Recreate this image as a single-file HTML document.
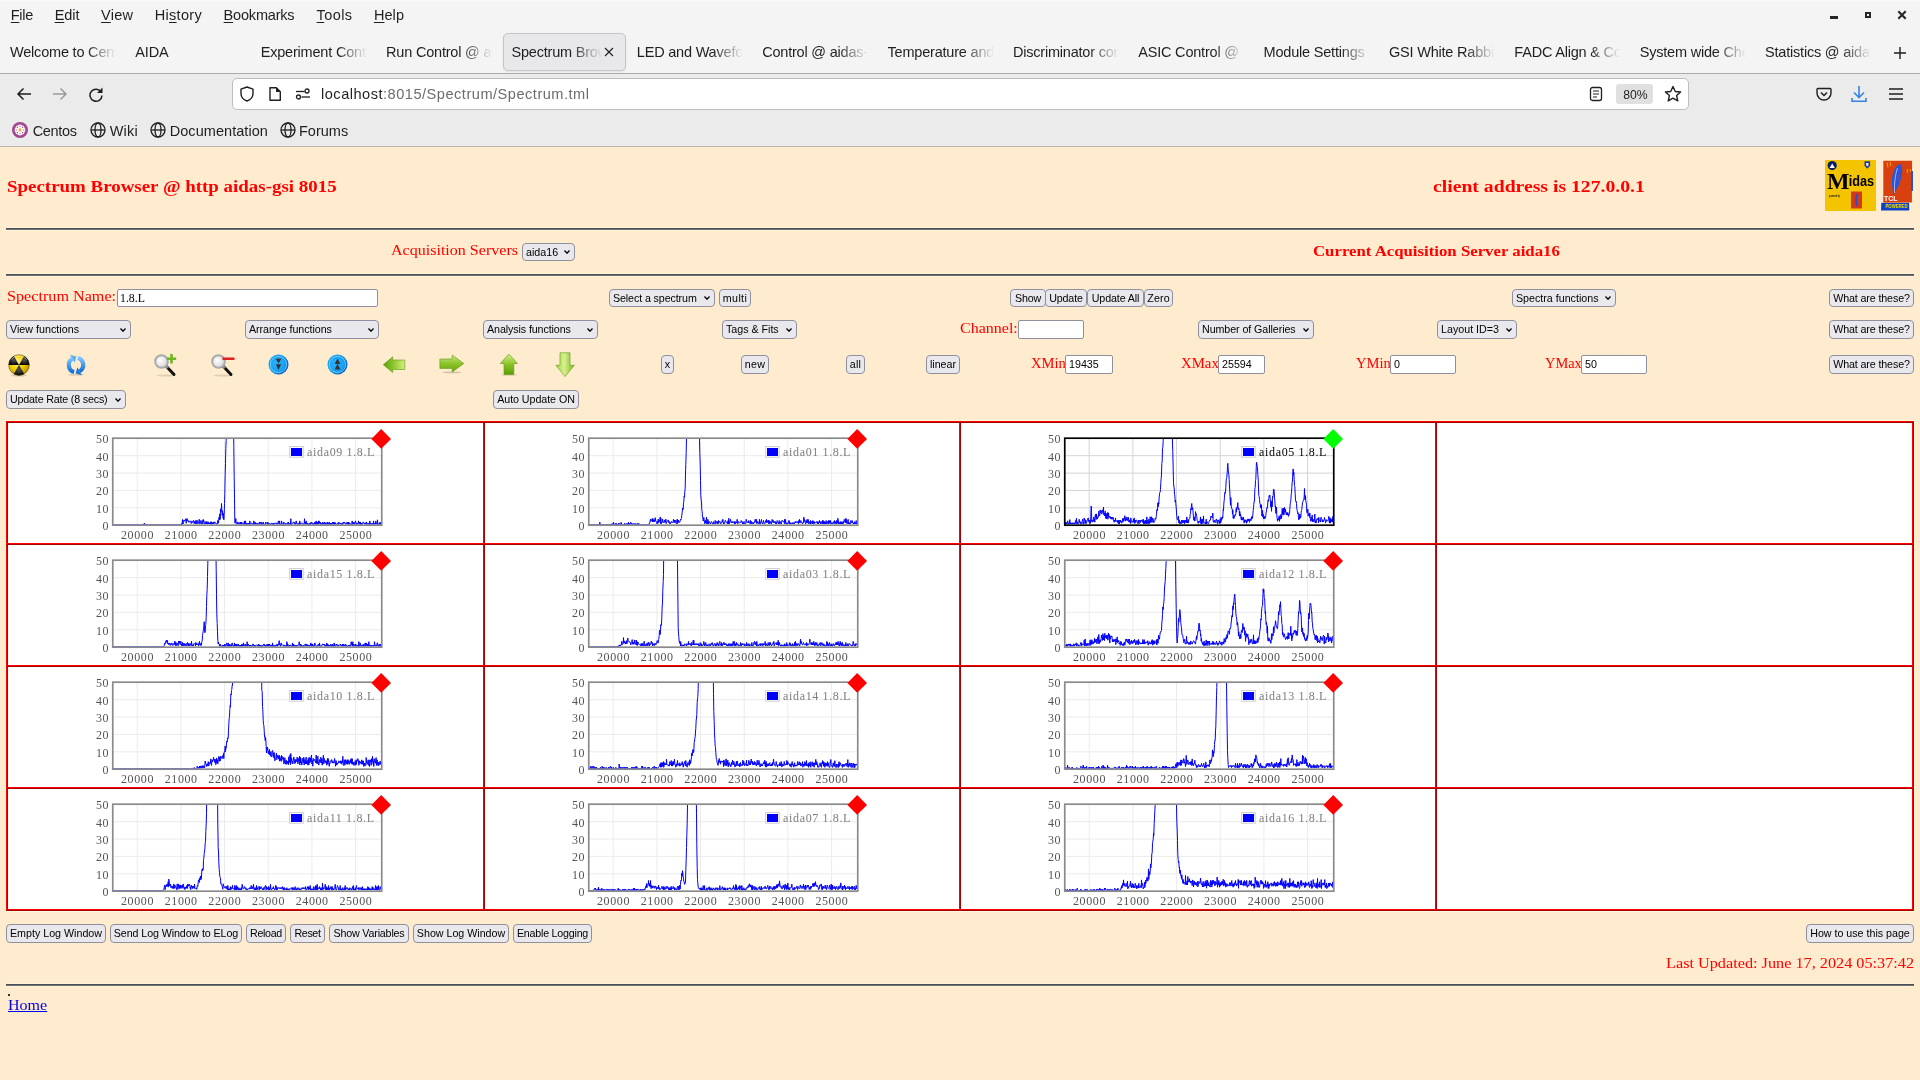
<!DOCTYPE html><html><head><meta charset="utf-8"><title>Spectrum Browser</title><style>
*{box-sizing:border-box}
html,body{margin:0;padding:0}
body{width:1920px;height:1080px;overflow:hidden;position:relative;background:#FFEBCD;font-family:"Liberation Sans", sans-serif;will-change:transform}
.ab{position:absolute;white-space:nowrap}
.menu{font-size:14.5px;color:#1f1f1f;top:7px}
.menu u{text-decoration:underline;text-underline-offset:2px}
.tab{font-size:14.5px;letter-spacing:-0.2px;color:#1f1f1f;top:44px;overflow:hidden;-webkit-mask-image:linear-gradient(to right,#000 72%,transparent 100%);mask-image:linear-gradient(to right,#000 72%,transparent 100%)}
.bm{font-size:14.5px;color:#1f1f1f;top:122.5px}
.btn{position:absolute;background:#e9e9ed;border:1px solid #8f8f9d;border-radius:4px;font-size:10.7px;color:#000;line-height:16px;white-space:nowrap;padding:0;text-align:center}
.sel{position:absolute;background:#e9e9ed;border:1px solid #8f8f9d;border-radius:4px;font-size:10.7px;color:#000;line-height:16px;white-space:nowrap;padding-left:3px;text-align:left}
.sel i{position:absolute;right:4px;top:50%;margin-top:-2px;width:6px;height:4px}
.inp{position:absolute;background:#fff;border:1px solid #8f8f9d;border-radius:2px;font-size:10.7px;color:#000;line-height:16px;white-space:nowrap;padding-left:3px}
.rs{font-family:"Liberation Serif", serif;color:#ff0000;position:absolute;white-space:nowrap}
.hr{position:absolute;left:6px;width:1908px;height:2px;background:linear-gradient(#4d5055 50%,#6d7075 50%);box-shadow:0 -1px 0 #fff3d8,0 1px 0 #fff3d8}
.sf{font-family:"Liberation Serif", serif;font-size:11.8px}
.ax{position:absolute;font-family:"Liberation Serif", serif;font-size:12px;letter-spacing:0.6px;color:#545454;white-space:nowrap;line-height:12px}
</style></head><body>
<div class="ab" style="left:0;top:0;width:1920px;height:73px;background:#f4f4f4"></div>
<div class="ab" style="left:0;top:0;width:1920px;height:1px;background:#fbfbfb"></div>
<div class="ab" style="left:0;top:73px;width:1920px;height:1px;background:#ababab"></div>
<div class="ab" style="left:0;top:74px;width:1920px;height:73px;background:#ebebeb"></div>
<div class="ab" style="left:0;top:145px;width:1920px;height:1px;background:#efefef"></div><div class="ab" style="left:0;top:146px;width:1920px;height:1px;background:#b6b7b3"></div>
<div id="mFile" class="ab menu" style="left:10.8px;letter-spacing:-0.325px;"><u>F</u>ile</div>
<div id="mEdit" class="ab menu" style="left:54.699999999999996px;letter-spacing:-0.033px;"><u>E</u>dit</div>
<div id="mView" class="ab menu" style="left:101.10000000000001px;letter-spacing:0.237px;"><u>V</u>iew</div>
<div id="mHistory" class="ab menu" style="left:154.70000000000002px;letter-spacing:0.312px;">Hi<u>s</u>tory</div>
<div id="mBookmarks" class="ab menu" style="left:223.6px;letter-spacing:-0.191px;"><u>B</u>ookmarks</div>
<div id="mTools" class="ab menu" style="left:316.59999999999997px;letter-spacing:0.385px;"><u>T</u>ools</div>
<div id="mHelp" class="ab menu" style="left:373.9px;letter-spacing:0.085px;"><u>H</u>elp</div>
<div class="ab" style="left:1830px;top:16px;width:8px;height:3px;background:#23272a"></div>
<div class="ab" style="left:1865px;top:12px;width:6px;height:6px;border:2px solid #23272a"></div>
<svg class="ab" style="left:1897px;top:10px" width="10" height="10" viewBox="0 0 10 10"><path d="M1.3 1.3L8.7 8.7M8.7 1.3L1.3 8.7" stroke="#23272a" stroke-width="2.1"/></svg>
<div class="ab tab" style="left:10.00px;width:106px">Welcome to CentOS Stream</div>
<div class="ab tab" style="left:135.36px;width:100px;-webkit-mask-image:none;mask-image:none">AIDA</div>
<div class="ab tab" style="left:260.72px;width:106px">Experiment Control</div>
<div class="ab tab" style="left:386.08px;width:106px">Run Control @ aidas</div>
<div class="ab" style="left:503px;top:33px;width:123px;height:38px;background:#e8e8ea;border:1px solid #c4c4cc;border-radius:5px;box-shadow:0 1px 2px rgba(0,0,0,0.08)"></div>
<div class="ab tab" style="left:511.44px;width:91px;-webkit-mask-image:linear-gradient(to right,#000 66%,transparent 100%)">Spectrum Browser</div>
<svg class="ab" style="left:604px;top:47px" width="10" height="10" viewBox="0 0 10 10"><path d="M1 1L9 9M9 1L1 9" stroke="#1f1f1f" stroke-width="1.1"/></svg>
<div class="ab tab" style="left:636.80px;width:106px">LED and Waveforms</div>
<div class="ab tab" style="left:762.16px;width:106px">Control @ aidas-gsi</div>
<div class="ab tab" style="left:887.52px;width:106px">Temperature and</div>
<div class="ab tab" style="left:1012.88px;width:106px">Discriminator control</div>
<div class="ab tab" style="left:1138.24px;width:106px">ASIC Control @ aidas</div>
<div class="ab tab" style="left:1263.60px;width:106px">Module Settings</div>
<div class="ab tab" style="left:1388.96px;width:106px">GSI White Rabbit</div>
<div class="ab tab" style="left:1514.32px;width:106px">FADC Align & Control</div>
<div class="ab tab" style="left:1639.68px;width:106px">System wide Checks</div>
<div class="ab tab" style="left:1765.04px;width:106px">Statistics @ aidas</div>
<svg class="ab" style="left:1893.5px;top:46.7px" width="12" height="12" viewBox="0 0 12 12"><path d="M6 0V12M0 6H12" stroke="#1f1f1f" stroke-width="1.4"/></svg>
<svg class="ab" style="left:16px;top:87px" width="16" height="14" viewBox="0 0 16 14"><path d="M15 7H2M7.5 1.5L2 7l5.5 5.5" stroke="#1f1f1f" stroke-width="1.5" fill="none"/></svg>
<svg class="ab" style="left:52px;top:87px" width="16" height="14" viewBox="0 0 16 14"><path d="M1 7H14M8.5 1.5L14 7l-5.5 5.5" stroke="#9a9a9a" stroke-width="1.5" fill="none"/></svg>
<svg class="ab" style="left:88px;top:86px" width="16" height="16" viewBox="0 0 16 16"><path d="M13.2 6.2A6 6 0 1 0 14 9.5" stroke="#1f1f1f" stroke-width="1.5" fill="none"/><path d="M14.5 1.5V7H9z" fill="#1f1f1f"/></svg>
<div class="ab" style="left:232px;top:78px;width:1457px;height:32px;background:#fff;border:1px solid #bdbdbd;border-radius:5px"></div>
<svg class="ab" style="left:239px;top:86px" width="16" height="16" viewBox="0 0 16 16"><path d="M8 1L2 3.2v4.3c0 3.6 2.6 6.3 6 7.5 3.4-1.2 6-3.9 6-7.5V3.2z" stroke="#1f1f1f" stroke-width="1.4" fill="none" stroke-linejoin="round"/></svg>
<svg class="ab" style="left:268px;top:86px" width="14" height="16" viewBox="0 0 14 16"><path d="M2 1.7h6.3L12.3 5.7V14.3H2z" stroke="#1f1f1f" stroke-width="1.4" fill="none" stroke-linejoin="round"/><path d="M8 1.5V6h4.5" fill="#1f1f1f"/><path d="M8 1.7L12.3 6H8z" fill="#1f1f1f"/></svg>
<svg class="ab" style="left:295px;top:88px" width="16" height="12" viewBox="0 0 16 12"><circle cx="12" cy="3" r="2" stroke="#1f1f1f" stroke-width="1.3" fill="none"/><path d="M1 3.5H9.5" stroke="#1f1f1f" stroke-width="1.3"/><circle cx="3.5" cy="9" r="2" stroke="#1f1f1f" stroke-width="1.3" fill="none"/><path d="M6.5 9H15" stroke="#1f1f1f" stroke-width="1.3"/></svg>
<div id="url" class="ab" style="left:321px;top:86px;font-size:14.6px;color:#1f1f1f;letter-spacing:0.496px;">localhost<span style="color:#6b6b6b">:8015/Spectrum/Spectrum.tml</span></div>
<svg class="ab" style="left:1589px;top:86px" width="14" height="16" viewBox="0 0 14 16"><rect x="1.5" y="1.5" width="11" height="13" rx="2" stroke="#1f1f1f" stroke-width="1.3" fill="none"/><path d="M4 5H10M4 8H10M4 11H8" stroke="#1f1f1f" stroke-width="1.2"/></svg>
<div class="ab" style="left:1616px;top:84px;width:37px;height:20px;background:#e0e0e0;border-radius:3px"></div>
<div class="ab" style="left:1623.3px;top:88px;font-size:12.2px;color:#1f1f1f">80%</div>
<svg class="ab" style="left:1664px;top:85px" width="18" height="18" viewBox="0 0 18 18"><path d="M9 1.5l2.3 5 5.3.5-4 3.6 1.2 5.3L9 13.2l-4.8 2.7 1.2-5.3-4-3.6 5.3-.5z" stroke="#1f1f1f" stroke-width="1.4" fill="none" stroke-linejoin="round"/></svg>
<svg class="ab" style="left:1816px;top:86px" width="16" height="16" viewBox="0 0 16 16"><path d="M2 2.5h12a1 1 0 0 1 1 1V7a7 7 0 0 1-14 0V3.5a1 1 0 0 1 1-1z" stroke="#1f1f1f" stroke-width="1.4" fill="none"/><path d="M5 6.5l3 3 3-3" stroke="#1f1f1f" stroke-width="1.5" fill="none"/></svg>
<svg class="ab" style="left:1851px;top:85px" width="16" height="18" viewBox="0 0 16 18"><path d="M8 1V12M3 7.5L8 12.5l5-5" stroke="#3584e4" stroke-width="1.6" fill="none"/><path d="M1 13V16.2H15V13" stroke="#3584e4" stroke-width="1.6" fill="none"/></svg>
<svg class="ab" style="left:1888px;top:87px" width="16" height="14" viewBox="0 0 16 14"><path d="M1 2H15M1 7H15M1 12H15" stroke="#1f1f1f" stroke-width="1.5"/></svg>
<svg class="ab" style="left:12px;top:122px" width="16" height="16" viewBox="0 0 16 16"><circle cx="8" cy="8" r="8" fill="#a0488f"/><g fill="none" stroke="#fff" stroke-width="1.1"><circle cx="11.20" cy="8.00" r="1.7"/><circle cx="10.26" cy="10.26" r="1.7"/><circle cx="8.00" cy="11.20" r="1.7"/><circle cx="5.74" cy="10.26" r="1.7"/><circle cx="4.80" cy="8.00" r="1.7"/><circle cx="5.74" cy="5.74" r="1.7"/><circle cx="8.00" cy="4.80" r="1.7"/><circle cx="10.26" cy="5.74" r="1.7"/></g><circle cx="8" cy="8" r="1.4" fill="#f6a623"/></svg>
<div id="bCentos" class="ab bm" style="left:32.7px;letter-spacing:-0.311px;">Centos</div>
<svg class="ab" style="left:90px;top:122px" width="16" height="16" viewBox="0 0 16 16"><g fill="none" stroke="#1f1f1f" stroke-width="1.3"><circle cx="8" cy="8" r="7"/><ellipse cx="8" cy="8" rx="3" ry="7"/><path d="M1 8H15"/></g></svg>
<div id="bWiki" class="ab bm" style="left:109.7px;letter-spacing:0.236px;">Wiki</div>
<svg class="ab" style="left:150px;top:122px" width="16" height="16" viewBox="0 0 16 16"><g fill="none" stroke="#1f1f1f" stroke-width="1.3"><circle cx="8" cy="8" r="7"/><ellipse cx="8" cy="8" rx="3" ry="7"/><path d="M1 8H15"/></g></svg>
<div id="bDocumentation" class="ab bm" style="left:169.7px;letter-spacing:0.056px;">Documentation</div>
<svg class="ab" style="left:280px;top:122px" width="16" height="16" viewBox="0 0 16 16"><g fill="none" stroke="#1f1f1f" stroke-width="1.3"><circle cx="8" cy="8" r="7"/><ellipse cx="8" cy="8" rx="3" ry="7"/><path d="M1 8H15"/></g></svg>
<div class="ab bm" style="left:299px">Forums</div>
<div id="title" class="rs" style="left:7px;top:176.6px;font-size:16.8px;font-weight:bold;transform:scaleX(1.1274);transform-origin:0 0;">Spectrum Browser @ http aidas-gsi 8015</div>
<div id="client" class="rs" style="left:1433px;top:176.6px;font-size:16.8px;font-weight:bold;transform:scaleX(1.1730);transform-origin:0 0;">client address is 127.0.0.1</div>
<svg class="ab" style="left:1825px;top:160px" width="52" height="52" viewBox="0 0 52 52">
<rect x="0" y="0" width="51" height="51" fill="#f5c400"/>
<circle cx="7.2" cy="5.6" r="4.6" fill="#0a1f6e"/><path d="M4.6 7.9L7.2 3.6 9.8 7.9z" fill="#fff"/>
<path d="M39.5 1.2h5.6v4.6l-2.8 3-2.8-3z" fill="#1a3aa0"/><path d="M41 3h2.6v2.2l-1.3 1.4-1.3-1.4z" fill="#d8d8f0"/>
<text x="2" y="29" font-family="Liberation Serif" font-weight="bold" font-size="24" fill="#000" textLength="22.5" lengthAdjust="spacingAndGlyphs">M</text>
<text x="23.8" y="26.2" font-family="Liberation Sans" font-weight="bold" font-size="14" fill="#000" textLength="25.3" lengthAdjust="spacingAndGlyphs">idas</text>
<text x="4" y="36.5" font-family="Liberation Sans" font-weight="bold" font-size="3.2" fill="#222" textLength="11" lengthAdjust="spacingAndGlyphs">powered by</text>
<rect x="26" y="31.5" width="11" height="17" fill="#d33a1a"/><path d="M32.5 34q-2.5 5-0.5 12" stroke="#2850c8" stroke-width="2" fill="none"/>
</svg>
<svg class="ab" style="left:1881px;top:160px" width="33" height="52" viewBox="0 0 33 52">
<path d="M0.3 42.8h27.7l0.3 7.8H0z" fill="#1040c8"/>
<path d="M2.3 0.7h28.8l-0.2 41.8H2.3z" fill="#d8400f"/>
<path d="M30 11h2v20h-2z" fill="#2850d8"/>
<path d="M19.5 4C13 6 10.5 15 11 25L12.5 35.5 14.5 31C17 27 19.5 22 20.5 17 21.5 12 21.5 8 19.5 4z" fill="#2a55d8"/><path d="M16.5 8Q13 18 13.5 33" stroke="#b8d0f8" stroke-width="0.8" fill="none"/><path d="M20 14l-3 3M19.5 19l-3 2.5" stroke="#d8400f" stroke-width="0.7"/>
<path d="M6 2.5l1 5M9 2l0.8 4M26 9l0.6 4M29 9l0.5 3" stroke="#f4a000" stroke-width="1.1"/>
<text x="3" y="41" font-family="Liberation Sans" font-weight="bold" font-size="6.5" fill="#fff" textLength="13.5" lengthAdjust="spacingAndGlyphs">TCL</text>
<text x="4.5" y="48.3" font-family="Liberation Sans" font-weight="bold" font-size="5" fill="#f5e000" textLength="22" lengthAdjust="spacingAndGlyphs">POWERED</text>
</svg>
<div class="hr" style="top:228px"></div>
<div class="hr" style="top:274px"></div>
<div class="hr" style="top:984px"></div>
<div id="acq" class="rs" style="left:391px;top:242px;font-size:14.8px;transform:scaleX(1.0842);transform-origin:0 0;">Acquisition Servers</div>
<div id="cur" class="rs" style="left:1313px;top:243px;font-size:14.8px;font-weight:bold;transform:scaleX(1.1336);transform-origin:0 0;">Current Acquisition Server aida16</div>
<div class="sel" style="left:522px;top:243px;width:53px;height:18px;line-height:16px">aida16<i><svg width="6" height="4" viewBox="0 0 6 4" style="display:block"><path d="M0.5 0.5L3 3.2 5.5 0.5" stroke="#000" stroke-width="1.3" fill="none"/></svg></i></div>
<div id="specname" class="rs" style="left:7px;top:288px;font-size:14.8px;transform:scaleX(1.0925);transform-origin:0 0;">Spectrum Name:</div>
<div class="inp" style="left:117px;top:289px;width:261px;height:18px;line-height:16px;padding-left:2px"><span class="sf">1.8.L</span></div>
<div class="sel" style="left:609px;top:289px;width:106px;height:18px;line-height:16px"><span id="c2" style="letter-spacing:-0.109px;">Select a spectrum</span><i><svg width="6" height="4" viewBox="0 0 6 4" style="display:block"><path d="M0.5 0.5L3 3.2 5.5 0.5" stroke="#000" stroke-width="1.3" fill="none"/></svg></i></div>
<div class="btn" style="left:719px;top:289px;width:32px;height:18px;line-height:16px"><span id="c3" style="letter-spacing:0.355px;">multi</span></div>
<div class="btn" style="left:1010px;top:289px;width:36px;height:18px;line-height:16px"><span id="c4" style="letter-spacing:-0.183px;">Show</span></div>
<div class="btn" style="left:1045px;top:289px;width:42px;height:18px;line-height:16px"><span id="c5" style="letter-spacing:-0.174px;">Update</span></div>
<div class="btn" style="left:1087px;top:289px;width:57px;height:18px;line-height:16px"><span id="c6" style="letter-spacing:-0.115px;">Update All</span></div>
<div class="btn" style="left:1144px;top:289px;width:29px;height:18px;line-height:16px"><span id="c7" style="letter-spacing:0.105px;">Zero</span></div>
<div class="sel" style="left:1512px;top:289px;width:104px;height:18px;line-height:16px"><span id="c8" style="letter-spacing:-0.005px;">Spectra functions</span><i><svg width="6" height="4" viewBox="0 0 6 4" style="display:block"><path d="M0.5 0.5L3 3.2 5.5 0.5" stroke="#000" stroke-width="1.3" fill="none"/></svg></i></div>
<div class="btn" style="left:1829px;top:289px;width:85px;height:18px;line-height:16px"><span id="c9" style="letter-spacing:-0.116px;">What are these?</span></div>
<div class="sel" style="left:6px;top:320px;width:125px;height:19px;line-height:17px"><span id="c10" style="letter-spacing:0.022px;">View functions</span><i><svg width="6" height="4" viewBox="0 0 6 4" style="display:block"><path d="M0.5 0.5L3 3.2 5.5 0.5" stroke="#000" stroke-width="1.3" fill="none"/></svg></i></div>
<div class="sel" style="left:245px;top:320px;width:134px;height:19px;line-height:17px"><span id="c11" style="letter-spacing:-0.055px;">Arrange functions</span><i><svg width="6" height="4" viewBox="0 0 6 4" style="display:block"><path d="M0.5 0.5L3 3.2 5.5 0.5" stroke="#000" stroke-width="1.3" fill="none"/></svg></i></div>
<div class="sel" style="left:483px;top:320px;width:115px;height:19px;line-height:17px"><span id="c12" style="letter-spacing:-0.097px;">Analysis functions</span><i><svg width="6" height="4" viewBox="0 0 6 4" style="display:block"><path d="M0.5 0.5L3 3.2 5.5 0.5" stroke="#000" stroke-width="1.3" fill="none"/></svg></i></div>
<div class="sel" style="left:722px;top:320px;width:75px;height:19px;line-height:17px"><span id="c13" style="letter-spacing:-0.016px;">Tags &amp; Fits</span><i><svg width="6" height="4" viewBox="0 0 6 4" style="display:block"><path d="M0.5 0.5L3 3.2 5.5 0.5" stroke="#000" stroke-width="1.3" fill="none"/></svg></i></div>
<div id="channel" class="rs" style="left:960px;top:320px;font-size:14.8px;transform:scaleX(1.0816);transform-origin:0 0;">Channel:</div>
<div class="inp" style="left:1018px;top:320px;width:66px;height:19px;line-height:17px;"></div>
<div class="sel" style="left:1198px;top:320px;width:116px;height:19px;line-height:17px"><span id="c14" style="letter-spacing:-0.075px;">Number of Galleries</span><i><svg width="6" height="4" viewBox="0 0 6 4" style="display:block"><path d="M0.5 0.5L3 3.2 5.5 0.5" stroke="#000" stroke-width="1.3" fill="none"/></svg></i></div>
<div class="sel" style="left:1437px;top:320px;width:80px;height:19px;line-height:17px"><span id="c15" style="letter-spacing:0.006px;">Layout ID=3</span><i><svg width="6" height="4" viewBox="0 0 6 4" style="display:block"><path d="M0.5 0.5L3 3.2 5.5 0.5" stroke="#000" stroke-width="1.3" fill="none"/></svg></i></div>
<div class="btn" style="left:1829px;top:320px;width:85px;height:19px;line-height:17px"><span id="c16" style="letter-spacing:-0.116px;">What are these?</span></div>
<div class="btn" style="left:661px;top:355px;width:13px;height:19px;line-height:17px">x</div>
<div class="btn" style="left:741px;top:355px;width:28px;height:19px;line-height:17px"><span id="c18" style="letter-spacing:0.245px;">new</span></div>
<div class="btn" style="left:846px;top:355px;width:19px;height:19px;line-height:17px"><span id="c19" style="letter-spacing:0.298px;">all</span></div>
<div class="btn" style="left:926px;top:355px;width:34px;height:19px;line-height:17px"><span id="c20" style="letter-spacing:0.012px;">linear</span></div>
<div id="xmin" class="rs" style="left:1031px;top:355px;font-size:14.8px;transform:scaleX(0.9842);transform-origin:0 0;">XMin</div>
<div class="inp" style="left:1065px;top:355px;width:48px;height:19px;line-height:17px;">19435</div>
<div id="xmax" class="rs" style="left:1181px;top:355px;font-size:14.8px;transform:scaleX(0.9997);transform-origin:0 0;">XMax</div>
<div class="inp" style="left:1218px;top:355px;width:47px;height:19px;line-height:17px;">25594</div>
<div id="ymin" class="rs" style="left:1356px;top:355px;font-size:14.8px;transform:scaleX(0.9842);transform-origin:0 0;">YMin</div>
<div class="inp" style="left:1390px;top:355px;width:66px;height:19px;line-height:17px;">0</div>
<div id="ymax" class="rs" style="left:1544.6px;top:355px;font-size:14.8px;transform:scaleX(0.9732);transform-origin:0 0;">YMax</div>
<div class="inp" style="left:1581px;top:355px;width:66px;height:19px;line-height:17px;">50</div>
<div class="btn" style="left:1829px;top:355px;width:85px;height:19px;line-height:17px"><span id="c21" style="letter-spacing:-0.116px;">What are these?</span></div>
<div class="sel" style="left:6px;top:390px;width:120px;height:19px;line-height:17px"><span id="c22" style="letter-spacing:-0.178px;">Update Rate (8 secs)</span><i><svg width="6" height="4" viewBox="0 0 6 4" style="display:block"><path d="M0.5 0.5L3 3.2 5.5 0.5" stroke="#000" stroke-width="1.3" fill="none"/></svg></i></div>
<div class="btn" style="left:493px;top:390px;width:86px;height:19px;line-height:17px"><span id="c23" style="letter-spacing:-0.056px;">Auto Update ON</span></div>
<div class="btn" style="left:6px;top:924px;width:100px;height:19px;line-height:17px"><span id="c24" style="letter-spacing:-0.005px;">Empty Log Window</span></div>
<div class="btn" style="left:110px;top:924px;width:132px;height:19px;line-height:17px"><span id="c25" style="letter-spacing:-0.098px;">Send Log Window to ELog</span></div>
<div class="btn" style="left:246px;top:924px;width:40px;height:19px;line-height:17px"><span id="c26" style="letter-spacing:-0.315px;">Reload</span></div>
<div class="btn" style="left:290px;top:924px;width:35px;height:19px;line-height:17px"><span id="c27" style="letter-spacing:-0.405px;">Reset</span></div>
<div class="btn" style="left:329px;top:924px;width:80px;height:19px;line-height:17px"><span id="c28" style="letter-spacing:-0.167px;">Show Variables</span></div>
<div class="btn" style="left:413px;top:924px;width:96px;height:19px;line-height:17px"><span id="c29" style="letter-spacing:-0.017px;">Show Log Window</span></div>
<div class="btn" style="left:513px;top:924px;width:79px;height:19px;line-height:17px"><span id="c30" style="letter-spacing:-0.223px;">Enable Logging</span></div>
<div class="btn" style="left:1806px;top:924px;width:108px;height:19px;line-height:17px"><span id="c31" style="letter-spacing:-0.011px;">How to use this page</span></div>
<div id="last" class="rs" style="left:1666px;top:955px;font-size:14.8px;transform:scaleX(1.0976);transform-origin:0 0;">Last Updated: June 17, 2024 05:37:42</div>
<div class="ab" style="left:8px;top:994px;width:2px;height:2px;background:#333"></div>
<div id="home" class="rs" style="left:8px;top:997px;font-size:14.8px;color:#0000ee;text-decoration:underline;transform:scaleX(1.0837);transform-origin:0 0;">Home</div>
<svg width="0" height="0" style="position:absolute"><defs>
<radialGradient id="gy" cx="0.4" cy="0.35" r="0.7"><stop offset="0" stop-color="#fff7a0"/><stop offset="0.5" stop-color="#f5d000"/><stop offset="1" stop-color="#b08a00"/></radialGradient>
<linearGradient id="gb" x1="0" y1="0" x2="0" y2="1"><stop offset="0" stop-color="#7cc4ff"/><stop offset="1" stop-color="#1470d8"/></linearGradient>
<radialGradient id="gbb" cx="0.42" cy="0.45" r="0.55"><stop offset="0" stop-color="#2ab4ff"/><stop offset="0.8" stop-color="#129ef2"/><stop offset="1" stop-color="#0a5cc0"/></radialGradient>
<linearGradient id="gg" x1="0" y1="0" x2="0" y2="1"><stop offset="0" stop-color="#d8f080"/><stop offset="0.5" stop-color="#8cc828"/><stop offset="1" stop-color="#5a9a10"/></linearGradient>
<linearGradient id="ggh" x1="0" y1="0" x2="1" y2="0"><stop offset="0" stop-color="#d8f080"/><stop offset="0.5" stop-color="#8cc828"/><stop offset="1" stop-color="#5a9a10"/></linearGradient>
<radialGradient id="gl" cx="0.4" cy="0.4" r="0.6"><stop offset="0" stop-color="#ffffff"/><stop offset="1" stop-color="#d8d8d8"/></radialGradient>
</defs></svg>
<svg class="ab" style="left:8px;top:354px" width="22" height="23" viewBox="0 0 22 23"><defs><radialGradient id="gk" cx="0.5" cy="0.45" r="0.6"><stop offset="0" stop-color="#555"/><stop offset="0.7" stop-color="#1a1a1a"/><stop offset="1" stop-color="#000"/></radialGradient></defs><ellipse cx="11" cy="21.3" rx="8" ry="1.2" fill="rgba(0,0,0,0.15)"/><circle cx="11" cy="11" r="10.3" fill="url(#gy)"/><path d="M11 11L0.70 11.00A10.3 10.3 0 0 1 5.85 2.08z" fill="url(#gk)"/><path d="M11 11L16.15 2.08A10.3 10.3 0 0 1 21.30 11.00z" fill="url(#gk)"/><path d="M11 11L16.15 19.92A10.3 10.3 0 0 1 5.85 19.92z" fill="url(#gk)"/><path d="M3.5 5.5A9.5 9.5 0 0 1 18.5 5.5" stroke="rgba(255,255,255,0.55)" stroke-width="0.8" fill="none"/><circle cx="11" cy="11" r="10.3" fill="none" stroke="#3a2a00" stroke-width="0.5"/></svg>
<svg class="ab" style="left:65px;top:354px" width="22" height="22" viewBox="0 0 22 22"><ellipse cx="11" cy="20.8" rx="8" ry="1" fill="rgba(0,0,0,0.12)"/><path d="M9.14 17.95A7.2 7.2 0 0 1 7.40 4.76" stroke="url(#gb)" stroke-width="4.2" fill="none"/><path d="M11.38 2.46L5.10 0.78L9.70 8.75z" fill="#5ab0f0"/><path d="M12.86 4.05A7.2 7.2 0 0 1 14.60 17.24" stroke="url(#gb)" stroke-width="4.2" fill="none"/><path d="M10.62 19.54L16.90 21.22L12.30 13.25z" fill="#1a78d8"/></svg>
<svg class="ab" style="left:153px;top:353px" width="26" height="24" viewBox="0 0 26 24"><ellipse cx="13" cy="22.5" rx="9" ry="1" fill="rgba(0,0,0,0.12)"/><path d="M13 13L21 21.5" stroke="#111" stroke-width="3" stroke-linecap="round"/><path d="M12.5 12.5L15 15" stroke="#888" stroke-width="3"/><circle cx="8.5" cy="8.5" r="6.3" fill="url(#gl)" stroke="#aaa" stroke-width="2"/><path d="M18.5 1V10.5M13.8 5.8H23.2" stroke="#6cb820" stroke-width="2.6"/></svg>
<svg class="ab" style="left:210px;top:353px" width="26" height="24" viewBox="0 0 26 24"><ellipse cx="13" cy="22.5" rx="9" ry="1" fill="rgba(0,0,0,0.12)"/><path d="M13 13L21 21.5" stroke="#111" stroke-width="3" stroke-linecap="round"/><path d="M12.5 12.5L15 15" stroke="#888" stroke-width="3"/><circle cx="8.5" cy="8.5" r="6.3" fill="url(#gl)" stroke="#aaa" stroke-width="2"/><path d="M13.5 5.8H23.5" stroke="#e02020" stroke-width="2.6" stroke-linecap="round"/></svg>
<svg class="ab" style="left:268px;top:354px" width="21" height="21" viewBox="0 0 21 21"><circle cx="10.5" cy="10.5" r="10" fill="url(#gbb)"/><circle cx="10.5" cy="10.5" r="8.2" fill="none" stroke="#9fdcff" stroke-width="0.8" opacity="0.8"/><path d="M10.5 9.5L13.3 4.8H7.7z M10.5 16L13.2 10.2H7.8z" fill="#3a3230"/></svg>
<svg class="ab" style="left:327px;top:354px" width="21" height="21" viewBox="0 0 21 21"><circle cx="10.5" cy="10.5" r="10" fill="url(#gbb)"/><circle cx="10.5" cy="10.5" r="8.2" fill="none" stroke="#9fdcff" stroke-width="0.8" opacity="0.8"/><path d="M10.5 4.6L13.4 10H7.6z M10.5 9.8L13.4 15.5H7.6z" fill="#3a3230"/></svg>
<svg class="ab" style="left:378px;top:350px" width="202" height="30" viewBox="378 350 202 30"><defs><linearGradient id="ga1" x1="0" y1="0" x2="1" y2="0"><stop offset="0" stop-color="#5c9e0c"/><stop offset="0.45" stop-color="#8cc42a"/><stop offset="1" stop-color="#d6ee86"/></linearGradient><linearGradient id="ga2" x1="0" y1="0" x2="0" y2="1"><stop offset="0" stop-color="#cfe98a"/><stop offset="0.5" stop-color="#8cc42a"/><stop offset="1" stop-color="#6aa814"/></linearGradient><linearGradient id="ga3" x1="0" y1="0" x2="0" y2="1"><stop offset="0" stop-color="#d2ec8a"/><stop offset="0.55" stop-color="#86c020"/><stop offset="1" stop-color="#5c9e0c"/></linearGradient><linearGradient id="ga4" x1="0" y1="0" x2="1" y2="0"><stop offset="0" stop-color="#a6d448"/><stop offset="0.45" stop-color="#d8f090"/><stop offset="1" stop-color="#7cb81c"/></linearGradient></defs><ellipse cx="452" cy="372.3" rx="10" ry="0.9" fill="rgba(0,0,0,0.18)"/><ellipse cx="509" cy="374.8" rx="8" ry="0.9" fill="rgba(0,0,0,0.15)"/><path d="M383.3 364.7L392.7 356.8V360H404.8V369.5H392.7V372.6Z" fill="url(#ga1)" stroke="#5a9a10" stroke-width="0.6" stroke-linejoin="round"/><path d="M463.8 363.5L452.2 355V359H439.9V368.4H452.2V372.1Z" fill="url(#ga2)" stroke="#5a9a10" stroke-width="0.6" stroke-linejoin="round"/><path d="M508.9 354L517.5 363.5H513.8V374.4H504V363.5H500.3Z" fill="url(#ga3)" stroke="#5a9a10" stroke-width="0.6" stroke-linejoin="round"/><path d="M565.1 376.6L574.3 365.3H570V352.8H560V365.3H555.9Z" fill="url(#ga4)" stroke="#5a9a10" stroke-width="0.6" stroke-linejoin="round"/></svg>
<div class="ab" style="left:5px;top:420px;width:1910px;height:492px;background:#fffadc"></div>
<div class="ab" style="left:6px;top:421px;width:1908px;height:490px;background:#fff"></div>
<div class="ab" style="left:6px;top:421px;width:1px;height:490px;background:#ff0000"></div>
<div class="ab" style="left:7px;top:421px;width:1px;height:490px;background:#a80000"></div>
<div class="ab" style="left:483px;top:421px;width:1px;height:490px;background:#ff0000"></div>
<div class="ab" style="left:484px;top:421px;width:1px;height:490px;background:#a80000"></div>
<div class="ab" style="left:959px;top:421px;width:1px;height:490px;background:#ff0000"></div>
<div class="ab" style="left:960px;top:421px;width:1px;height:490px;background:#a80000"></div>
<div class="ab" style="left:1435px;top:421px;width:1px;height:490px;background:#ff0000"></div>
<div class="ab" style="left:1436px;top:421px;width:1px;height:490px;background:#a80000"></div>
<div class="ab" style="left:1912px;top:421px;width:1px;height:490px;background:#ff0000"></div>
<div class="ab" style="left:1913px;top:421px;width:1px;height:490px;background:#a80000"></div>
<div class="ab" style="left:6px;top:421px;width:1908px;height:1px;background:#ff0000"></div>
<div class="ab" style="left:6px;top:422px;width:1908px;height:1px;background:#a80000"></div>
<div class="ab" style="left:6px;top:543px;width:1908px;height:1px;background:#ff0000"></div>
<div class="ab" style="left:6px;top:544px;width:1908px;height:1px;background:#a80000"></div>
<div class="ab" style="left:6px;top:665px;width:1908px;height:1px;background:#ff0000"></div>
<div class="ab" style="left:6px;top:666px;width:1908px;height:1px;background:#a80000"></div>
<div class="ab" style="left:6px;top:787px;width:1908px;height:1px;background:#ff0000"></div>
<div class="ab" style="left:6px;top:788px;width:1908px;height:1px;background:#a80000"></div>
<div class="ab" style="left:6px;top:909px;width:1908px;height:1px;background:#ff0000"></div>
<div class="ab" style="left:6px;top:910px;width:1908px;height:1px;background:#a80000"></div>
<svg class="ab" style="left:0;top:0" width="1920" height="1080" viewBox="0 0 1920 1080"><defs><clipPath id="cp0"><rect x="112.5" y="438.4" width="269.0" height="86.7"/></clipPath><clipPath id="cp1"><rect x="588.5" y="438.4" width="269.0" height="86.7"/></clipPath><clipPath id="cp2"><rect x="1064.5" y="438.4" width="269.0" height="86.7"/></clipPath><clipPath id="cp3"><rect x="112.5" y="560.4" width="269.0" height="86.7"/></clipPath><clipPath id="cp4"><rect x="588.5" y="560.4" width="269.0" height="86.7"/></clipPath><clipPath id="cp5"><rect x="1064.5" y="560.4" width="269.0" height="86.7"/></clipPath><clipPath id="cp6"><rect x="112.5" y="682.4" width="269.0" height="86.7"/></clipPath><clipPath id="cp7"><rect x="588.5" y="682.4" width="269.0" height="86.7"/></clipPath><clipPath id="cp8"><rect x="1064.5" y="682.4" width="269.0" height="86.7"/></clipPath><clipPath id="cp9"><rect x="112.5" y="804.4" width="269.0" height="86.7"/></clipPath><clipPath id="cp10"><rect x="588.5" y="804.4" width="269.0" height="86.7"/></clipPath><clipPath id="cp11"><rect x="1064.5" y="804.4" width="269.0" height="86.7"/></clipPath><style>.tx{font-family:"Liberation Serif",serif;font-size:12px;letter-spacing:0.6px;fill:#545454}</style></defs><path d="M137.2 438.4V525.1M180.9 438.4V525.1M224.5 438.4V525.1M268.2 438.4V525.1M311.9 438.4V525.1M355.6 438.4V525.1M112.5 507.8H381.5M112.5 490.4H381.5M112.5 473.1H381.5M112.5 455.7H381.5" stroke="#ebebeb" stroke-width="1" fill="none"/><polyline clip-path="url(#cp0)" points="112.5,524.7 112.8,524.7 113.2,524.7 113.5,524.7 113.8,524.7 114.2,524.7 114.5,524.7 114.8,524.7 115.2,524.7 115.5,524.7 115.8,524.7 116.2,524.7 116.5,524.7 116.8,524.7 117.2,524.7 117.5,524.7 117.8,524.7 118.2,524.7 118.5,524.7 118.8,524.7 119.2,524.7 119.5,524.7 119.8,524.7 120.2,524.7 120.5,524.7 120.8,524.7 121.2,524.7 121.5,524.7 121.8,524.7 122.2,524.7 122.5,524.7 122.8,524.7 123.2,524.7 123.5,524.7 123.8,524.7 124.2,524.7 124.5,524.7 124.8,524.7 125.2,524.7 125.5,524.7 125.8,524.7 126.2,524.7 126.5,524.7 126.8,524.7 127.2,524.7 127.5,524.7 127.8,524.7 128.2,524.7 128.5,524.7 128.8,524.7 129.2,524.7 129.5,524.7 129.8,524.7 130.2,524.7 130.5,524.7 130.8,524.7 131.2,524.7 131.5,524.7 131.8,524.7 132.2,524.7 132.5,524.7 132.8,524.7 133.2,524.7 133.5,524.7 133.8,524.7 134.2,524.7 134.5,524.7 134.8,524.7 135.2,524.7 135.5,524.7 135.8,524.7 136.2,524.7 136.5,524.7 136.8,524.7 137.2,524.7 137.5,524.7 137.8,524.7 138.2,524.7 138.5,524.7 138.8,524.7 139.2,524.7 139.5,524.7 139.8,524.7 140.2,524.7 140.5,524.7 140.8,524.7 141.2,524.7 141.5,524.7 141.8,524.7 142.2,524.7 142.5,524.7 142.8,524.7 143.2,524.7 143.5,524.7 143.8,524.7 144.2,523.4 144.5,523.0 144.8,524.5 145.2,524.7 145.5,524.7 145.8,524.7 146.2,524.7 146.5,524.7 146.8,524.7 147.2,524.7 147.5,524.7 147.8,524.7 148.2,524.7 148.5,524.7 148.8,524.7 149.2,524.7 149.5,524.7 149.8,524.7 150.2,524.7 150.5,524.7 150.8,524.7 151.2,524.5 151.5,524.1 151.8,524.5 152.2,524.7 152.5,524.7 152.8,524.7 153.2,524.7 153.5,524.7 153.8,524.7 154.2,524.7 154.5,524.7 154.8,524.7 155.2,524.7 155.5,524.7 155.8,524.7 156.2,524.7 156.5,524.7 156.8,524.7 157.2,524.7 157.5,524.7 157.8,524.7 158.2,524.7 158.5,524.7 158.8,524.7 159.2,524.7 159.5,524.7 159.8,524.7 160.2,524.7 160.5,524.7 160.8,524.7 161.2,524.7 161.5,524.7 161.8,524.7 162.2,524.7 162.5,524.7 162.8,524.7 163.2,524.7 163.5,524.7 163.8,524.7 164.2,524.7 164.5,524.7 164.8,524.7 165.2,524.7 165.5,524.7 165.8,524.7 166.2,524.7 166.5,524.7 166.8,524.7 167.2,524.7 167.5,524.7 167.8,524.7 168.2,524.7 168.5,524.7 168.8,524.7 169.2,524.7 169.5,524.7 169.8,524.7 170.2,524.7 170.5,524.7 170.8,524.7 171.2,524.7 171.5,524.7 171.8,524.7 172.2,524.7 172.5,524.7 172.8,524.7 173.2,524.7 173.5,524.7 173.8,524.7 174.2,524.7 174.5,524.7 174.8,524.7 175.2,524.7 175.5,524.7 175.8,524.7 176.2,524.7 176.5,524.7 176.8,524.7 177.2,524.7 177.5,524.7 177.8,524.7 178.2,524.7 178.5,524.7 178.8,524.7 179.2,524.7 179.5,524.7 179.8,524.7 180.2,524.7 180.5,524.7 180.8,524.7 181.2,524.7 181.5,524.7 181.8,523.3 182.2,524.2 182.5,519.5 182.8,522.8 183.2,523.8 183.5,522.6 183.8,520.2 184.2,520.1 184.5,521.1 184.8,521.1 185.2,520.0 185.5,519.9 185.8,518.8 186.2,523.3 186.5,521.0 186.8,518.7 187.2,518.7 187.5,520.9 187.8,519.9 188.2,521.0 188.5,522.2 188.8,522.2 189.2,522.2 189.5,521.1 189.8,521.1 190.2,521.2 190.5,521.2 190.8,521.2 191.2,523.5 191.5,521.3 191.8,521.3 192.2,521.3 192.5,522.5 192.8,521.4 193.2,521.4 193.5,520.3 193.8,521.4 194.2,523.7 194.5,521.4 194.8,522.6 195.2,522.6 195.5,523.7 195.8,520.3 196.2,520.4 196.5,523.7 196.8,521.5 197.2,520.4 197.5,521.5 197.8,523.8 198.2,522.7 198.5,522.7 198.8,522.7 199.2,519.3 199.5,523.8 199.8,523.8 200.2,523.8 200.5,521.6 200.8,520.5 201.2,522.8 201.5,523.9 201.8,523.9 202.2,520.5 202.5,521.7 202.8,523.9 203.2,519.4 203.5,521.7 203.8,520.6 204.2,522.8 204.5,524.0 204.8,524.0 205.2,524.0 205.5,521.7 205.8,522.9 206.2,521.7 206.5,524.0 206.8,521.7 207.2,521.8 207.5,524.0 207.8,524.0 208.2,521.8 208.5,524.0 208.8,522.9 209.2,524.0 209.5,522.9 209.8,522.9 210.2,524.1 210.5,521.8 210.8,524.1 211.2,524.1 211.5,521.8 211.8,524.1 212.2,523.0 212.5,524.1 212.8,523.0 213.2,521.9 213.5,523.0 213.8,524.1 214.2,523.0 214.5,521.9 214.8,521.9 215.2,523.0 215.5,523.0 215.8,523.0 216.2,524.1 216.5,524.1 216.8,524.1 217.2,524.1 217.5,523.0 217.8,520.4 218.2,522.4 218.5,523.2 218.8,518.4 219.2,517.0 219.5,520.0 219.8,513.9 220.2,519.4 220.5,508.9 220.8,511.8 221.2,511.6 221.5,503.5 221.8,509.2 222.2,515.3 222.5,510.8 222.8,515.4 223.2,518.4 223.5,513.5 223.8,519.8 224.2,514.6 224.5,503.7 224.8,493.8 225.2,474.7 225.5,463.4 225.8,448.8 226.2,440.5 226.5,421.1 226.8,421.1 227.2,421.1 227.5,421.1 227.8,421.1 228.2,421.1 228.5,421.1 228.8,421.1 229.2,421.1 229.5,421.1 229.8,421.1 230.2,421.1 230.5,421.1 230.8,421.1 231.2,421.1 231.5,421.1 231.8,421.1 232.2,421.1 232.5,421.1 232.8,421.1 233.2,421.1 233.5,421.1 233.8,446.4 234.2,476.7 234.5,498.2 234.8,523.0 235.2,523.0 235.5,521.9 235.8,518.5 236.2,523.0 236.5,524.1 236.8,524.1 237.2,524.2 237.5,523.0 237.8,521.9 238.2,523.1 238.5,523.1 238.8,524.2 239.2,524.2 239.5,523.1 239.8,523.1 240.2,522.0 240.5,524.2 240.8,522.0 241.2,523.1 241.5,522.0 241.8,524.3 242.2,523.1 242.5,523.2 242.8,523.2 243.2,524.3 243.5,524.3 243.8,523.2 244.2,522.0 244.5,520.9 244.8,524.3 245.2,524.3 245.5,520.9 245.8,524.3 246.2,523.2 246.5,524.3 246.8,523.2 247.2,523.2 247.5,524.3 247.8,524.3 248.2,524.3 248.5,523.2 248.8,524.3 249.2,524.3 249.5,524.3 249.8,520.9 250.2,523.2 250.5,524.3 250.8,524.3 251.2,523.2 251.5,523.2 251.8,523.2 252.2,523.2 252.5,524.3 252.8,524.3 253.2,524.3 253.5,524.3 253.8,520.9 254.2,524.3 254.5,524.3 254.8,523.2 255.2,522.0 255.5,524.3 255.8,523.2 256.2,524.3 256.5,524.3 256.8,523.2 257.2,523.2 257.5,523.2 257.8,524.3 258.2,524.3 258.5,524.3 258.8,523.2 259.2,523.2 259.5,522.0 259.8,524.3 260.2,524.3 260.5,523.2 260.8,522.0 261.2,522.0 261.5,524.3 261.8,524.3 262.2,523.2 262.5,523.2 262.8,524.3 263.2,522.0 263.5,523.2 263.8,524.3 264.2,524.3 264.5,524.3 264.8,524.3 265.2,524.3 265.5,524.3 265.8,522.0 266.2,523.2 266.5,523.2 266.8,523.2 267.2,523.2 267.5,524.3 267.8,522.0 268.2,524.3 268.5,524.3 268.8,524.3 269.2,523.2 269.5,524.3 269.8,524.3 270.2,524.3 270.5,524.3 270.8,524.3 271.2,523.2 271.5,523.2 271.8,524.3 272.2,524.3 272.5,524.3 272.8,523.2 273.2,524.3 273.5,523.2 273.8,524.3 274.2,524.3 274.5,523.2 274.8,523.2 275.2,523.2 275.5,523.2 275.8,523.2 276.2,524.3 276.5,523.2 276.8,523.2 277.2,523.2 277.5,524.3 277.8,523.2 278.2,522.0 278.5,520.9 278.8,523.2 279.2,524.3 279.5,520.9 279.8,523.2 280.2,524.3 280.5,524.3 280.8,524.3 281.2,524.3 281.5,520.9 281.8,522.0 282.2,524.3 282.5,524.3 282.8,524.3 283.2,524.3 283.5,524.3 283.8,522.0 284.2,524.3 284.5,524.3 284.8,524.3 285.2,524.3 285.5,524.3 285.8,523.2 286.2,523.2 286.5,524.3 286.8,524.3 287.2,524.3 287.5,523.2 287.8,523.2 288.2,522.0 288.5,524.3 288.8,523.2 289.2,523.2 289.5,524.3 289.8,524.3 290.2,524.3 290.5,524.3 290.8,518.7 291.2,524.3 291.5,524.3 291.8,524.3 292.2,523.2 292.5,523.2 292.8,523.2 293.2,523.2 293.5,522.0 293.8,522.0 294.2,522.0 294.5,523.2 294.8,524.3 295.2,523.2 295.5,523.2 295.8,524.3 296.2,520.9 296.5,523.2 296.8,523.2 297.2,523.2 297.5,524.3 297.8,524.3 298.2,524.3 298.5,523.2 298.8,523.2 299.2,524.3 299.5,524.3 299.8,520.9 300.2,524.3 300.5,524.3 300.8,523.2 301.2,523.2 301.5,523.2 301.8,523.2 302.2,523.2 302.5,523.2 302.8,524.3 303.2,524.3 303.5,524.3 303.8,524.3 304.2,523.2 304.5,518.7 304.8,523.2 305.2,524.3 305.5,522.0 305.8,523.2 306.2,520.9 306.5,524.3 306.8,523.2 307.2,523.2 307.5,524.3 307.8,523.2 308.2,524.3 308.5,524.3 308.8,524.3 309.2,524.3 309.5,523.2 309.8,524.3 310.2,523.2 310.5,524.3 310.8,523.2 311.2,522.0 311.5,523.2 311.8,522.0 312.2,524.3 312.5,524.3 312.8,524.3 313.2,523.2 313.5,524.3 313.8,524.3 314.2,524.3 314.5,524.3 314.8,522.0 315.2,522.0 315.5,524.3 315.8,523.2 316.2,520.9 316.5,524.3 316.8,524.3 317.2,522.0 317.5,524.3 317.8,524.3 318.2,523.2 318.5,520.9 318.8,524.3 319.2,520.9 319.5,523.2 319.8,523.2 320.2,522.0 320.5,524.3 320.8,524.3 321.2,523.2 321.5,523.2 321.8,524.3 322.2,524.3 322.5,523.2 322.8,522.0 323.2,524.3 323.5,523.2 323.8,524.3 324.2,524.3 324.5,523.2 324.8,522.0 325.2,524.3 325.5,524.3 325.8,523.2 326.2,524.3 326.5,524.3 326.8,524.3 327.2,522.0 327.5,524.3 327.8,523.2 328.2,523.2 328.5,524.3 328.8,524.3 329.2,522.0 329.5,524.3 329.8,524.3 330.2,524.3 330.5,523.2 330.8,524.3 331.2,523.2 331.5,524.3 331.8,523.2 332.2,524.3 332.5,523.2 332.8,522.0 333.2,524.3 333.5,524.3 333.8,522.0 334.2,523.2 334.5,524.3 334.8,522.0 335.2,524.3 335.5,523.2 335.8,524.3 336.2,524.3 336.5,524.3 336.8,524.3 337.2,524.3 337.5,523.2 337.8,523.2 338.2,524.3 338.5,524.3 338.8,522.0 339.2,523.2 339.5,523.2 339.8,523.2 340.2,524.3 340.5,524.3 340.8,523.2 341.2,523.2 341.5,524.3 341.8,524.3 342.2,523.2 342.5,524.3 342.8,524.3 343.2,522.0 343.5,523.2 343.8,523.2 344.2,523.2 344.5,522.0 344.8,523.2 345.2,523.2 345.5,523.2 345.8,524.3 346.2,524.3 346.5,523.2 346.8,523.2 347.2,522.0 347.5,523.2 347.8,524.3 348.2,522.0 348.5,524.3 348.8,522.0 349.2,524.3 349.5,524.3 349.8,523.2 350.2,524.3 350.5,524.3 350.8,524.3 351.2,524.3 351.5,524.3 351.8,523.2 352.2,520.9 352.5,524.3 352.8,523.2 353.2,523.2 353.5,524.3 353.8,522.0 354.2,523.2 354.5,523.2 354.8,524.3 355.2,522.0 355.5,520.9 355.8,522.0 356.2,523.2 356.5,524.3 356.8,523.2 357.2,524.3 357.5,524.3 357.8,523.2 358.2,523.2 358.5,520.9 358.8,523.2 359.2,524.3 359.5,522.0 359.8,523.2 360.2,524.3 360.5,522.0 360.8,524.3 361.2,523.2 361.5,524.3 361.8,523.2 362.2,524.3 362.5,523.2 362.8,523.2 363.2,522.0 363.5,522.0 363.8,523.2 364.2,523.2 364.5,523.2 364.8,524.3 365.2,523.2 365.5,523.2 365.8,524.3 366.2,522.0 366.5,522.0 366.8,524.3 367.2,524.3 367.5,524.3 367.8,523.2 368.2,523.2 368.5,524.3 368.8,524.3 369.2,523.2 369.5,524.3 369.8,520.9 370.2,523.2 370.5,524.3 370.8,524.3 371.2,523.2 371.5,524.3 371.8,524.3 372.2,524.3 372.5,524.3 372.8,523.2 373.2,524.3 373.5,520.9 373.8,523.2 374.2,523.2 374.5,524.3 374.8,523.2 375.2,524.3 375.5,524.3 375.8,520.9 376.2,523.2 376.5,523.2 376.8,524.3 377.2,524.3 377.5,519.8 377.8,524.3 378.2,524.3 378.5,524.3 378.8,524.3 379.2,523.2 379.5,524.3 379.8,523.2 380.2,522.0 380.5,524.3 380.8,524.3 381.2,522.0 381.5,524.3" stroke="#0000ff" stroke-width="1" fill="none" stroke-linejoin="round"/><rect x="112.75" y="438.20" width="269.0" height="87.0" stroke="#8a8a8a" stroke-width="1.7" fill="none"/><text x="109.1" y="530.1" text-anchor="end" class="tx">0</text><text x="109.1" y="512.8" text-anchor="end" class="tx">10</text><text x="109.1" y="495.4" text-anchor="end" class="tx">20</text><text x="109.1" y="478.1" text-anchor="end" class="tx">30</text><text x="109.1" y="460.7" text-anchor="end" class="tx">40</text><text x="109.1" y="443.4" text-anchor="end" class="tx">50</text><text x="137.5" y="539.0" text-anchor="middle" class="tx">20000</text><text x="181.2" y="539.0" text-anchor="middle" class="tx">21000</text><text x="224.8" y="539.0" text-anchor="middle" class="tx">22000</text><text x="268.5" y="539.0" text-anchor="middle" class="tx">23000</text><text x="312.2" y="539.0" text-anchor="middle" class="tx">24000</text><text x="355.9" y="539.0" text-anchor="middle" class="tx">25000</text><rect x="289.7" y="446.6" width="13.5" height="10.6" fill="#fff" stroke="#cccccc" stroke-width="1"/><rect x="291.0" y="448.0" width="11" height="8" fill="#0000ff"/><text x="307.1" y="456.0" class="tx" fill="#7d7d7d" style="fill:#7d7d7d;letter-spacing:0.64px">aida09 1.8.L</text><path d="M381.2 429.1L391.0 438.9L381.2 448.7L371.4 438.9z" fill="#ff0000"/><path d="M613.2 438.4V525.1M656.9 438.4V525.1M700.5 438.4V525.1M744.2 438.4V525.1M787.9 438.4V525.1M831.6 438.4V525.1M588.5 507.8H857.5M588.5 490.4H857.5M588.5 473.1H857.5M588.5 455.7H857.5" stroke="#ebebeb" stroke-width="1" fill="none"/><polyline clip-path="url(#cp1)" points="588.5,524.7 588.8,524.7 589.2,524.7 589.5,524.7 589.8,524.7 590.2,524.7 590.5,524.7 590.8,524.7 591.2,524.7 591.5,524.7 591.8,524.7 592.2,524.7 592.5,524.7 592.8,524.7 593.2,524.7 593.5,524.7 593.8,524.7 594.2,524.7 594.5,524.7 594.8,524.7 595.2,524.7 595.5,524.7 595.8,524.7 596.2,524.7 596.5,524.7 596.8,524.7 597.2,524.7 597.5,524.7 597.8,524.7 598.2,524.7 598.5,524.7 598.8,524.6 599.2,524.4 599.5,524.3 599.8,522.2 600.2,524.6 600.5,524.7 600.8,524.7 601.2,524.7 601.5,524.7 601.8,524.7 602.2,524.7 602.5,524.7 602.8,524.7 603.2,524.7 603.5,524.7 603.8,524.7 604.2,524.7 604.5,524.7 604.8,524.7 605.2,524.7 605.5,524.7 605.8,524.7 606.2,524.7 606.5,524.6 606.8,524.6 607.2,524.6 607.5,524.6 607.8,524.6 608.2,524.6 608.5,524.6 608.8,524.6 609.2,524.6 609.5,524.6 609.8,524.6 610.2,524.6 610.5,524.6 610.8,524.6 611.2,524.6 611.5,524.6 611.8,524.6 612.2,523.5 612.5,524.6 612.8,524.6 613.2,524.6 613.5,522.3 613.8,524.6 614.2,524.6 614.5,524.6 614.8,524.6 615.2,523.5 615.5,523.4 615.8,524.6 616.2,524.6 616.5,523.4 616.8,524.6 617.2,524.6 617.5,524.6 617.8,524.6 618.2,524.5 618.5,523.4 618.8,524.5 619.2,523.4 619.5,523.4 619.8,524.5 620.2,524.5 620.5,524.5 620.8,524.5 621.2,522.3 621.5,524.5 621.8,524.5 622.2,524.5 622.5,524.5 622.8,524.5 623.2,524.5 623.5,524.5 623.8,524.5 624.2,524.5 624.5,523.4 624.8,524.5 625.2,524.5 625.5,524.5 625.8,524.5 626.2,523.4 626.5,524.5 626.8,524.5 627.2,524.5 627.5,524.5 627.8,523.4 628.2,524.5 628.5,522.3 628.8,524.5 629.2,523.4 629.5,524.5 629.8,524.5 630.2,523.4 630.5,523.4 630.8,522.3 631.2,524.5 631.5,523.4 631.8,523.4 632.2,523.4 632.5,524.5 632.8,524.5 633.2,524.5 633.5,524.5 633.8,523.4 634.2,523.4 634.5,524.5 634.8,524.5 635.2,524.5 635.5,524.5 635.8,523.4 636.2,524.5 636.5,524.5 636.8,524.5 637.2,524.5 637.5,523.4 637.8,524.5 638.2,524.5 638.5,524.5 638.8,523.4 639.2,524.5 639.5,524.6 639.8,524.6 640.2,524.6 640.5,524.6 640.8,524.6 641.2,524.6 641.5,524.6 641.8,524.6 642.2,524.7 642.5,524.7 642.8,524.7 643.2,524.7 643.5,524.7 643.8,524.7 644.2,524.7 644.5,524.7 644.8,524.7 645.2,524.7 645.5,524.7 645.8,524.7 646.2,524.7 646.5,524.7 646.8,524.7 647.2,524.7 647.5,524.7 647.8,524.7 648.2,524.7 648.5,524.7 648.8,524.5 649.2,524.2 649.5,522.9 649.8,522.8 650.2,520.4 650.5,519.2 650.8,521.3 651.2,521.2 651.5,520.0 651.8,519.9 652.2,518.7 652.5,521.9 652.8,518.5 653.2,521.8 653.5,520.7 653.8,519.7 654.2,522.0 654.5,519.8 654.8,521.0 655.2,517.7 655.5,520.0 655.8,521.2 656.2,521.3 656.5,522.5 656.8,523.6 657.2,522.5 657.5,521.4 657.8,523.6 658.2,519.1 658.5,521.4 658.8,522.5 659.2,520.2 659.5,520.2 659.8,521.4 660.2,516.9 660.5,523.6 660.8,518.0 661.2,522.5 661.5,523.6 661.8,522.5 662.2,522.5 662.5,519.1 662.8,520.2 663.2,522.5 663.5,522.5 663.8,522.5 664.2,522.5 664.5,520.2 664.8,520.2 665.2,522.5 665.5,521.4 665.8,519.1 666.2,523.6 666.5,522.5 666.8,521.4 667.2,521.4 667.5,521.4 667.8,520.2 668.2,520.2 668.5,520.2 668.8,522.5 669.2,521.4 669.5,523.6 669.8,523.6 670.2,522.5 670.5,523.6 670.8,522.5 671.2,522.5 671.5,521.4 671.8,522.5 672.2,522.5 672.5,522.5 672.8,522.5 673.2,521.4 673.5,519.1 673.8,522.5 674.2,522.5 674.5,520.2 674.8,522.5 675.2,522.5 675.5,521.4 675.8,520.2 676.2,523.6 676.5,523.6 676.8,522.5 677.2,519.1 677.5,523.6 677.8,520.2 678.2,522.5 678.5,520.2 678.8,521.4 679.2,522.5 679.5,522.5 679.8,522.2 680.2,520.7 680.5,519.3 680.8,520.1 681.2,518.6 681.5,518.3 681.8,515.1 682.2,512.1 682.5,508.3 682.8,507.9 683.2,509.4 683.5,502.3 683.8,502.1 684.2,496.0 684.5,497.2 684.8,491.7 685.2,488.1 685.5,474.0 685.8,464.6 686.2,452.4 686.5,437.3 686.8,421.1 687.2,421.1 687.5,421.1 687.8,421.1 688.2,421.1 688.5,421.1 688.8,421.1 689.2,421.1 689.5,421.1 689.8,421.1 690.2,421.1 690.5,421.1 690.8,421.1 691.2,421.1 691.5,421.1 691.8,421.1 692.2,421.1 692.5,421.1 692.8,421.1 693.2,421.1 693.5,421.1 693.8,421.1 694.2,421.1 694.5,421.1 694.8,421.1 695.2,421.1 695.5,421.1 695.8,421.1 696.2,421.1 696.5,421.1 696.8,421.1 697.2,421.1 697.5,421.1 697.8,421.1 698.2,421.1 698.5,421.1 698.8,421.1 699.2,421.1 699.5,440.8 699.8,452.7 700.2,464.2 700.5,480.4 700.8,495.4 701.2,499.9 701.5,501.1 701.8,509.7 702.2,511.6 702.5,517.2 702.8,517.3 703.2,521.1 703.5,519.3 703.8,517.4 704.2,520.0 704.5,520.4 704.8,523.8 705.2,522.7 705.5,520.4 705.8,522.7 706.2,520.4 706.5,517.1 706.8,523.8 707.2,521.6 707.5,523.8 707.8,519.3 708.2,520.4 708.5,523.8 708.8,521.6 709.2,521.6 709.5,522.7 709.8,522.7 710.2,523.8 710.5,523.8 710.8,522.7 711.2,521.6 711.5,521.6 711.8,522.7 712.2,522.7 712.5,523.8 712.8,523.8 713.2,523.8 713.5,521.6 713.8,523.8 714.2,523.8 714.5,523.8 714.8,523.8 715.2,520.4 715.5,522.7 715.8,523.8 716.2,521.6 716.5,521.6 716.8,522.7 717.2,521.6 717.5,523.8 717.8,521.6 718.2,523.8 718.5,520.4 718.8,522.7 719.2,522.7 719.5,521.6 719.8,521.6 720.2,521.6 720.5,522.7 720.8,523.8 721.2,522.7 721.5,522.7 721.8,522.7 722.2,520.4 722.5,521.6 722.8,519.3 723.2,521.6 723.5,523.8 723.8,522.7 724.2,523.8 724.5,522.7 724.8,521.6 725.2,520.4 725.5,520.4 725.8,521.6 726.2,522.7 726.5,522.7 726.8,522.7 727.2,521.6 727.5,523.8 727.8,523.8 728.2,520.4 728.5,523.8 728.8,518.2 729.2,523.8 729.5,521.6 729.8,522.7 730.2,521.6 730.5,519.3 730.8,520.4 731.2,521.6 731.5,522.7 731.8,522.7 732.2,521.6 732.5,522.7 732.8,521.6 733.2,522.7 733.5,522.7 733.8,522.7 734.2,521.6 734.5,523.8 734.8,521.6 735.2,523.8 735.5,523.8 735.8,521.6 736.2,521.6 736.5,522.7 736.8,521.6 737.2,519.3 737.5,521.6 737.8,523.8 738.2,521.6 738.5,521.6 738.8,521.6 739.2,522.7 739.5,522.7 739.8,522.7 740.2,522.7 740.5,522.7 740.8,522.7 741.2,520.5 741.5,521.6 741.8,521.6 742.2,522.7 742.5,523.8 742.8,521.6 743.2,522.7 743.5,523.8 743.8,522.7 744.2,521.6 744.5,522.7 744.8,523.8 745.2,523.8 745.5,523.8 745.8,522.7 746.2,519.3 746.5,521.6 746.8,522.7 747.2,522.7 747.5,522.7 747.8,521.6 748.2,521.6 748.5,522.7 748.8,520.5 749.2,522.7 749.5,522.7 749.8,522.7 750.2,523.8 750.5,520.5 750.8,521.6 751.2,523.8 751.5,521.6 751.8,521.6 752.2,523.8 752.5,522.7 752.8,522.7 753.2,522.7 753.5,523.8 753.8,522.7 754.2,522.7 754.5,521.6 754.8,522.7 755.2,519.3 755.5,521.6 755.8,521.6 756.2,521.6 756.5,519.3 756.8,523.8 757.2,521.6 757.5,522.7 757.8,521.6 758.2,522.7 758.5,522.7 758.8,523.8 759.2,523.8 759.5,519.3 759.8,523.8 760.2,523.8 760.5,523.8 760.8,521.6 761.2,521.6 761.5,519.4 761.8,522.7 762.2,522.7 762.5,523.8 762.8,522.7 763.2,522.7 763.5,520.5 763.8,522.7 764.2,523.8 764.5,523.8 764.8,523.8 765.2,521.6 765.5,521.6 765.8,520.5 766.2,522.7 766.5,519.4 766.8,522.7 767.2,521.6 767.5,521.6 767.8,520.5 768.2,522.7 768.5,520.5 768.8,523.8 769.2,520.5 769.5,521.6 769.8,523.8 770.2,521.6 770.5,522.7 770.8,521.6 771.2,523.8 771.5,523.8 771.8,521.6 772.2,519.4 772.5,521.6 772.8,521.6 773.2,522.7 773.5,520.5 773.8,522.7 774.2,522.7 774.5,522.7 774.8,521.6 775.2,522.7 775.5,521.6 775.8,523.9 776.2,522.7 776.5,523.9 776.8,521.6 777.2,520.5 777.5,521.6 777.8,522.7 778.2,522.7 778.5,523.9 778.8,521.6 779.2,520.5 779.5,521.6 779.8,523.9 780.2,522.7 780.5,521.6 780.8,522.7 781.2,523.9 781.5,521.6 781.8,520.5 782.2,520.5 782.5,520.5 782.8,521.6 783.2,521.6 783.5,521.6 783.8,521.6 784.2,522.7 784.5,519.4 784.8,523.9 785.2,522.7 785.5,519.4 785.8,522.7 786.2,523.9 786.5,523.9 786.8,522.7 787.2,522.7 787.5,523.9 787.8,523.9 788.2,522.7 788.5,522.7 788.8,520.5 789.2,520.5 789.5,523.9 789.8,522.7 790.2,523.9 790.5,523.9 790.8,522.7 791.2,523.9 791.5,523.9 791.8,523.9 792.2,522.7 792.5,522.7 792.8,523.9 793.2,523.9 793.5,522.7 793.8,522.7 794.2,523.9 794.5,522.7 794.8,522.7 795.2,521.6 795.5,522.7 795.8,521.6 796.2,521.6 796.5,521.6 796.8,522.7 797.2,522.7 797.5,521.6 797.8,522.7 798.2,522.7 798.5,523.9 798.8,520.5 799.2,522.7 799.5,519.4 799.8,522.7 800.2,522.7 800.5,522.7 800.8,520.5 801.2,521.6 801.5,522.7 801.8,522.7 802.2,522.7 802.5,523.9 802.8,522.7 803.2,522.7 803.5,522.8 803.8,517.1 804.2,521.6 804.5,519.4 804.8,520.5 805.2,522.8 805.5,523.9 805.8,523.9 806.2,520.5 806.5,522.8 806.8,521.6 807.2,519.4 807.5,522.8 807.8,522.8 808.2,519.4 808.5,522.8 808.8,523.9 809.2,522.8 809.5,521.6 809.8,522.8 810.2,523.9 810.5,520.5 810.8,523.9 811.2,521.6 811.5,521.6 811.8,522.8 812.2,522.8 812.5,523.9 812.8,520.5 813.2,522.8 813.5,521.6 813.8,523.9 814.2,523.9 814.5,521.6 814.8,522.8 815.2,522.8 815.5,522.8 815.8,522.8 816.2,522.8 816.5,521.6 816.8,521.6 817.2,522.8 817.5,523.9 817.8,521.6 818.2,522.8 818.5,523.9 818.8,521.6 819.2,521.6 819.5,520.5 819.8,522.8 820.2,521.6 820.5,523.9 820.8,522.8 821.2,522.8 821.5,521.6 821.8,522.8 822.2,523.9 822.5,520.5 822.8,523.9 823.2,520.5 823.5,523.9 823.8,522.8 824.2,521.6 824.5,523.9 824.8,521.6 825.2,522.8 825.5,523.9 825.8,522.8 826.2,520.5 826.5,522.8 826.8,523.9 827.2,521.6 827.5,521.6 827.8,522.8 828.2,523.9 828.5,520.5 828.8,523.9 829.2,521.6 829.5,522.8 829.8,520.5 830.2,522.8 830.5,520.5 830.8,523.9 831.2,523.9 831.5,522.8 831.8,522.8 832.2,523.9 832.5,522.8 832.8,522.8 833.2,522.8 833.5,521.7 833.8,522.8 834.2,523.9 834.5,520.5 834.8,522.8 835.2,522.8 835.5,521.7 835.8,523.9 836.2,522.8 836.5,520.5 836.8,523.9 837.2,521.7 837.5,522.8 837.8,518.3 838.2,519.4 838.5,523.9 838.8,521.7 839.2,523.9 839.5,522.8 839.8,523.9 840.2,523.9 840.5,521.7 840.8,523.9 841.2,521.7 841.5,523.9 841.8,523.9 842.2,521.7 842.5,523.9 842.8,523.9 843.2,523.9 843.5,521.7 843.8,522.8 844.2,519.4 844.5,520.5 844.8,521.7 845.2,520.5 845.5,522.8 845.8,518.3 846.2,522.8 846.5,519.4 846.8,522.8 847.2,523.9 847.5,522.8 847.8,520.5 848.2,519.4 848.5,523.9 848.8,522.8 849.2,522.8 849.5,523.9 849.8,522.8 850.2,523.9 850.5,522.8 850.8,520.5 851.2,521.7 851.5,522.8 851.8,522.8 852.2,520.5 852.5,522.8 852.8,522.8 853.2,522.8 853.5,523.9 853.8,522.8 854.2,523.9 854.5,521.7 854.8,522.8 855.2,523.9 855.5,522.8 855.8,523.9 856.2,520.5 856.5,523.9 856.8,522.8 857.2,522.8 857.5,523.9" stroke="#0000ff" stroke-width="1" fill="none" stroke-linejoin="round"/><rect x="588.75" y="438.20" width="269.0" height="87.0" stroke="#8a8a8a" stroke-width="1.7" fill="none"/><text x="585.1" y="530.1" text-anchor="end" class="tx">0</text><text x="585.1" y="512.8" text-anchor="end" class="tx">10</text><text x="585.1" y="495.4" text-anchor="end" class="tx">20</text><text x="585.1" y="478.1" text-anchor="end" class="tx">30</text><text x="585.1" y="460.7" text-anchor="end" class="tx">40</text><text x="585.1" y="443.4" text-anchor="end" class="tx">50</text><text x="613.5" y="539.0" text-anchor="middle" class="tx">20000</text><text x="657.2" y="539.0" text-anchor="middle" class="tx">21000</text><text x="700.8" y="539.0" text-anchor="middle" class="tx">22000</text><text x="744.5" y="539.0" text-anchor="middle" class="tx">23000</text><text x="788.2" y="539.0" text-anchor="middle" class="tx">24000</text><text x="831.9" y="539.0" text-anchor="middle" class="tx">25000</text><rect x="765.7" y="446.6" width="13.5" height="10.6" fill="#fff" stroke="#cccccc" stroke-width="1"/><rect x="767.0" y="448.0" width="11" height="8" fill="#0000ff"/><text x="783.1" y="456.0" class="tx" fill="#7d7d7d" style="fill:#7d7d7d;letter-spacing:0.64px">aida01 1.8.L</text><path d="M857.2 429.1L867.0 438.9L857.2 448.7L847.4 438.9z" fill="#ff0000"/><path d="M1089.2 438.4V525.1M1132.9 438.4V525.1M1176.5 438.4V525.1M1220.2 438.4V525.1M1263.9 438.4V525.1M1307.6 438.4V525.1M1064.5 507.8H1333.5M1064.5 490.4H1333.5M1064.5 473.1H1333.5M1064.5 455.7H1333.5" stroke="#d4d4d4" stroke-width="1" fill="none"/><polyline clip-path="url(#cp2)" points="1064.5,522.0 1064.8,524.2 1065.2,523.1 1065.5,524.2 1065.8,521.9 1066.2,523.1 1066.5,523.0 1066.8,524.2 1067.2,523.0 1067.5,521.9 1067.8,520.8 1068.2,524.1 1068.5,524.1 1068.8,523.0 1069.2,524.1 1069.5,523.0 1069.8,519.6 1070.2,523.0 1070.5,524.1 1070.8,524.1 1071.2,522.9 1071.5,524.0 1071.8,522.9 1072.2,524.0 1072.5,522.9 1072.8,522.9 1073.2,524.0 1073.5,522.9 1073.8,522.9 1074.2,522.9 1074.5,522.9 1074.8,524.0 1075.2,524.0 1075.5,520.6 1075.8,520.6 1076.2,521.7 1076.5,518.3 1076.8,523.9 1077.2,521.6 1077.5,522.7 1077.8,523.9 1078.2,523.8 1078.5,523.8 1078.8,522.7 1079.2,519.3 1079.5,522.7 1079.8,522.7 1080.2,521.5 1080.5,523.8 1080.8,523.7 1081.2,523.7 1081.5,522.6 1081.8,523.7 1082.2,521.5 1082.5,519.2 1082.8,519.2 1083.2,523.7 1083.5,522.5 1083.8,523.6 1084.2,518.0 1084.5,520.2 1084.8,519.1 1085.2,523.6 1085.5,521.3 1085.8,520.2 1086.2,523.5 1086.5,522.4 1086.8,522.4 1087.2,520.1 1087.5,520.1 1087.8,519.0 1088.2,517.9 1088.5,521.2 1088.8,520.1 1089.2,522.3 1089.5,523.4 1089.8,520.0 1090.2,521.1 1090.5,523.4 1090.8,516.8 1091.2,506.1 1091.5,512.2 1091.8,521.7 1092.2,519.8 1092.5,521.9 1092.8,521.8 1093.2,521.7 1093.5,521.5 1093.8,516.9 1094.2,520.2 1094.5,518.9 1094.8,522.2 1095.2,515.4 1095.5,516.4 1095.8,514.0 1096.2,519.5 1096.5,513.9 1096.8,516.0 1097.2,519.1 1097.5,516.8 1097.8,517.7 1098.2,517.5 1098.5,516.4 1098.8,511.2 1099.2,514.1 1099.5,515.9 1099.8,515.7 1100.2,509.9 1100.5,512.6 1100.8,511.6 1101.2,510.5 1101.5,512.2 1101.8,514.1 1102.2,512.4 1102.5,511.6 1102.8,509.8 1103.2,512.7 1103.5,507.1 1103.8,514.8 1104.2,513.0 1104.5,516.0 1104.8,515.1 1105.2,511.2 1105.5,513.3 1105.8,518.4 1106.2,513.4 1106.5,518.7 1106.8,514.6 1107.2,515.8 1107.5,512.6 1107.8,519.2 1108.2,517.1 1108.5,512.8 1108.8,516.2 1109.2,517.4 1109.5,516.4 1109.8,517.6 1110.2,517.7 1110.5,516.7 1110.8,519.0 1111.2,518.0 1111.5,517.0 1111.8,519.3 1112.2,519.4 1112.5,517.3 1112.8,518.5 1113.2,517.5 1113.5,519.8 1113.8,521.0 1114.2,522.3 1114.5,520.1 1114.8,521.3 1115.2,521.3 1115.5,517.9 1115.8,521.3 1116.2,521.3 1116.5,521.4 1116.8,521.4 1117.2,520.3 1117.5,522.6 1117.8,522.6 1118.2,520.3 1118.5,523.7 1118.8,520.4 1119.2,522.7 1119.5,523.8 1119.8,520.3 1120.2,521.4 1120.5,520.2 1120.8,522.3 1121.2,521.1 1121.5,522.2 1121.8,523.2 1122.2,522.0 1122.5,518.6 1122.8,520.7 1123.2,521.7 1123.5,518.3 1123.8,520.5 1124.2,518.1 1124.5,518.0 1124.8,515.7 1125.2,521.2 1125.5,517.8 1125.8,520.1 1126.2,520.2 1126.5,520.3 1126.8,517.0 1127.2,518.2 1127.5,520.5 1127.8,520.6 1128.2,517.3 1128.5,517.4 1128.8,522.0 1129.2,522.0 1129.5,519.9 1129.8,522.2 1130.2,521.2 1130.5,523.5 1130.8,517.9 1131.2,520.1 1131.5,521.3 1131.8,522.4 1132.2,522.4 1132.5,521.3 1132.8,521.3 1133.2,521.3 1133.5,519.0 1133.8,522.4 1134.2,517.9 1134.5,521.3 1134.8,523.5 1135.2,521.3 1135.5,520.2 1135.8,522.4 1136.2,520.2 1136.5,520.2 1136.8,520.2 1137.2,521.3 1137.5,522.4 1137.8,523.6 1138.2,521.3 1138.5,520.2 1138.8,523.6 1139.2,523.6 1139.5,522.4 1139.8,520.2 1140.2,521.3 1140.5,522.5 1140.8,520.2 1141.2,521.3 1141.5,520.2 1141.8,520.2 1142.2,520.2 1142.5,521.4 1142.8,522.5 1143.2,519.1 1143.5,523.6 1143.8,520.2 1144.2,523.6 1144.5,521.4 1144.8,523.6 1145.2,521.4 1145.5,520.2 1145.8,523.6 1146.2,521.3 1146.5,523.6 1146.8,516.9 1147.2,523.6 1147.5,521.3 1147.8,520.2 1148.2,521.3 1148.5,523.6 1148.8,519.1 1149.2,520.2 1149.5,523.6 1149.8,522.4 1150.2,516.8 1150.5,522.4 1150.8,522.4 1151.2,519.0 1151.5,516.8 1151.8,522.4 1152.2,522.4 1152.5,517.9 1152.8,519.0 1153.2,519.0 1153.5,522.4 1153.8,522.4 1154.2,522.4 1154.5,521.2 1154.8,520.8 1155.2,518.1 1155.5,518.7 1155.8,519.2 1156.2,516.4 1156.5,514.7 1156.8,509.5 1157.2,509.8 1157.5,510.7 1157.8,502.8 1158.2,506.8 1158.5,502.5 1158.8,504.1 1159.2,497.0 1159.5,493.9 1159.8,492.5 1160.2,492.1 1160.5,489.4 1160.8,482.6 1161.2,478.4 1161.5,474.0 1161.8,463.5 1162.2,461.0 1162.5,448.2 1162.8,447.9 1163.2,440.7 1163.5,421.1 1163.8,421.1 1164.2,421.1 1164.5,421.1 1164.8,421.1 1165.2,421.1 1165.5,421.1 1165.8,421.1 1166.2,421.1 1166.5,421.1 1166.8,421.1 1167.2,421.1 1167.5,421.1 1167.8,421.1 1168.2,421.1 1168.5,421.1 1168.8,421.1 1169.2,421.1 1169.5,421.1 1169.8,421.1 1170.2,421.1 1170.5,421.1 1170.8,421.1 1171.2,421.1 1171.5,421.1 1171.8,421.1 1172.2,421.1 1172.5,445.1 1172.8,451.6 1173.2,469.2 1173.5,482.5 1173.8,486.0 1174.2,487.9 1174.5,494.7 1174.8,494.8 1175.2,501.9 1175.5,500.0 1175.8,503.8 1176.2,507.8 1176.5,512.0 1176.8,516.4 1177.2,519.6 1177.5,519.8 1177.8,520.0 1178.2,518.0 1178.5,516.0 1178.8,523.0 1179.2,519.9 1179.5,523.5 1179.8,522.4 1180.2,523.5 1180.5,522.4 1180.8,523.5 1181.2,521.3 1181.5,520.2 1181.8,523.6 1182.2,521.4 1182.5,520.3 1182.8,522.5 1183.2,520.3 1183.5,522.5 1183.8,521.4 1184.2,520.3 1184.5,523.7 1184.8,520.4 1185.2,521.5 1185.5,520.4 1185.8,522.6 1186.2,520.4 1186.5,522.7 1186.8,516.9 1187.2,522.3 1187.5,521.0 1187.8,523.1 1188.2,519.6 1188.5,522.8 1188.8,519.3 1189.2,519.1 1189.5,518.9 1189.8,518.4 1190.2,514.5 1190.5,513.9 1190.8,508.6 1191.2,509.8 1191.5,504.1 1191.8,503.5 1192.2,509.5 1192.5,507.8 1192.8,508.1 1193.2,513.8 1193.5,518.1 1193.8,520.2 1194.2,520.5 1194.5,516.9 1194.8,521.1 1195.2,518.6 1195.5,511.6 1195.8,513.6 1196.2,513.4 1196.5,516.0 1196.8,516.6 1197.2,520.6 1197.5,521.2 1197.8,522.4 1198.2,523.5 1198.5,521.3 1198.8,521.3 1199.2,522.4 1199.5,521.3 1199.8,521.3 1200.2,520.2 1200.5,516.9 1200.8,523.6 1201.2,519.2 1201.5,523.7 1201.8,520.3 1202.2,521.4 1202.5,519.2 1202.8,523.7 1203.2,520.4 1203.5,515.9 1203.8,522.6 1204.2,522.7 1204.5,522.7 1204.8,522.7 1205.2,523.8 1205.5,522.6 1205.8,523.7 1206.2,519.2 1206.5,523.7 1206.8,521.4 1207.2,522.5 1207.5,522.5 1207.8,523.6 1208.2,523.6 1208.5,523.6 1208.8,522.5 1209.2,521.3 1209.5,520.2 1209.8,520.2 1210.2,520.1 1210.5,520.1 1210.8,516.2 1211.2,516.7 1211.5,516.1 1211.8,517.4 1212.2,516.5 1212.5,517.5 1212.8,513.0 1213.2,521.6 1213.5,521.2 1213.8,522.4 1214.2,522.4 1214.5,520.1 1214.8,521.2 1215.2,522.4 1215.5,522.4 1215.8,521.2 1216.2,519.0 1216.5,519.0 1216.8,520.1 1217.2,523.5 1217.5,523.5 1217.8,520.1 1218.2,521.2 1218.5,520.1 1218.8,520.1 1219.2,523.5 1219.5,521.2 1219.8,523.4 1220.2,518.7 1220.5,520.8 1220.8,523.0 1221.2,517.2 1221.5,520.4 1221.8,519.2 1222.2,519.1 1222.5,516.7 1222.8,517.6 1223.2,509.5 1223.5,510.5 1223.8,504.1 1224.2,500.3 1224.5,497.2 1224.8,492.3 1225.2,493.4 1225.5,492.4 1225.8,487.7 1226.2,480.1 1226.5,478.6 1226.8,477.4 1227.2,472.9 1227.5,466.8 1227.8,463.3 1228.2,469.3 1228.5,473.1 1228.8,474.1 1229.2,479.5 1229.5,487.0 1229.8,491.0 1230.2,499.7 1230.5,505.2 1230.8,497.6 1231.2,504.9 1231.5,508.3 1231.8,508.7 1232.2,508.8 1232.5,514.2 1232.8,510.2 1233.2,518.2 1233.5,515.6 1233.8,518.7 1234.2,517.4 1234.5,517.2 1234.8,514.8 1235.2,514.6 1235.5,515.4 1235.8,513.7 1236.2,508.5 1236.5,512.1 1236.8,507.2 1237.2,508.1 1237.5,505.0 1237.8,502.6 1238.2,509.6 1238.5,508.9 1238.8,508.1 1239.2,510.5 1239.5,516.0 1239.8,511.5 1240.2,516.1 1240.5,514.0 1240.8,516.3 1241.2,519.8 1241.5,519.9 1241.8,516.7 1242.2,520.2 1242.5,518.0 1242.8,518.1 1243.2,519.4 1243.5,517.2 1243.8,520.7 1244.2,523.1 1244.5,519.8 1244.8,522.1 1245.2,522.1 1245.5,519.9 1245.8,519.9 1246.2,519.9 1246.5,523.3 1246.8,521.1 1247.2,522.2 1247.5,521.1 1247.8,518.9 1248.2,521.1 1248.5,520.0 1248.8,518.9 1249.2,520.1 1249.5,522.3 1249.8,519.0 1250.2,519.0 1250.5,519.0 1250.8,520.8 1251.2,520.4 1251.5,516.7 1251.8,518.5 1252.2,516.9 1252.5,518.4 1252.8,514.8 1253.2,510.5 1253.5,507.4 1253.8,504.5 1254.2,501.2 1254.5,501.3 1254.8,489.4 1255.2,487.4 1255.5,480.6 1255.8,479.3 1256.2,469.0 1256.5,462.3 1256.8,463.2 1257.2,466.6 1257.5,467.7 1257.8,474.3 1258.2,478.9 1258.5,489.1 1258.8,495.6 1259.2,496.7 1259.5,499.5 1259.8,503.1 1260.2,503.8 1260.5,507.6 1260.8,505.2 1261.2,508.3 1261.5,504.7 1261.8,515.9 1262.2,514.8 1262.5,510.4 1262.8,517.1 1263.2,514.3 1263.5,518.1 1263.8,519.1 1264.2,517.8 1264.5,516.5 1264.8,518.6 1265.2,518.5 1265.5,517.2 1265.8,515.4 1266.2,511.7 1266.5,511.8 1266.8,507.6 1267.2,507.6 1267.5,508.1 1267.8,502.0 1268.2,499.8 1268.5,501.5 1268.8,498.5 1269.2,495.6 1269.5,497.0 1269.8,495.0 1270.2,499.1 1270.5,501.4 1270.8,507.1 1271.2,501.6 1271.5,511.3 1271.8,500.8 1272.2,506.8 1272.5,496.5 1272.8,497.3 1273.2,495.4 1273.5,489.0 1273.8,489.3 1274.2,491.2 1274.5,497.8 1274.8,500.2 1275.2,506.7 1275.5,505.9 1275.8,513.3 1276.2,510.0 1276.5,507.0 1276.8,515.4 1277.2,518.3 1277.5,521.2 1277.8,519.0 1278.2,520.1 1278.5,517.9 1278.8,519.1 1279.2,515.7 1279.5,521.4 1279.8,518.0 1280.2,519.2 1280.5,515.9 1280.8,514.5 1281.2,515.4 1281.5,518.5 1281.8,516.0 1282.2,508.4 1282.5,514.3 1282.8,511.2 1283.2,514.8 1283.5,508.0 1283.8,515.1 1284.2,513.0 1284.5,507.4 1284.8,510.7 1285.2,512.2 1285.5,509.2 1285.8,512.3 1286.2,514.5 1286.5,515.0 1286.8,512.3 1287.2,514.7 1287.5,515.0 1287.8,512.6 1288.2,515.6 1288.5,516.4 1288.8,514.1 1289.2,514.8 1289.5,513.6 1289.8,509.7 1290.2,503.8 1290.5,502.1 1290.8,500.8 1291.2,494.5 1291.5,492.8 1291.8,487.4 1292.2,481.5 1292.5,481.5 1292.8,471.7 1293.2,468.9 1293.5,475.3 1293.8,472.2 1294.2,479.7 1294.5,485.6 1294.8,486.2 1295.2,493.8 1295.5,500.2 1295.8,501.7 1296.2,501.2 1296.5,503.3 1296.8,508.3 1297.2,510.5 1297.5,512.6 1297.8,513.8 1298.2,512.6 1298.5,517.8 1298.8,519.9 1299.2,517.6 1299.5,518.6 1299.8,514.0 1300.2,518.4 1300.5,516.1 1300.8,517.2 1301.2,512.3 1301.5,510.5 1301.8,509.3 1302.2,505.9 1302.5,502.6 1302.8,502.1 1303.2,500.8 1303.5,500.1 1303.8,500.0 1304.2,496.2 1304.5,488.5 1304.8,498.1 1305.2,499.8 1305.5,495.6 1305.8,500.9 1306.2,502.9 1306.5,504.2 1306.8,512.5 1307.2,513.2 1307.5,512.6 1307.8,509.1 1308.2,516.1 1308.5,514.3 1308.8,513.5 1309.2,513.7 1309.5,517.2 1309.8,512.9 1310.2,518.7 1310.5,518.9 1310.8,521.4 1311.2,517.1 1311.5,518.4 1311.8,520.6 1312.2,515.0 1312.5,521.8 1312.8,519.5 1313.2,520.7 1313.5,519.5 1313.8,521.8 1314.2,519.6 1314.5,519.6 1314.8,514.0 1315.2,522.9 1315.5,520.7 1315.8,522.9 1316.2,523.0 1316.5,519.6 1316.8,519.6 1317.2,518.5 1317.5,519.6 1317.8,519.6 1318.2,518.5 1318.5,523.0 1318.8,517.4 1319.2,520.7 1319.5,520.8 1319.8,520.8 1320.2,521.9 1320.5,521.9 1320.8,517.4 1321.2,517.4 1321.5,518.5 1321.8,519.7 1322.2,521.9 1322.5,521.9 1322.8,519.7 1323.2,521.9 1323.5,520.8 1323.8,520.8 1324.2,519.7 1324.5,517.5 1324.8,519.7 1325.2,519.7 1325.5,523.1 1325.8,522.0 1326.2,520.8 1326.5,519.7 1326.8,520.9 1327.2,520.9 1327.5,520.9 1327.8,520.9 1328.2,519.8 1328.5,518.6 1328.8,516.4 1329.2,522.0 1329.5,523.1 1329.8,517.5 1330.2,518.7 1330.5,523.1 1330.8,518.7 1331.2,522.0 1331.5,519.8 1331.8,520.9 1332.2,518.7 1332.5,522.1 1332.8,516.4 1333.2,522.1 1333.5,522.1" stroke="#0000ff" stroke-width="1" fill="none" stroke-linejoin="round"/><rect x="1064.75" y="438.20" width="269.0" height="87.0" stroke="#000" stroke-width="1.7" fill="none"/><text x="1061.1" y="530.1" text-anchor="end" class="tx">0</text><text x="1061.1" y="512.8" text-anchor="end" class="tx">10</text><text x="1061.1" y="495.4" text-anchor="end" class="tx">20</text><text x="1061.1" y="478.1" text-anchor="end" class="tx">30</text><text x="1061.1" y="460.7" text-anchor="end" class="tx">40</text><text x="1061.1" y="443.4" text-anchor="end" class="tx">50</text><text x="1089.5" y="539.0" text-anchor="middle" class="tx">20000</text><text x="1133.2" y="539.0" text-anchor="middle" class="tx">21000</text><text x="1176.8" y="539.0" text-anchor="middle" class="tx">22000</text><text x="1220.5" y="539.0" text-anchor="middle" class="tx">23000</text><text x="1264.2" y="539.0" text-anchor="middle" class="tx">24000</text><text x="1307.9" y="539.0" text-anchor="middle" class="tx">25000</text><rect x="1241.7" y="446.6" width="13.5" height="10.6" fill="#fff" stroke="#cccccc" stroke-width="1"/><rect x="1243.0" y="448.0" width="11" height="8" fill="#0000ff"/><text x="1259.1" y="456.0" class="tx" fill="#000" style="fill:#000;letter-spacing:0.64px">aida05 1.8.L</text><path d="M1333.2 429.1L1343.0 438.9L1333.2 448.7L1323.4 438.9z" fill="#00ff00"/><path d="M137.2 560.4V647.1M180.9 560.4V647.1M224.5 560.4V647.1M268.2 560.4V647.1M311.9 560.4V647.1M355.6 560.4V647.1M112.5 629.8H381.5M112.5 612.4H381.5M112.5 595.1H381.5M112.5 577.7H381.5" stroke="#ebebeb" stroke-width="1" fill="none"/><polyline clip-path="url(#cp3)" points="112.5,646.7 112.8,646.7 113.2,646.7 113.5,646.7 113.8,646.7 114.2,646.7 114.5,646.7 114.8,646.7 115.2,646.7 115.5,646.7 115.8,646.7 116.2,646.7 116.5,646.7 116.8,646.7 117.2,646.7 117.5,646.7 117.8,646.7 118.2,646.7 118.5,646.7 118.8,646.7 119.2,646.7 119.5,646.7 119.8,646.7 120.2,646.7 120.5,646.7 120.8,646.7 121.2,646.7 121.5,646.7 121.8,646.7 122.2,646.7 122.5,646.7 122.8,646.7 123.2,646.7 123.5,646.7 123.8,646.7 124.2,646.7 124.5,646.7 124.8,646.7 125.2,646.7 125.5,646.7 125.8,646.7 126.2,646.7 126.5,646.7 126.8,646.7 127.2,646.7 127.5,646.7 127.8,646.7 128.2,646.7 128.5,646.7 128.8,646.7 129.2,646.7 129.5,646.7 129.8,646.7 130.2,646.7 130.5,646.7 130.8,646.7 131.2,646.7 131.5,646.7 131.8,646.7 132.2,646.7 132.5,646.7 132.8,646.7 133.2,646.7 133.5,646.7 133.8,646.7 134.2,646.7 134.5,646.7 134.8,646.7 135.2,646.7 135.5,646.7 135.8,646.7 136.2,646.7 136.5,646.7 136.8,646.7 137.2,646.7 137.5,646.7 137.8,646.7 138.2,646.7 138.5,646.7 138.8,646.7 139.2,646.7 139.5,646.7 139.8,646.7 140.2,646.7 140.5,646.7 140.8,646.7 141.2,646.7 141.5,646.7 141.8,646.7 142.2,646.7 142.5,646.7 142.8,646.7 143.2,646.7 143.5,646.7 143.8,646.7 144.2,646.7 144.5,646.7 144.8,646.7 145.2,646.7 145.5,646.7 145.8,646.7 146.2,646.7 146.5,646.7 146.8,646.7 147.2,646.7 147.5,646.7 147.8,646.7 148.2,646.7 148.5,646.7 148.8,646.7 149.2,646.7 149.5,646.7 149.8,646.7 150.2,646.7 150.5,646.7 150.8,646.7 151.2,646.7 151.5,646.7 151.8,646.7 152.2,646.7 152.5,646.7 152.8,646.7 153.2,646.4 153.5,646.5 153.8,646.7 154.2,646.7 154.5,646.7 154.8,646.7 155.2,646.7 155.5,646.7 155.8,646.7 156.2,646.7 156.5,646.7 156.8,646.7 157.2,646.7 157.5,646.7 157.8,646.7 158.2,646.7 158.5,646.7 158.8,646.7 159.2,646.7 159.5,646.7 159.8,646.7 160.2,646.7 160.5,646.7 160.8,646.7 161.2,646.7 161.5,646.7 161.8,646.7 162.2,646.7 162.5,646.7 162.8,646.7 163.2,646.7 163.5,646.7 163.8,646.3 164.2,645.9 164.5,643.2 164.8,643.0 165.2,643.9 165.5,643.6 165.8,641.1 166.2,641.0 166.5,640.0 166.8,642.4 167.2,640.3 167.5,640.5 167.8,644.0 168.2,643.1 168.5,644.4 168.8,643.3 169.2,644.4 169.5,643.3 169.8,643.3 170.2,645.5 170.5,644.4 170.8,643.3 171.2,643.3 171.5,644.5 171.8,643.3 172.2,643.4 172.5,644.5 172.8,645.6 173.2,644.5 173.5,644.5 173.8,643.4 174.2,644.5 174.5,644.5 174.8,641.1 175.2,643.4 175.5,645.6 175.8,642.3 176.2,643.4 176.5,643.4 176.8,645.7 177.2,643.4 177.5,643.4 177.8,644.5 178.2,645.7 178.5,641.2 178.8,642.3 179.2,643.4 179.5,641.2 179.8,643.4 180.2,644.6 180.5,643.4 180.8,641.2 181.2,643.4 181.5,645.7 181.8,644.6 182.2,645.7 182.5,642.3 182.8,644.6 183.2,645.7 183.5,643.5 183.8,645.7 184.2,644.6 184.5,643.5 184.8,645.7 185.2,644.6 185.5,644.6 185.8,645.7 186.2,643.5 186.5,645.7 186.8,645.7 187.2,645.7 187.5,642.4 187.8,643.5 188.2,643.5 188.5,645.8 188.8,643.5 189.2,643.5 189.5,645.8 189.8,644.6 190.2,644.7 190.5,644.7 190.8,643.5 191.2,645.8 191.5,641.3 191.8,644.7 192.2,644.7 192.5,645.8 192.8,645.8 193.2,644.7 193.5,645.8 193.8,643.6 194.2,643.6 194.5,643.6 194.8,643.6 195.2,643.6 195.5,645.8 195.8,642.4 196.2,643.6 196.5,644.7 196.8,643.6 197.2,644.7 197.5,644.7 197.8,643.6 198.2,643.6 198.5,645.8 198.8,645.8 199.2,642.4 199.5,641.3 199.8,644.7 200.2,643.6 200.5,643.6 200.8,645.6 201.2,644.3 201.5,645.2 201.8,641.6 202.2,641.0 202.5,635.6 202.8,633.6 203.2,631.2 203.5,629.5 203.8,626.8 204.2,621.7 204.5,628.1 204.8,632.7 205.2,632.0 205.5,625.5 205.8,624.3 206.2,617.7 206.5,606.6 206.8,595.4 207.2,589.3 207.5,576.5 207.8,563.9 208.2,543.1 208.5,543.1 208.8,543.1 209.2,543.1 209.5,543.1 209.8,543.1 210.2,543.1 210.5,543.1 210.8,543.1 211.2,543.1 211.5,543.1 211.8,543.1 212.2,543.1 212.5,543.1 212.8,543.1 213.2,543.1 213.5,543.1 213.8,543.1 214.2,543.1 214.5,543.1 214.8,543.1 215.2,543.1 215.5,543.1 215.8,543.1 216.2,569.4 216.5,594.3 216.8,613.9 217.2,623.6 217.5,631.2 217.8,640.3 218.2,644.0 218.5,642.2 218.8,643.8 219.2,644.0 219.5,646.2 219.8,645.1 220.2,644.0 220.5,645.1 220.8,646.2 221.2,646.2 221.5,646.2 221.8,646.2 222.2,646.2 222.5,645.1 222.8,646.2 223.2,646.2 223.5,645.1 223.8,646.2 224.2,646.2 224.5,646.2 224.8,644.0 225.2,646.2 225.5,646.2 225.8,646.2 226.2,644.0 226.5,644.0 226.8,642.9 227.2,646.2 227.5,645.1 227.8,646.2 228.2,642.9 228.5,646.2 228.8,646.2 229.2,646.2 229.5,646.2 229.8,644.0 230.2,645.1 230.5,646.2 230.8,645.1 231.2,646.2 231.5,646.2 231.8,644.0 232.2,642.9 232.5,645.1 232.8,645.1 233.2,646.2 233.5,646.2 233.8,645.1 234.2,646.2 234.5,642.9 234.8,646.2 235.2,645.1 235.5,644.0 235.8,645.1 236.2,646.2 236.5,644.0 236.8,645.1 237.2,646.2 237.5,645.1 237.8,645.1 238.2,644.0 238.5,645.1 238.8,646.2 239.2,645.1 239.5,646.2 239.8,646.2 240.2,646.2 240.5,645.1 240.8,646.2 241.2,645.1 241.5,646.2 241.8,644.0 242.2,646.2 242.5,645.1 242.8,646.2 243.2,644.0 243.5,642.9 243.8,646.2 244.2,645.1 244.5,645.1 244.8,645.1 245.2,644.0 245.5,646.2 245.8,646.2 246.2,646.2 246.5,645.1 246.8,645.1 247.2,641.7 247.5,646.2 247.8,645.1 248.2,644.0 248.5,645.1 248.8,645.1 249.2,646.2 249.5,645.1 249.8,646.2 250.2,646.2 250.5,645.1 250.8,645.1 251.2,646.2 251.5,646.2 251.8,646.2 252.2,646.2 252.5,645.1 252.8,644.0 253.2,644.0 253.5,645.1 253.8,646.2 254.2,646.2 254.5,646.2 254.8,645.1 255.2,646.2 255.5,646.2 255.8,645.1 256.2,645.1 256.5,645.1 256.8,645.1 257.2,645.1 257.5,645.1 257.8,646.2 258.2,646.2 258.5,645.1 258.8,644.0 259.2,646.2 259.5,645.1 259.8,646.2 260.2,646.2 260.5,645.1 260.8,646.2 261.2,646.2 261.5,646.2 261.8,646.2 262.2,645.1 262.5,646.2 262.8,646.2 263.2,645.1 263.5,645.1 263.8,644.0 264.2,644.0 264.5,645.1 264.8,646.2 265.2,645.1 265.5,646.2 265.8,646.2 266.2,646.2 266.5,645.1 266.8,645.1 267.2,644.0 267.5,646.2 267.8,645.1 268.2,646.2 268.5,644.0 268.8,645.1 269.2,644.0 269.5,644.0 269.8,646.2 270.2,646.2 270.5,645.1 270.8,645.1 271.2,646.2 271.5,645.1 271.8,646.2 272.2,646.2 272.5,642.9 272.8,646.2 273.2,646.2 273.5,646.2 273.8,645.1 274.2,645.1 274.5,646.2 274.8,646.2 275.2,646.2 275.5,646.2 275.8,645.1 276.2,646.2 276.5,645.1 276.8,645.1 277.2,644.0 277.5,646.2 277.8,645.1 278.2,645.1 278.5,645.1 278.8,642.9 279.2,640.6 279.5,644.0 279.8,645.1 280.2,645.1 280.5,646.2 280.8,644.0 281.2,642.9 281.5,645.1 281.8,645.1 282.2,645.1 282.5,645.1 282.8,645.1 283.2,645.1 283.5,645.1 283.8,646.2 284.2,645.1 284.5,645.1 284.8,646.2 285.2,646.2 285.5,646.2 285.8,646.2 286.2,645.1 286.5,646.2 286.8,641.7 287.2,642.9 287.5,646.2 287.8,644.0 288.2,646.2 288.5,646.2 288.8,646.2 289.2,646.2 289.5,645.1 289.8,646.2 290.2,645.1 290.5,645.1 290.8,645.1 291.2,646.2 291.5,646.2 291.8,646.2 292.2,646.2 292.5,642.9 292.8,646.2 293.2,646.2 293.5,644.0 293.8,646.2 294.2,646.2 294.5,645.1 294.8,645.1 295.2,645.1 295.5,646.2 295.8,646.2 296.2,645.1 296.5,646.2 296.8,646.2 297.2,646.2 297.5,646.2 297.8,645.1 298.2,645.1 298.5,645.1 298.8,645.1 299.2,641.7 299.5,644.0 299.8,645.1 300.2,646.2 300.5,645.1 300.8,644.0 301.2,646.2 301.5,645.1 301.8,646.2 302.2,646.2 302.5,646.2 302.8,646.2 303.2,646.2 303.5,645.1 303.8,646.2 304.2,645.1 304.5,645.1 304.8,645.1 305.2,644.0 305.5,644.0 305.8,646.2 306.2,645.1 306.5,645.1 306.8,644.0 307.2,646.2 307.5,645.1 307.8,645.1 308.2,646.2 308.5,645.1 308.8,645.1 309.2,646.2 309.5,646.2 309.8,645.1 310.2,645.1 310.5,645.1 310.8,642.9 311.2,646.2 311.5,644.0 311.8,646.2 312.2,644.0 312.5,644.0 312.8,646.2 313.2,645.1 313.5,645.1 313.8,646.2 314.2,646.2 314.5,645.1 314.8,642.9 315.2,645.1 315.5,645.1 315.8,645.1 316.2,646.2 316.5,646.2 316.8,646.2 317.2,646.2 317.5,646.2 317.8,645.1 318.2,645.1 318.5,644.0 318.8,645.1 319.2,646.2 319.5,642.9 319.8,645.1 320.2,646.2 320.5,646.2 320.8,646.2 321.2,646.2 321.5,646.2 321.8,645.1 322.2,645.1 322.5,644.0 322.8,644.0 323.2,645.1 323.5,644.0 323.8,644.0 324.2,645.1 324.5,644.0 324.8,646.2 325.2,646.2 325.5,645.1 325.8,645.1 326.2,646.2 326.5,645.1 326.8,642.9 327.2,646.2 327.5,645.1 327.8,644.0 328.2,646.2 328.5,645.1 328.8,645.1 329.2,646.2 329.5,645.1 329.8,646.2 330.2,645.1 330.5,645.1 330.8,644.0 331.2,646.2 331.5,646.2 331.8,645.1 332.2,646.2 332.5,644.0 332.8,645.1 333.2,646.2 333.5,646.2 333.8,646.2 334.2,642.9 334.5,646.2 334.8,646.2 335.2,646.2 335.5,646.2 335.8,646.2 336.2,644.0 336.5,645.1 336.8,644.0 337.2,645.1 337.5,646.2 337.8,645.1 338.2,646.2 338.5,645.1 338.8,645.1 339.2,645.1 339.5,645.1 339.8,645.1 340.2,645.1 340.5,644.0 340.8,645.1 341.2,646.2 341.5,645.1 341.8,645.1 342.2,646.2 342.5,645.1 342.8,644.0 343.2,646.2 343.5,644.0 343.8,645.1 344.2,645.1 344.5,646.2 344.8,645.1 345.2,645.1 345.5,644.0 345.8,646.2 346.2,645.1 346.5,645.1 346.8,646.2 347.2,646.2 347.5,646.2 347.8,646.2 348.2,646.2 348.5,645.1 348.8,645.1 349.2,646.2 349.5,645.1 349.8,646.2 350.2,645.1 350.5,646.2 350.8,645.1 351.2,641.7 351.5,644.0 351.8,645.1 352.2,644.0 352.5,646.2 352.8,641.7 353.2,645.1 353.5,644.0 353.8,646.2 354.2,646.2 354.5,646.2 354.8,646.2 355.2,644.0 355.5,646.2 355.8,644.0 356.2,646.2 356.5,646.2 356.8,646.2 357.2,646.2 357.5,645.1 357.8,646.2 358.2,646.2 358.5,646.2 358.8,641.7 359.2,645.1 359.5,646.2 359.8,646.2 360.2,642.9 360.5,645.1 360.8,646.2 361.2,646.2 361.5,646.2 361.8,645.1 362.2,646.2 362.5,646.2 362.8,646.2 363.2,644.0 363.5,646.2 363.8,645.1 364.2,646.2 364.5,646.2 364.8,645.1 365.2,642.9 365.5,646.2 365.8,646.2 366.2,642.9 366.5,645.1 366.8,644.0 367.2,646.2 367.5,644.0 367.8,646.2 368.2,645.1 368.5,646.2 368.8,641.7 369.2,645.1 369.5,646.2 369.8,645.1 370.2,645.1 370.5,645.1 370.8,646.2 371.2,645.1 371.5,646.2 371.8,645.1 372.2,646.2 372.5,646.2 372.8,646.2 373.2,645.1 373.5,646.2 373.8,646.2 374.2,646.2 374.5,641.7 374.8,645.1 375.2,645.1 375.5,645.1 375.8,646.2 376.2,645.1 376.5,645.1 376.8,646.2 377.2,642.9 377.5,642.9 377.8,645.1 378.2,646.2 378.5,646.2 378.8,646.2 379.2,644.0 379.5,646.2 379.8,646.2 380.2,646.2 380.5,646.2 380.8,644.0 381.2,645.1 381.5,645.1" stroke="#0000ff" stroke-width="1" fill="none" stroke-linejoin="round"/><rect x="112.75" y="560.20" width="269.0" height="87.0" stroke="#8a8a8a" stroke-width="1.7" fill="none"/><text x="109.1" y="652.1" text-anchor="end" class="tx">0</text><text x="109.1" y="634.8" text-anchor="end" class="tx">10</text><text x="109.1" y="617.4" text-anchor="end" class="tx">20</text><text x="109.1" y="600.1" text-anchor="end" class="tx">30</text><text x="109.1" y="582.7" text-anchor="end" class="tx">40</text><text x="109.1" y="565.4" text-anchor="end" class="tx">50</text><text x="137.5" y="661.0" text-anchor="middle" class="tx">20000</text><text x="181.2" y="661.0" text-anchor="middle" class="tx">21000</text><text x="224.8" y="661.0" text-anchor="middle" class="tx">22000</text><text x="268.5" y="661.0" text-anchor="middle" class="tx">23000</text><text x="312.2" y="661.0" text-anchor="middle" class="tx">24000</text><text x="355.9" y="661.0" text-anchor="middle" class="tx">25000</text><rect x="289.7" y="568.6" width="13.5" height="10.6" fill="#fff" stroke="#cccccc" stroke-width="1"/><rect x="291.0" y="570.0" width="11" height="8" fill="#0000ff"/><text x="307.1" y="578.0" class="tx" fill="#7d7d7d" style="fill:#7d7d7d;letter-spacing:0.64px">aida15 1.8.L</text><path d="M381.2 551.1L391.0 560.9L381.2 570.7L371.4 560.9z" fill="#ff0000"/><path d="M613.2 560.4V647.1M656.9 560.4V647.1M700.5 560.4V647.1M744.2 560.4V647.1M787.9 560.4V647.1M831.6 560.4V647.1M588.5 629.8H857.5M588.5 612.4H857.5M588.5 595.1H857.5M588.5 577.7H857.5" stroke="#ebebeb" stroke-width="1" fill="none"/><polyline clip-path="url(#cp4)" points="588.5,646.7 588.8,646.7 589.2,646.7 589.5,646.7 589.8,646.7 590.2,646.7 590.5,646.7 590.8,646.7 591.2,646.7 591.5,646.7 591.8,646.7 592.2,646.7 592.5,646.7 592.8,646.7 593.2,646.7 593.5,646.7 593.8,646.7 594.2,646.7 594.5,646.7 594.8,646.7 595.2,646.7 595.5,646.7 595.8,646.7 596.2,646.7 596.5,646.7 596.8,646.7 597.2,646.7 597.5,646.7 597.8,646.7 598.2,646.7 598.5,646.7 598.8,646.7 599.2,646.7 599.5,646.7 599.8,646.7 600.2,646.7 600.5,646.7 600.8,646.7 601.2,646.7 601.5,646.7 601.8,646.7 602.2,646.7 602.5,646.7 602.8,646.7 603.2,646.7 603.5,646.7 603.8,646.7 604.2,646.7 604.5,646.7 604.8,646.7 605.2,646.7 605.5,646.7 605.8,646.7 606.2,646.7 606.5,646.7 606.8,646.7 607.2,646.7 607.5,646.7 607.8,646.7 608.2,646.7 608.5,646.7 608.8,646.7 609.2,646.7 609.5,646.7 609.8,646.7 610.2,646.7 610.5,646.7 610.8,646.7 611.2,646.7 611.5,646.7 611.8,646.7 612.2,646.7 612.5,646.7 612.8,646.7 613.2,646.7 613.5,646.7 613.8,646.7 614.2,646.7 614.5,646.7 614.8,646.7 615.2,646.7 615.5,646.7 615.8,646.7 616.2,646.7 616.5,646.7 616.8,646.7 617.2,646.7 617.5,646.7 617.8,646.7 618.2,646.7 618.5,646.7 618.8,645.4 619.2,645.3 619.5,646.2 619.8,645.0 620.2,645.0 620.5,646.0 620.8,644.9 621.2,644.8 621.5,644.7 621.8,641.3 622.2,644.6 622.5,644.6 622.8,643.4 623.2,643.3 623.5,637.6 623.8,643.2 624.2,642.0 624.5,640.9 624.8,643.1 625.2,643.0 625.5,644.1 625.8,641.8 626.2,642.9 626.5,640.6 626.8,643.9 627.2,642.7 627.5,640.4 627.8,638.1 628.2,640.3 628.5,641.4 628.8,641.3 629.2,641.3 629.5,642.4 629.8,642.4 630.2,642.5 630.5,642.5 630.8,644.9 631.2,642.7 631.5,641.6 631.8,641.7 632.2,639.6 632.5,644.1 632.8,644.2 633.2,643.2 633.5,642.1 633.8,644.4 634.2,642.1 634.5,639.9 634.8,643.3 635.2,643.3 635.5,644.4 635.8,644.4 636.2,640.0 636.5,644.5 636.8,641.1 637.2,645.6 637.5,642.2 637.8,643.4 638.2,642.3 638.5,643.4 638.8,644.5 639.2,644.5 639.5,644.6 639.8,644.6 640.2,644.6 640.5,645.7 640.8,644.6 641.2,643.5 641.5,645.7 641.8,643.5 642.2,645.8 642.5,643.5 642.8,643.5 643.2,645.8 643.5,644.7 643.8,643.6 644.2,641.3 644.5,645.8 644.8,645.8 645.2,644.7 645.5,645.8 645.8,644.7 646.2,644.7 646.5,643.6 646.8,645.8 647.2,643.6 647.5,643.6 647.8,645.8 648.2,642.4 648.5,643.6 648.8,642.4 649.2,645.8 649.5,645.8 649.8,643.6 650.2,644.7 650.5,644.7 650.8,643.6 651.2,641.3 651.5,641.3 651.8,643.6 652.2,642.4 652.5,645.8 652.8,644.7 653.2,643.6 653.5,644.7 653.8,644.7 654.2,645.8 654.5,643.6 654.8,643.6 655.2,644.7 655.5,643.6 655.8,644.5 656.2,644.4 656.5,643.1 656.8,643.0 657.2,640.6 657.5,642.5 657.8,642.3 658.2,643.1 658.5,639.5 658.8,639.2 659.2,635.5 659.5,630.2 659.8,631.6 660.2,634.5 660.5,631.2 660.8,624.7 661.2,625.6 661.5,624.0 661.8,617.1 662.2,606.0 662.5,603.2 662.8,590.4 663.2,581.7 663.5,574.5 663.8,543.1 664.2,543.1 664.5,543.1 664.8,543.1 665.2,543.1 665.5,543.1 665.8,543.1 666.2,543.1 666.5,543.1 666.8,543.1 667.2,543.1 667.5,543.1 667.8,543.1 668.2,543.1 668.5,543.1 668.8,543.1 669.2,543.1 669.5,543.1 669.8,543.1 670.2,543.1 670.5,543.1 670.8,543.1 671.2,543.1 671.5,543.1 671.8,543.1 672.2,543.1 672.5,543.1 672.8,543.1 673.2,543.1 673.5,543.1 673.8,543.1 674.2,543.1 674.5,543.1 674.8,543.1 675.2,543.1 675.5,543.1 675.8,543.1 676.2,543.1 676.5,543.1 676.8,543.1 677.2,543.1 677.5,563.9 677.8,591.9 678.2,627.5 678.5,633.9 678.8,636.7 679.2,641.5 679.5,641.1 679.8,643.4 680.2,641.3 680.5,645.9 680.8,642.5 681.2,644.8 681.5,645.9 681.8,645.9 682.2,645.9 682.5,644.8 682.8,645.9 683.2,645.9 683.5,644.8 683.8,645.9 684.2,645.9 684.5,644.8 684.8,643.7 685.2,644.8 685.5,644.8 685.8,644.8 686.2,644.8 686.5,645.9 686.8,643.7 687.2,643.7 687.5,644.8 687.8,644.8 688.2,644.8 688.5,641.4 688.8,644.8 689.2,643.7 689.5,643.7 689.8,643.7 690.2,644.8 690.5,643.7 690.8,643.7 691.2,645.9 691.5,642.5 691.8,643.7 692.2,644.8 692.5,644.8 692.8,644.8 693.2,640.3 693.5,644.8 693.8,640.3 694.2,644.8 694.5,644.8 694.8,643.7 695.2,644.8 695.5,644.8 695.8,643.7 696.2,643.7 696.5,644.8 696.8,643.7 697.2,643.7 697.5,644.8 697.8,644.8 698.2,643.7 698.5,643.7 698.8,645.9 699.2,644.8 699.5,645.9 699.8,645.9 700.2,642.5 700.5,643.7 700.8,644.8 701.2,645.9 701.5,643.7 701.8,645.9 702.2,645.9 702.5,644.8 702.8,644.8 703.2,644.8 703.5,644.8 703.8,641.4 704.2,643.7 704.5,645.9 704.8,643.7 705.2,644.8 705.5,643.7 705.8,642.5 706.2,645.9 706.5,644.8 706.8,645.9 707.2,644.8 707.5,644.8 707.8,645.9 708.2,645.9 708.5,644.8 708.8,644.8 709.2,643.7 709.5,644.8 709.8,645.9 710.2,645.9 710.5,645.9 710.8,643.7 711.2,643.7 711.5,643.7 711.8,644.8 712.2,642.5 712.5,644.8 712.8,644.8 713.2,645.9 713.5,645.9 713.8,644.8 714.2,643.7 714.5,643.7 714.8,643.7 715.2,645.9 715.5,644.8 715.8,643.7 716.2,643.7 716.5,645.9 716.8,645.9 717.2,642.5 717.5,643.7 717.8,644.8 718.2,644.8 718.5,643.7 718.8,645.9 719.2,643.7 719.5,642.5 719.8,641.4 720.2,643.7 720.5,644.8 720.8,644.8 721.2,645.9 721.5,642.5 721.8,644.8 722.2,645.9 722.5,644.8 722.8,643.7 723.2,644.8 723.5,642.5 723.8,642.5 724.2,642.5 724.5,644.8 724.8,643.7 725.2,644.8 725.5,643.7 725.8,644.8 726.2,643.7 726.5,644.8 726.8,645.9 727.2,644.8 727.5,645.9 727.8,644.8 728.2,645.9 728.5,643.7 728.8,644.8 729.2,645.9 729.5,643.7 729.8,643.7 730.2,643.7 730.5,644.8 730.8,645.9 731.2,643.7 731.5,645.9 731.8,644.8 732.2,644.8 732.5,643.7 732.8,645.9 733.2,641.4 733.5,643.7 733.8,644.8 734.2,641.4 734.5,643.7 734.8,645.9 735.2,645.9 735.5,643.7 735.8,645.9 736.2,644.8 736.5,642.5 736.8,644.8 737.2,644.8 737.5,643.7 737.8,643.7 738.2,645.9 738.5,645.9 738.8,644.8 739.2,645.9 739.5,645.9 739.8,645.9 740.2,645.9 740.5,642.5 740.8,644.8 741.2,643.7 741.5,645.9 741.8,644.8 742.2,643.7 742.5,644.8 742.8,643.7 743.2,644.8 743.5,644.8 743.8,644.8 744.2,643.7 744.5,645.9 744.8,644.8 745.2,644.8 745.5,644.8 745.8,644.8 746.2,645.9 746.5,642.5 746.8,645.9 747.2,643.7 747.5,644.8 747.8,644.8 748.2,645.9 748.5,644.8 748.8,643.7 749.2,643.7 749.5,645.9 749.8,644.8 750.2,644.8 750.5,644.8 750.8,644.8 751.2,645.9 751.5,645.9 751.8,642.5 752.2,644.8 752.5,645.9 752.8,645.9 753.2,645.9 753.5,644.8 753.8,642.5 754.2,642.5 754.5,641.4 754.8,643.7 755.2,644.8 755.5,642.5 755.8,643.7 756.2,644.8 756.5,645.9 756.8,641.4 757.2,645.9 757.5,645.9 757.8,644.8 758.2,644.8 758.5,644.8 758.8,645.9 759.2,644.8 759.5,644.8 759.8,643.7 760.2,644.8 760.5,643.7 760.8,645.9 761.2,643.7 761.5,643.7 761.8,644.8 762.2,644.8 762.5,643.7 762.8,645.9 763.2,643.7 763.5,644.8 763.8,643.7 764.2,644.8 764.5,644.8 764.8,643.7 765.2,641.4 765.5,645.9 765.8,644.8 766.2,644.8 766.5,643.7 766.8,644.8 767.2,645.9 767.5,644.8 767.8,644.8 768.2,642.5 768.5,644.8 768.8,643.7 769.2,645.9 769.5,642.5 769.8,643.7 770.2,644.8 770.5,642.5 770.8,644.8 771.2,644.8 771.5,645.9 771.8,644.8 772.2,644.8 772.5,644.8 772.8,643.7 773.2,642.5 773.5,643.7 773.8,641.4 774.2,645.9 774.5,644.8 774.8,643.7 775.2,643.7 775.5,643.7 775.8,643.7 776.2,642.5 776.5,644.8 776.8,643.7 777.2,644.8 777.5,642.5 777.8,644.8 778.2,640.3 778.5,645.9 778.8,644.8 779.2,644.8 779.5,642.5 779.8,644.8 780.2,644.8 780.5,645.9 780.8,645.9 781.2,644.8 781.5,644.8 781.8,645.9 782.2,644.8 782.5,645.9 782.8,645.9 783.2,645.9 783.5,645.9 783.8,644.8 784.2,644.8 784.5,645.9 784.8,643.7 785.2,645.9 785.5,645.9 785.8,644.8 786.2,645.9 786.5,644.8 786.8,642.5 787.2,645.9 787.5,644.8 787.8,645.9 788.2,644.8 788.5,644.8 788.8,644.8 789.2,644.8 789.5,644.8 789.8,642.5 790.2,645.9 790.5,643.7 790.8,644.8 791.2,644.8 791.5,645.9 791.8,645.9 792.2,644.8 792.5,643.7 792.8,645.9 793.2,644.8 793.5,644.8 793.8,644.8 794.2,645.9 794.5,642.5 794.8,645.9 795.2,645.9 795.5,641.4 795.8,644.8 796.2,643.7 796.5,643.7 796.8,645.9 797.2,645.9 797.5,643.7 797.8,644.8 798.2,644.8 798.5,643.7 798.8,644.8 799.2,644.8 799.5,645.9 799.8,645.9 800.2,642.5 800.5,639.2 800.8,643.7 801.2,641.4 801.5,641.4 801.8,643.7 802.2,644.8 802.5,644.8 802.8,644.8 803.2,643.7 803.5,642.5 803.8,643.7 804.2,644.8 804.5,644.8 804.8,644.8 805.2,644.8 805.5,643.7 805.8,644.8 806.2,644.8 806.5,642.5 806.8,645.9 807.2,643.7 807.5,644.8 807.8,643.7 808.2,644.8 808.5,644.8 808.8,644.8 809.2,643.7 809.5,642.5 809.8,639.2 810.2,642.5 810.5,643.7 810.8,643.7 811.2,644.8 811.5,642.5 811.8,644.8 812.2,643.7 812.5,644.8 812.8,642.5 813.2,643.7 813.5,644.8 813.8,641.4 814.2,644.8 814.5,643.7 814.8,645.9 815.2,644.8 815.5,642.5 815.8,644.8 816.2,643.7 816.5,644.8 816.8,642.5 817.2,645.9 817.5,645.9 817.8,644.8 818.2,645.9 818.5,645.9 818.8,644.8 819.2,643.7 819.5,644.8 819.8,643.7 820.2,642.5 820.5,644.8 820.8,645.9 821.2,643.7 821.5,643.7 821.8,642.5 822.2,644.8 822.5,643.7 822.8,643.7 823.2,645.9 823.5,644.8 823.8,643.7 824.2,645.9 824.5,645.9 824.8,644.8 825.2,645.9 825.5,645.9 825.8,645.9 826.2,645.9 826.5,645.9 826.8,641.4 827.2,644.8 827.5,642.5 827.8,645.9 828.2,643.7 828.5,645.9 828.8,645.9 829.2,644.8 829.5,642.5 829.8,643.7 830.2,645.9 830.5,644.8 830.8,644.8 831.2,644.8 831.5,645.9 831.8,643.7 832.2,645.9 832.5,645.9 832.8,644.8 833.2,644.8 833.5,643.7 833.8,643.7 834.2,645.9 834.5,645.9 834.8,644.8 835.2,644.8 835.5,643.7 835.8,642.5 836.2,644.8 836.5,642.5 836.8,644.8 837.2,642.5 837.5,644.8 837.8,642.5 838.2,641.4 838.5,644.8 838.8,644.8 839.2,645.9 839.5,643.7 839.8,645.9 840.2,641.4 840.5,644.8 840.8,642.5 841.2,644.8 841.5,643.7 841.8,645.9 842.2,642.5 842.5,642.5 842.8,645.9 843.2,644.8 843.5,644.8 843.8,645.9 844.2,644.8 844.5,644.8 844.8,645.9 845.2,645.9 845.5,645.9 845.8,642.5 846.2,645.9 846.5,645.9 846.8,644.8 847.2,645.9 847.5,643.7 847.8,644.8 848.2,644.8 848.5,645.9 848.8,643.7 849.2,643.7 849.5,643.7 849.8,643.7 850.2,644.8 850.5,644.8 850.8,644.8 851.2,645.9 851.5,645.9 851.8,645.9 852.2,644.8 852.5,645.9 852.8,644.8 853.2,641.4 853.5,643.7 853.8,643.7 854.2,645.9 854.5,645.9 854.8,645.9 855.2,643.7 855.5,645.9 855.8,644.8 856.2,643.7 856.5,644.8 856.8,644.8 857.2,643.7 857.5,644.8" stroke="#0000ff" stroke-width="1" fill="none" stroke-linejoin="round"/><rect x="588.75" y="560.20" width="269.0" height="87.0" stroke="#8a8a8a" stroke-width="1.7" fill="none"/><text x="585.1" y="652.1" text-anchor="end" class="tx">0</text><text x="585.1" y="634.8" text-anchor="end" class="tx">10</text><text x="585.1" y="617.4" text-anchor="end" class="tx">20</text><text x="585.1" y="600.1" text-anchor="end" class="tx">30</text><text x="585.1" y="582.7" text-anchor="end" class="tx">40</text><text x="585.1" y="565.4" text-anchor="end" class="tx">50</text><text x="613.5" y="661.0" text-anchor="middle" class="tx">20000</text><text x="657.2" y="661.0" text-anchor="middle" class="tx">21000</text><text x="700.8" y="661.0" text-anchor="middle" class="tx">22000</text><text x="744.5" y="661.0" text-anchor="middle" class="tx">23000</text><text x="788.2" y="661.0" text-anchor="middle" class="tx">24000</text><text x="831.9" y="661.0" text-anchor="middle" class="tx">25000</text><rect x="765.7" y="568.6" width="13.5" height="10.6" fill="#fff" stroke="#cccccc" stroke-width="1"/><rect x="767.0" y="570.0" width="11" height="8" fill="#0000ff"/><text x="783.1" y="578.0" class="tx" fill="#7d7d7d" style="fill:#7d7d7d;letter-spacing:0.64px">aida03 1.8.L</text><path d="M857.2 551.1L867.0 560.9L857.2 570.7L847.4 560.9z" fill="#ff0000"/><path d="M1089.2 560.4V647.1M1132.9 560.4V647.1M1176.5 560.4V647.1M1220.2 560.4V647.1M1263.9 560.4V647.1M1307.6 560.4V647.1M1064.5 629.8H1333.5M1064.5 612.4H1333.5M1064.5 595.1H1333.5M1064.5 577.7H1333.5" stroke="#ebebeb" stroke-width="1" fill="none"/><polyline clip-path="url(#cp5)" points="1064.5,645.1 1064.8,645.1 1065.2,645.1 1065.5,645.1 1065.8,646.2 1066.2,646.2 1066.5,646.2 1066.8,644.0 1067.2,646.2 1067.5,645.1 1067.8,646.2 1068.2,645.1 1068.5,643.9 1068.8,645.1 1069.2,645.1 1069.5,645.1 1069.8,643.9 1070.2,646.2 1070.5,643.9 1070.8,646.2 1071.2,646.2 1071.5,645.0 1071.8,645.0 1072.2,645.0 1072.5,646.2 1072.8,646.1 1073.2,646.1 1073.5,643.9 1073.8,643.9 1074.2,646.1 1074.5,645.0 1074.8,645.0 1075.2,643.9 1075.5,645.0 1075.8,645.0 1076.2,642.8 1076.5,645.0 1076.8,646.1 1077.2,643.9 1077.5,643.9 1077.8,643.9 1078.2,646.1 1078.5,645.0 1078.8,646.1 1079.2,646.1 1079.5,646.1 1079.8,646.1 1080.2,644.9 1080.5,642.7 1080.8,643.8 1081.2,642.6 1081.5,646.0 1081.8,644.8 1082.2,643.7 1082.5,644.8 1082.8,644.8 1083.2,644.8 1083.5,644.7 1083.8,644.7 1084.2,640.2 1084.5,645.8 1084.8,645.8 1085.2,639.0 1085.5,644.6 1085.8,645.7 1086.2,644.6 1086.5,645.7 1086.8,643.4 1087.2,644.5 1087.5,643.4 1087.8,645.6 1088.2,644.5 1088.5,644.4 1088.8,643.3 1089.2,645.5 1089.5,644.4 1089.8,642.1 1090.2,639.8 1090.5,644.3 1090.8,645.4 1091.2,640.9 1091.5,644.2 1091.8,639.7 1092.2,640.8 1092.5,643.0 1092.8,644.1 1093.2,644.0 1093.5,642.9 1093.8,641.7 1094.2,642.8 1094.5,638.3 1094.8,642.8 1095.2,640.5 1095.5,641.6 1095.8,639.3 1096.2,640.4 1096.5,639.2 1096.8,643.7 1097.2,641.4 1097.5,640.3 1097.8,636.9 1098.2,643.6 1098.5,641.3 1098.8,634.5 1099.2,643.5 1099.5,643.5 1099.8,640.0 1100.2,639.9 1100.5,642.1 1100.8,640.9 1101.2,638.5 1101.5,635.1 1101.8,637.2 1102.2,637.1 1102.5,640.4 1102.8,633.7 1103.2,635.8 1103.5,640.0 1103.8,635.6 1104.2,636.6 1104.5,640.6 1104.8,633.3 1105.2,637.3 1105.5,636.2 1105.8,638.0 1106.2,635.0 1106.5,636.8 1106.8,638.8 1107.2,635.0 1107.5,638.1 1107.8,640.2 1108.2,639.3 1108.5,633.3 1108.8,636.5 1109.2,636.5 1109.5,634.5 1109.8,643.0 1110.2,636.8 1110.5,639.0 1110.8,635.8 1111.2,635.9 1111.5,637.0 1111.8,636.0 1112.2,638.3 1112.5,641.7 1112.8,639.6 1113.2,640.7 1113.5,639.7 1113.8,642.0 1114.2,639.8 1114.5,641.0 1114.8,639.9 1115.2,638.8 1115.5,642.3 1115.8,644.6 1116.2,642.4 1116.5,639.1 1116.8,641.4 1117.2,636.9 1117.5,642.6 1117.8,640.4 1118.2,641.6 1118.5,641.7 1118.8,640.6 1119.2,644.0 1119.5,642.9 1119.8,643.1 1120.2,645.4 1120.5,644.4 1120.8,641.2 1121.2,643.5 1121.5,642.5 1121.8,644.9 1122.2,643.9 1122.5,645.1 1122.8,645.0 1123.2,645.9 1123.5,643.6 1123.8,644.6 1124.2,642.2 1124.5,642.0 1124.8,645.3 1125.2,642.9 1125.5,641.6 1125.8,639.2 1126.2,640.2 1126.5,639.0 1126.8,641.2 1127.2,642.4 1127.5,642.4 1127.8,640.1 1128.2,639.0 1128.5,641.3 1128.8,643.6 1129.2,640.2 1129.5,639.1 1129.8,644.7 1130.2,643.6 1130.5,642.5 1130.8,641.4 1131.2,643.6 1131.5,640.3 1131.8,641.4 1132.2,641.4 1132.5,641.4 1132.8,643.7 1133.2,641.5 1133.5,640.4 1133.8,641.5 1134.2,642.6 1134.5,639.3 1134.8,640.4 1135.2,642.7 1135.5,642.7 1135.8,644.9 1136.2,640.5 1136.5,641.6 1136.8,643.8 1137.2,643.8 1137.5,642.7 1137.8,640.5 1138.2,645.0 1138.5,639.4 1138.8,643.9 1139.2,641.7 1139.5,641.7 1139.8,642.8 1140.2,643.9 1140.5,643.9 1140.8,642.8 1141.2,644.0 1141.5,642.9 1141.8,644.0 1142.2,642.9 1142.5,644.0 1142.8,639.5 1143.2,640.7 1143.5,644.0 1143.8,641.8 1144.2,639.6 1144.5,642.9 1144.8,644.1 1145.2,641.8 1145.5,642.9 1145.8,642.9 1146.2,642.9 1146.5,642.9 1146.8,641.8 1147.2,642.9 1147.5,642.9 1147.8,640.7 1148.2,645.2 1148.5,642.9 1148.8,644.1 1149.2,642.9 1149.5,641.8 1149.8,641.8 1150.2,644.1 1150.5,644.1 1150.8,642.9 1151.2,642.9 1151.5,640.7 1151.8,644.1 1152.2,639.6 1152.5,640.7 1152.8,645.2 1153.2,642.9 1153.5,640.7 1153.8,644.1 1154.2,641.8 1154.5,644.1 1154.8,640.7 1155.2,642.9 1155.5,642.9 1155.8,642.9 1156.2,642.9 1156.5,639.6 1156.8,645.0 1157.2,641.5 1157.5,639.1 1157.8,643.4 1158.2,643.2 1158.5,635.2 1158.8,638.4 1159.2,637.1 1159.5,639.2 1159.8,635.5 1160.2,633.0 1160.5,631.6 1160.8,631.9 1161.2,631.2 1161.5,630.5 1161.8,622.9 1162.2,620.2 1162.5,614.5 1162.8,607.0 1163.2,609.6 1163.5,604.2 1163.8,602.8 1164.2,597.5 1164.5,588.0 1164.8,585.0 1165.2,581.4 1165.5,574.2 1165.8,568.6 1166.2,561.2 1166.5,543.1 1166.8,543.1 1167.2,543.1 1167.5,543.1 1167.8,543.1 1168.2,543.1 1168.5,543.1 1168.8,543.1 1169.2,543.1 1169.5,543.1 1169.8,543.1 1170.2,543.1 1170.5,543.1 1170.8,543.1 1171.2,543.1 1171.5,543.1 1171.8,543.1 1172.2,543.1 1172.5,543.1 1172.8,543.1 1173.2,543.1 1173.5,543.1 1173.8,543.1 1174.2,543.1 1174.5,543.1 1174.8,543.1 1175.2,543.1 1175.5,560.1 1175.8,584.9 1176.2,608.6 1176.5,626.3 1176.8,638.2 1177.2,643.0 1177.5,638.5 1177.8,635.8 1178.2,627.7 1178.5,618.3 1178.8,622.3 1179.2,618.2 1179.5,614.2 1179.8,609.6 1180.2,612.2 1180.5,617.0 1180.8,622.6 1181.2,626.4 1181.5,627.1 1181.8,633.0 1182.2,635.0 1182.5,635.0 1182.8,635.7 1183.2,638.6 1183.5,641.5 1183.8,642.7 1184.2,641.6 1184.5,639.4 1184.8,639.4 1185.2,643.9 1185.5,644.0 1185.8,642.9 1186.2,644.0 1186.5,636.2 1186.8,640.7 1187.2,640.8 1187.5,643.0 1187.8,642.0 1188.2,644.2 1188.5,644.3 1188.8,643.2 1189.2,642.1 1189.5,644.4 1189.8,643.2 1190.2,644.3 1190.5,644.3 1190.8,640.9 1191.2,643.2 1191.5,643.1 1191.8,643.1 1192.2,644.2 1192.5,643.1 1192.8,642.0 1193.2,641.9 1193.5,640.8 1193.8,640.8 1194.2,641.9 1194.5,641.9 1194.8,643.0 1195.2,643.0 1195.5,644.1 1195.8,641.3 1196.2,638.6 1196.5,635.9 1196.8,639.5 1197.2,634.9 1197.5,634.8 1197.8,631.0 1198.2,631.2 1198.5,631.1 1198.8,623.4 1199.2,623.2 1199.5,624.9 1199.8,631.0 1200.2,630.3 1200.5,636.0 1200.8,634.4 1201.2,641.2 1201.5,638.5 1201.8,642.3 1202.2,642.8 1202.5,644.4 1202.8,642.1 1203.2,644.4 1203.5,645.5 1203.8,643.2 1204.2,641.0 1204.5,645.5 1204.8,644.4 1205.2,644.4 1205.5,643.2 1205.8,645.5 1206.2,639.9 1206.5,644.4 1206.8,643.2 1207.2,645.5 1207.5,641.0 1207.8,643.2 1208.2,641.0 1208.5,643.2 1208.8,644.4 1209.2,645.5 1209.5,641.0 1209.8,643.2 1210.2,644.4 1210.5,644.4 1210.8,644.4 1211.2,643.2 1211.5,643.2 1211.8,644.4 1212.2,643.2 1212.5,644.4 1212.8,641.0 1213.2,643.2 1213.5,644.4 1213.8,642.1 1214.2,644.4 1214.5,643.2 1214.8,643.2 1215.2,644.4 1215.5,644.4 1215.8,644.4 1216.2,642.1 1216.5,641.0 1216.8,643.2 1217.2,644.3 1217.5,643.2 1217.8,645.4 1218.2,643.2 1218.5,644.3 1218.8,644.3 1219.2,642.0 1219.5,640.9 1219.8,642.0 1220.2,643.1 1220.5,644.2 1220.8,644.2 1221.2,641.9 1221.5,643.1 1221.8,645.3 1222.2,644.2 1222.5,643.0 1222.8,641.9 1223.2,641.9 1223.5,641.9 1223.8,644.1 1224.2,638.5 1224.5,641.8 1224.8,641.6 1225.2,641.3 1225.5,642.2 1225.8,637.5 1226.2,638.3 1226.5,639.2 1226.8,634.6 1227.2,635.4 1227.5,638.1 1227.8,633.0 1228.2,630.8 1228.5,631.5 1228.8,631.2 1229.2,634.3 1229.5,633.9 1229.8,628.6 1230.2,629.0 1230.5,627.9 1230.8,627.1 1231.2,622.0 1231.5,621.0 1231.8,615.6 1232.2,616.2 1232.5,617.1 1232.8,605.9 1233.2,609.7 1233.5,602.8 1233.8,604.4 1234.2,597.8 1234.5,594.9 1234.8,594.1 1235.2,601.2 1235.5,605.5 1235.8,612.3 1236.2,616.4 1236.5,617.0 1236.8,620.0 1237.2,625.2 1237.5,622.0 1237.8,624.3 1238.2,630.0 1238.5,636.0 1238.8,631.7 1239.2,636.3 1239.5,635.9 1239.8,639.0 1240.2,634.6 1240.5,634.6 1240.8,638.6 1241.2,632.4 1241.5,630.3 1241.8,629.9 1242.2,632.6 1242.5,631.5 1242.8,623.5 1243.2,628.3 1243.5,627.0 1243.8,629.7 1244.2,627.3 1244.5,631.5 1244.8,635.2 1245.2,630.8 1245.5,641.4 1245.8,638.6 1246.2,637.7 1246.5,633.6 1246.8,635.9 1247.2,637.1 1247.5,635.0 1247.8,634.0 1248.2,638.7 1248.5,637.7 1248.8,644.6 1249.2,641.4 1249.5,642.6 1249.8,642.6 1250.2,639.3 1250.5,642.6 1250.8,641.5 1251.2,641.5 1251.5,639.3 1251.8,639.3 1252.2,643.8 1252.5,643.8 1252.8,642.6 1253.2,642.6 1253.5,634.8 1253.8,643.8 1254.2,641.5 1254.5,643.8 1254.8,640.4 1255.2,642.6 1255.5,641.5 1255.8,643.8 1256.2,641.5 1256.5,641.5 1256.8,642.4 1257.2,639.9 1257.5,638.5 1257.8,642.7 1258.2,641.2 1258.5,637.6 1258.8,639.3 1259.2,635.9 1259.5,634.6 1259.8,631.0 1260.2,628.9 1260.5,625.8 1260.8,618.9 1261.2,620.1 1261.5,612.3 1261.8,608.2 1262.2,606.6 1262.5,605.3 1262.8,598.3 1263.2,588.8 1263.5,592.3 1263.8,589.5 1264.2,597.2 1264.5,598.6 1264.8,601.6 1265.2,613.4 1265.5,611.2 1265.8,619.7 1266.2,624.6 1266.5,622.4 1266.8,626.5 1267.2,633.3 1267.5,625.9 1267.8,640.6 1268.2,641.1 1268.5,640.9 1268.8,637.7 1269.2,638.9 1269.5,639.0 1269.8,641.3 1270.2,640.3 1270.5,640.4 1270.8,643.4 1271.2,640.7 1271.5,633.7 1271.8,639.7 1272.2,636.1 1272.5,633.7 1272.8,633.9 1273.2,635.7 1273.5,626.7 1273.8,633.0 1274.2,629.8 1274.5,627.4 1274.8,627.2 1275.2,624.2 1275.5,620.7 1275.8,622.1 1276.2,625.8 1276.5,626.7 1276.8,626.5 1277.2,628.8 1277.5,628.6 1277.8,625.3 1278.2,620.2 1278.5,611.6 1278.8,615.1 1279.2,612.5 1279.5,609.9 1279.8,604.8 1280.2,606.6 1280.5,601.6 1280.8,608.1 1281.2,615.9 1281.5,616.5 1281.8,623.5 1282.2,624.9 1282.5,634.9 1282.8,632.4 1283.2,635.5 1283.5,637.1 1283.8,636.9 1284.2,633.7 1284.5,634.1 1284.8,636.5 1285.2,638.0 1285.5,639.5 1285.8,639.5 1286.2,638.3 1286.5,637.1 1286.8,638.2 1287.2,636.0 1287.5,639.3 1287.8,635.9 1288.2,632.6 1288.5,635.9 1288.8,639.0 1289.2,633.5 1289.5,633.5 1289.8,634.4 1290.2,633.3 1290.5,635.1 1290.8,626.3 1291.2,635.8 1291.5,633.7 1291.8,640.9 1292.2,636.1 1292.5,637.7 1292.8,633.9 1293.2,632.9 1293.5,634.4 1293.8,633.3 1294.2,630.8 1294.5,632.5 1294.8,630.9 1295.2,630.0 1295.5,632.7 1295.8,633.6 1296.2,635.3 1296.5,631.0 1296.8,634.5 1297.2,635.5 1297.5,633.8 1297.8,628.6 1298.2,619.5 1298.5,611.7 1298.8,612.7 1299.2,610.9 1299.5,600.3 1299.8,600.8 1300.2,608.4 1300.5,614.1 1300.8,612.6 1301.2,615.8 1301.5,624.9 1301.8,631.9 1302.2,630.5 1302.5,627.9 1302.8,634.3 1303.2,632.3 1303.5,636.5 1303.8,636.1 1304.2,633.5 1304.5,639.2 1304.8,639.1 1305.2,639.0 1305.5,641.1 1305.8,639.9 1306.2,637.7 1306.5,638.6 1306.8,640.6 1307.2,635.4 1307.5,638.4 1307.8,636.1 1308.2,632.0 1308.5,620.4 1308.8,613.1 1309.2,618.8 1309.5,612.1 1309.8,606.8 1310.2,603.2 1310.5,604.3 1310.8,603.9 1311.2,608.0 1311.5,613.2 1311.8,612.4 1312.2,621.9 1312.5,623.2 1312.8,628.3 1313.2,629.4 1313.5,632.0 1313.8,633.1 1314.2,635.0 1314.5,634.2 1314.8,636.0 1315.2,639.8 1315.5,636.1 1315.8,638.4 1316.2,635.0 1316.5,636.1 1316.8,640.6 1317.2,636.2 1317.5,642.9 1317.8,638.4 1318.2,640.7 1318.5,641.8 1318.8,641.8 1319.2,640.7 1319.5,640.7 1319.8,642.9 1320.2,639.6 1320.5,636.2 1320.8,639.6 1321.2,638.5 1321.5,638.5 1321.8,637.4 1322.2,640.7 1322.5,638.5 1322.8,637.4 1323.2,636.3 1323.5,635.1 1323.8,636.3 1324.2,644.1 1324.5,636.3 1324.8,637.4 1325.2,643.0 1325.5,641.9 1325.8,643.0 1326.2,638.6 1326.5,637.4 1326.8,639.7 1327.2,638.6 1327.5,637.5 1327.8,633.0 1328.2,634.1 1328.5,642.0 1328.8,636.4 1329.2,639.7 1329.5,638.6 1329.8,640.9 1330.2,640.9 1330.5,637.5 1330.8,637.5 1331.2,637.5 1331.5,643.1 1331.8,642.0 1332.2,637.5 1332.5,636.4 1332.8,636.4 1333.2,640.9 1333.5,636.4" stroke="#0000ff" stroke-width="1" fill="none" stroke-linejoin="round"/><rect x="1064.75" y="560.20" width="269.0" height="87.0" stroke="#8a8a8a" stroke-width="1.7" fill="none"/><text x="1061.1" y="652.1" text-anchor="end" class="tx">0</text><text x="1061.1" y="634.8" text-anchor="end" class="tx">10</text><text x="1061.1" y="617.4" text-anchor="end" class="tx">20</text><text x="1061.1" y="600.1" text-anchor="end" class="tx">30</text><text x="1061.1" y="582.7" text-anchor="end" class="tx">40</text><text x="1061.1" y="565.4" text-anchor="end" class="tx">50</text><text x="1089.5" y="661.0" text-anchor="middle" class="tx">20000</text><text x="1133.2" y="661.0" text-anchor="middle" class="tx">21000</text><text x="1176.8" y="661.0" text-anchor="middle" class="tx">22000</text><text x="1220.5" y="661.0" text-anchor="middle" class="tx">23000</text><text x="1264.2" y="661.0" text-anchor="middle" class="tx">24000</text><text x="1307.9" y="661.0" text-anchor="middle" class="tx">25000</text><rect x="1241.7" y="568.6" width="13.5" height="10.6" fill="#fff" stroke="#cccccc" stroke-width="1"/><rect x="1243.0" y="570.0" width="11" height="8" fill="#0000ff"/><text x="1259.1" y="578.0" class="tx" fill="#7d7d7d" style="fill:#7d7d7d;letter-spacing:0.64px">aida12 1.8.L</text><path d="M1333.2 551.1L1343.0 560.9L1333.2 570.7L1323.4 560.9z" fill="#ff0000"/><path d="M137.2 682.4V769.1M180.9 682.4V769.1M224.5 682.4V769.1M268.2 682.4V769.1M311.9 682.4V769.1M355.6 682.4V769.1M112.5 751.8H381.5M112.5 734.4H381.5M112.5 717.1H381.5M112.5 699.7H381.5" stroke="#ebebeb" stroke-width="1" fill="none"/><polyline clip-path="url(#cp6)" points="112.5,768.7 112.8,768.7 113.2,768.7 113.5,768.7 113.8,768.7 114.2,768.7 114.5,768.7 114.8,768.7 115.2,768.7 115.5,768.7 115.8,768.7 116.2,768.7 116.5,768.7 116.8,768.7 117.2,768.7 117.5,768.7 117.8,768.7 118.2,768.7 118.5,768.7 118.8,768.7 119.2,768.7 119.5,768.7 119.8,768.7 120.2,768.7 120.5,768.7 120.8,768.7 121.2,768.7 121.5,768.7 121.8,768.7 122.2,768.7 122.5,768.7 122.8,768.7 123.2,768.7 123.5,768.7 123.8,768.7 124.2,768.7 124.5,768.7 124.8,768.7 125.2,768.7 125.5,768.7 125.8,768.7 126.2,768.7 126.5,768.7 126.8,768.7 127.2,768.7 127.5,768.7 127.8,768.7 128.2,768.7 128.5,768.7 128.8,768.7 129.2,768.7 129.5,768.7 129.8,768.7 130.2,768.7 130.5,768.7 130.8,768.7 131.2,768.7 131.5,768.7 131.8,768.7 132.2,768.7 132.5,768.7 132.8,768.7 133.2,768.7 133.5,768.7 133.8,768.7 134.2,768.7 134.5,768.7 134.8,768.7 135.2,768.7 135.5,768.7 135.8,768.7 136.2,768.7 136.5,768.7 136.8,768.7 137.2,768.7 137.5,768.7 137.8,768.7 138.2,768.7 138.5,768.7 138.8,768.7 139.2,768.7 139.5,768.7 139.8,768.7 140.2,768.7 140.5,768.7 140.8,768.7 141.2,768.7 141.5,768.7 141.8,768.7 142.2,768.7 142.5,768.7 142.8,768.7 143.2,768.7 143.5,768.7 143.8,768.7 144.2,768.7 144.5,768.7 144.8,768.7 145.2,768.7 145.5,768.7 145.8,768.7 146.2,768.7 146.5,768.7 146.8,768.7 147.2,768.7 147.5,768.7 147.8,768.7 148.2,768.7 148.5,768.7 148.8,768.7 149.2,768.7 149.5,768.7 149.8,768.7 150.2,768.7 150.5,768.7 150.8,768.7 151.2,768.7 151.5,768.7 151.8,768.7 152.2,768.7 152.5,768.7 152.8,768.7 153.2,768.7 153.5,768.7 153.8,768.7 154.2,768.7 154.5,768.7 154.8,768.7 155.2,768.7 155.5,768.7 155.8,768.7 156.2,768.7 156.5,768.7 156.8,768.7 157.2,768.7 157.5,768.7 157.8,768.7 158.2,768.7 158.5,768.7 158.8,768.7 159.2,768.7 159.5,768.7 159.8,768.7 160.2,768.7 160.5,768.7 160.8,768.7 161.2,768.7 161.5,768.7 161.8,768.7 162.2,768.7 162.5,768.7 162.8,768.7 163.2,768.7 163.5,768.7 163.8,768.7 164.2,768.7 164.5,768.7 164.8,768.7 165.2,768.7 165.5,768.7 165.8,768.7 166.2,768.7 166.5,768.7 166.8,768.7 167.2,768.7 167.5,768.7 167.8,768.7 168.2,768.7 168.5,768.7 168.8,768.7 169.2,768.7 169.5,768.7 169.8,768.7 170.2,768.7 170.5,768.7 170.8,768.7 171.2,768.7 171.5,768.7 171.8,768.7 172.2,768.7 172.5,768.7 172.8,768.7 173.2,768.7 173.5,768.7 173.8,768.7 174.2,768.7 174.5,768.7 174.8,768.7 175.2,768.7 175.5,768.7 175.8,768.7 176.2,768.7 176.5,768.7 176.8,768.7 177.2,768.7 177.5,768.7 177.8,768.7 178.2,768.7 178.5,768.7 178.8,768.7 179.2,768.7 179.5,768.7 179.8,768.7 180.2,768.7 180.5,768.7 180.8,768.7 181.2,768.7 181.5,768.7 181.8,768.7 182.2,768.7 182.5,768.7 182.8,768.7 183.2,768.7 183.5,768.7 183.8,768.7 184.2,768.7 184.5,768.7 184.8,768.7 185.2,768.7 185.5,768.7 185.8,768.7 186.2,768.7 186.5,768.7 186.8,768.7 187.2,768.7 187.5,768.7 187.8,768.7 188.2,768.7 188.5,768.7 188.8,768.7 189.2,768.7 189.5,768.7 189.8,768.7 190.2,768.7 190.5,768.7 190.8,768.7 191.2,768.7 191.5,768.7 191.8,768.7 192.2,768.7 192.5,768.7 192.8,768.7 193.2,768.7 193.5,768.7 193.8,768.7 194.2,767.5 194.5,768.6 194.8,768.6 195.2,768.6 195.5,768.5 195.8,768.5 196.2,768.5 196.5,768.5 196.8,768.4 197.2,766.2 197.5,767.3 197.8,768.4 198.2,768.3 198.5,768.3 198.8,767.2 199.2,768.3 199.5,766.0 199.8,768.2 200.2,768.2 200.5,768.1 200.8,765.9 201.2,765.9 201.5,768.1 201.8,768.0 202.2,765.8 202.5,765.7 202.8,768.0 203.2,767.9 203.5,766.8 203.8,765.6 204.2,767.8 204.5,767.8 204.8,765.5 205.2,761.0 205.5,763.2 205.8,763.1 206.2,764.2 206.5,766.4 206.8,765.2 207.2,764.0 207.5,763.9 207.8,766.1 208.2,761.6 208.5,762.6 208.8,766.0 209.2,763.7 209.5,762.5 209.8,763.5 210.2,763.5 210.5,763.4 210.8,758.9 211.2,763.3 211.5,765.5 211.8,762.1 212.2,759.8 212.5,761.9 212.8,760.8 213.2,760.7 213.5,757.3 213.8,759.5 214.2,759.4 214.5,759.3 214.8,762.6 215.2,759.2 215.5,763.6 215.8,764.7 216.2,763.5 216.5,757.9 216.8,762.2 217.2,763.1 217.5,759.8 217.8,764.0 218.2,758.6 218.5,758.5 218.8,756.4 219.2,761.4 219.5,757.3 219.8,760.2 220.2,761.1 220.5,757.1 220.8,756.0 221.2,756.9 221.5,757.8 221.8,758.6 222.2,758.5 222.5,758.4 222.8,755.5 223.2,756.4 223.5,753.5 223.8,758.6 224.2,751.8 224.5,751.9 224.8,750.4 225.2,745.9 225.5,751.6 225.8,747.8 226.2,748.2 226.5,742.7 226.8,741.0 227.2,742.2 227.5,737.8 227.8,738.1 228.2,738.5 228.5,730.2 228.8,724.3 229.2,718.0 229.5,717.4 229.8,709.6 230.2,705.4 230.5,707.1 230.8,694.1 231.2,695.0 231.5,690.4 231.8,689.4 232.2,685.2 232.5,685.5 232.8,665.1 233.2,665.1 233.5,665.1 233.8,665.1 234.2,665.1 234.5,665.1 234.8,665.1 235.2,665.1 235.5,665.1 235.8,665.1 236.2,665.1 236.5,665.1 236.8,665.1 237.2,665.1 237.5,665.1 237.8,665.1 238.2,665.1 238.5,665.1 238.8,665.1 239.2,665.1 239.5,665.1 239.8,665.1 240.2,665.1 240.5,665.1 240.8,665.1 241.2,665.1 241.5,665.1 241.8,665.1 242.2,665.1 242.5,665.1 242.8,665.1 243.2,665.1 243.5,665.1 243.8,665.1 244.2,665.1 244.5,665.1 244.8,665.1 245.2,665.1 245.5,665.1 245.8,665.1 246.2,665.1 246.5,665.1 246.8,665.1 247.2,665.1 247.5,665.1 247.8,665.1 248.2,665.1 248.5,665.1 248.8,665.1 249.2,665.1 249.5,665.1 249.8,665.1 250.2,665.1 250.5,665.1 250.8,665.1 251.2,665.1 251.5,665.1 251.8,665.1 252.2,665.1 252.5,665.1 252.8,665.1 253.2,665.1 253.5,665.1 253.8,665.1 254.2,665.1 254.5,665.1 254.8,665.1 255.2,665.1 255.5,665.1 255.8,665.1 256.2,665.1 256.5,665.1 256.8,665.1 257.2,665.1 257.5,665.1 257.8,665.1 258.2,665.1 258.5,665.1 258.8,665.1 259.2,665.1 259.5,665.1 259.8,665.1 260.2,665.1 260.5,665.1 260.8,665.1 261.2,665.1 261.5,665.1 261.8,690.7 262.2,691.4 262.5,706.3 262.8,709.8 263.2,720.2 263.5,724.5 263.8,724.9 264.2,730.2 264.5,736.6 264.8,735.7 265.2,740.6 265.5,737.3 265.8,739.7 266.2,747.5 266.5,753.0 266.8,747.3 267.2,749.7 267.5,747.1 267.8,749.6 268.2,753.6 268.5,753.9 268.8,751.1 269.2,752.9 269.5,749.3 269.8,755.1 270.2,752.9 270.5,755.6 270.8,751.6 271.2,756.7 271.5,756.0 271.8,757.0 272.2,751.1 272.5,750.4 272.8,751.3 273.2,755.7 273.5,753.2 273.8,757.7 274.2,752.5 274.5,759.7 274.8,760.8 275.2,760.0 275.5,758.3 275.8,757.5 276.2,754.8 276.5,753.0 276.8,759.7 277.2,757.9 277.5,757.0 277.8,755.1 278.2,756.1 278.5,757.1 278.8,759.1 279.2,755.2 279.5,761.2 279.8,756.2 280.2,760.3 280.5,759.3 280.8,758.3 281.2,761.4 281.5,755.4 281.8,760.5 282.2,756.4 282.5,757.5 282.8,758.6 283.2,757.5 283.5,757.6 283.8,763.9 284.2,762.9 284.5,760.8 284.8,757.7 285.2,762.0 285.5,764.2 285.8,761.0 286.2,759.9 286.5,762.1 286.8,764.4 287.2,762.2 287.5,761.2 287.8,763.4 288.2,761.2 288.5,764.6 288.8,756.8 289.2,762.4 289.5,762.4 289.8,755.7 290.2,754.6 290.5,764.7 290.8,753.5 291.2,761.3 291.5,758.0 291.8,759.1 292.2,763.6 292.5,761.4 292.8,763.7 293.2,761.4 293.5,760.3 293.8,757.0 294.2,760.3 294.5,762.6 294.8,763.7 295.2,759.3 295.5,762.6 295.8,760.4 296.2,761.5 296.5,761.6 296.8,758.2 297.2,757.1 297.5,758.2 297.8,763.9 298.2,761.6 298.5,761.6 298.8,758.3 299.2,761.7 299.5,756.1 299.8,765.0 300.2,757.2 300.5,762.8 300.8,758.3 301.2,762.8 301.5,761.7 301.8,765.1 302.2,761.7 302.5,759.4 302.8,758.3 303.2,761.7 303.5,762.8 303.8,757.2 304.2,765.1 304.5,760.6 304.8,759.5 305.2,761.7 305.5,763.9 305.8,759.5 306.2,757.2 306.5,764.0 306.8,761.7 307.2,762.8 307.5,760.6 307.8,765.1 308.2,758.4 308.5,759.5 308.8,765.1 309.2,757.2 309.5,761.7 309.8,762.9 310.2,761.7 310.5,758.4 310.8,761.7 311.2,756.1 311.5,755.0 311.8,764.0 312.2,762.9 312.5,760.6 312.8,766.2 313.2,758.4 313.5,760.6 313.8,760.6 314.2,760.6 314.5,759.5 314.8,760.6 315.2,760.6 315.5,762.9 315.8,760.6 316.2,755.0 316.5,762.9 316.8,762.9 317.2,764.0 317.5,762.9 317.8,756.2 318.2,761.8 318.5,762.9 318.8,765.1 319.2,760.7 319.5,759.5 319.8,761.8 320.2,762.9 320.5,759.5 320.8,757.3 321.2,759.5 321.5,762.9 321.8,758.4 322.2,765.2 322.5,761.8 322.8,761.8 323.2,756.2 323.5,755.1 323.8,764.0 324.2,758.4 324.5,759.6 324.8,761.8 325.2,760.7 325.5,762.9 325.8,762.9 326.2,760.7 326.5,762.9 326.8,765.2 327.2,761.8 327.5,758.5 327.8,764.1 328.2,758.5 328.5,761.8 328.8,760.7 329.2,766.3 329.5,763.0 329.8,764.1 330.2,761.8 330.5,761.8 330.8,760.7 331.2,760.7 331.5,759.6 331.8,761.8 332.2,763.0 332.5,763.0 332.8,760.7 333.2,761.8 333.5,763.0 333.8,763.0 334.2,763.0 334.5,758.5 334.8,759.6 335.2,760.7 335.5,766.3 335.8,763.0 336.2,760.7 336.5,763.0 336.8,765.2 337.2,763.0 337.5,764.1 337.8,763.0 338.2,763.0 338.5,763.0 338.8,760.8 339.2,761.9 339.5,763.0 339.8,761.9 340.2,763.0 340.5,760.8 340.8,760.8 341.2,764.1 341.5,764.1 341.8,760.8 342.2,763.0 342.5,761.9 342.8,756.3 343.2,765.3 343.5,765.3 343.8,764.1 344.2,759.7 344.5,760.8 344.8,765.3 345.2,764.2 345.5,759.7 345.8,761.9 346.2,760.8 346.5,763.0 346.8,764.2 347.2,759.7 347.5,764.2 347.8,760.8 348.2,759.7 348.5,760.8 348.8,764.2 349.2,764.2 349.5,764.2 349.8,760.8 350.2,761.9 350.5,759.7 350.8,763.1 351.2,758.6 351.5,763.1 351.8,764.2 352.2,758.6 352.5,764.2 352.8,764.2 353.2,764.2 353.5,762.0 353.8,765.3 354.2,765.3 354.5,763.1 354.8,763.1 355.2,760.8 355.5,762.0 355.8,765.3 356.2,759.7 356.5,764.2 356.8,760.8 357.2,760.9 357.5,760.9 357.8,758.6 358.2,759.7 358.5,760.9 358.8,765.3 359.2,764.2 359.5,760.9 359.8,760.9 360.2,763.1 360.5,762.0 360.8,762.0 361.2,764.2 361.5,763.1 361.8,759.8 362.2,764.2 362.5,764.2 362.8,760.9 363.2,762.0 363.5,760.9 363.8,766.5 364.2,763.1 364.5,765.4 364.8,763.1 365.2,765.4 365.5,764.3 365.8,765.4 366.2,757.5 366.5,762.0 366.8,763.1 367.2,763.1 367.5,764.3 367.8,760.9 368.2,759.8 368.5,760.9 368.8,765.4 369.2,763.2 369.5,766.5 369.8,759.8 370.2,762.0 370.5,762.0 370.8,759.8 371.2,765.4 371.5,758.7 371.8,760.9 372.2,762.0 372.5,756.4 372.8,760.9 373.2,764.3 373.5,760.9 373.8,766.5 374.2,758.7 374.5,760.9 374.8,760.9 375.2,763.2 375.5,763.2 375.8,758.7 376.2,757.6 376.5,765.4 376.8,763.2 377.2,759.8 377.5,764.3 377.8,765.4 378.2,765.4 378.5,762.1 378.8,765.4 379.2,764.3 379.5,764.3 379.8,762.1 380.2,761.0 380.5,764.3 380.8,762.1 381.2,764.3 381.5,763.2" stroke="#0000ff" stroke-width="1" fill="none" stroke-linejoin="round"/><rect x="112.75" y="682.20" width="269.0" height="87.0" stroke="#8a8a8a" stroke-width="1.7" fill="none"/><text x="109.1" y="774.1" text-anchor="end" class="tx">0</text><text x="109.1" y="756.8" text-anchor="end" class="tx">10</text><text x="109.1" y="739.4" text-anchor="end" class="tx">20</text><text x="109.1" y="722.1" text-anchor="end" class="tx">30</text><text x="109.1" y="704.7" text-anchor="end" class="tx">40</text><text x="109.1" y="687.4" text-anchor="end" class="tx">50</text><text x="137.5" y="783.0" text-anchor="middle" class="tx">20000</text><text x="181.2" y="783.0" text-anchor="middle" class="tx">21000</text><text x="224.8" y="783.0" text-anchor="middle" class="tx">22000</text><text x="268.5" y="783.0" text-anchor="middle" class="tx">23000</text><text x="312.2" y="783.0" text-anchor="middle" class="tx">24000</text><text x="355.9" y="783.0" text-anchor="middle" class="tx">25000</text><rect x="289.7" y="690.6" width="13.5" height="10.6" fill="#fff" stroke="#cccccc" stroke-width="1"/><rect x="291.0" y="692.0" width="11" height="8" fill="#0000ff"/><text x="307.1" y="700.0" class="tx" fill="#7d7d7d" style="fill:#7d7d7d;letter-spacing:0.64px">aida10 1.8.L</text><path d="M381.2 673.1L391.0 682.9L381.2 692.7L371.4 682.9z" fill="#ff0000"/><path d="M613.2 682.4V769.1M656.9 682.4V769.1M700.5 682.4V769.1M744.2 682.4V769.1M787.9 682.4V769.1M831.6 682.4V769.1M588.5 751.8H857.5M588.5 734.4H857.5M588.5 717.1H857.5M588.5 699.7H857.5" stroke="#ebebeb" stroke-width="1" fill="none"/><polyline clip-path="url(#cp7)" points="588.5,767.3 588.8,768.5 589.2,768.5 589.5,768.5 589.8,768.5 590.2,767.3 590.5,768.5 590.8,766.2 591.2,767.3 591.5,768.5 591.8,768.5 592.2,766.2 592.5,767.3 592.8,768.5 593.2,768.5 593.5,768.5 593.8,766.2 594.2,768.5 594.5,768.5 594.8,767.3 595.2,768.5 595.5,768.5 595.8,767.3 596.2,768.5 596.5,767.3 596.8,768.5 597.2,768.5 597.5,768.5 597.8,768.5 598.2,768.5 598.5,768.5 598.8,768.5 599.2,768.5 599.5,768.5 599.8,768.5 600.2,768.5 600.5,767.3 600.8,768.5 601.2,768.5 601.5,768.5 601.8,768.5 602.2,766.2 602.5,768.5 602.8,768.5 603.2,768.5 603.5,767.3 603.8,768.5 604.2,767.3 604.5,768.5 604.8,768.5 605.2,768.5 605.5,768.5 605.8,768.5 606.2,767.3 606.5,768.5 606.8,768.5 607.2,768.5 607.5,768.5 607.8,768.5 608.2,768.5 608.5,767.3 608.8,768.5 609.2,767.3 609.5,768.5 609.8,768.5 610.2,767.3 610.5,766.2 610.8,767.3 611.2,768.5 611.5,767.3 611.8,768.5 612.2,768.5 612.5,768.5 612.8,768.5 613.2,767.3 613.5,768.5 613.8,768.5 614.2,768.5 614.5,768.5 614.8,768.5 615.2,768.5 615.5,768.5 615.8,767.3 616.2,768.5 616.5,768.5 616.8,768.5 617.2,768.5 617.5,768.5 617.8,768.5 618.2,768.5 618.5,768.5 618.8,768.5 619.2,764.0 619.5,766.2 619.8,768.5 620.2,768.5 620.5,767.3 620.8,768.5 621.2,767.3 621.5,768.5 621.8,767.3 622.2,767.3 622.5,768.5 622.8,768.5 623.2,768.5 623.5,767.3 623.8,767.3 624.2,768.5 624.5,767.3 624.8,768.5 625.2,767.3 625.5,768.5 625.8,768.5 626.2,767.3 626.5,767.3 626.8,768.5 627.2,768.5 627.5,767.3 627.8,768.5 628.2,768.5 628.5,768.5 628.8,768.5 629.2,768.5 629.5,768.5 629.8,768.5 630.2,768.5 630.5,768.5 630.8,768.5 631.2,768.5 631.5,767.3 631.8,768.5 632.2,768.5 632.5,767.3 632.8,768.5 633.2,767.3 633.5,768.5 633.8,768.5 634.2,767.3 634.5,767.3 634.8,768.5 635.2,768.5 635.5,767.3 635.8,768.5 636.2,766.2 636.5,768.5 636.8,768.5 637.2,767.3 637.5,768.5 637.8,768.5 638.2,768.5 638.5,768.5 638.8,768.5 639.2,768.5 639.5,768.5 639.8,768.5 640.2,768.5 640.5,768.5 640.8,768.5 641.2,768.5 641.5,767.3 641.8,766.2 642.2,768.5 642.5,766.2 642.8,768.5 643.2,768.5 643.5,768.5 643.8,768.5 644.2,767.3 644.5,768.5 644.8,768.5 645.2,768.5 645.5,767.3 645.8,768.5 646.2,768.5 646.5,768.5 646.8,768.5 647.2,768.5 647.5,768.5 647.8,767.3 648.2,768.5 648.5,767.3 648.8,768.5 649.2,767.3 649.5,768.5 649.8,768.5 650.2,768.5 650.5,768.5 650.8,768.5 651.2,768.5 651.5,768.5 651.8,768.5 652.2,768.5 652.5,767.3 652.8,767.3 653.2,768.5 653.5,768.5 653.8,767.3 654.2,766.2 654.5,768.5 654.8,768.5 655.2,768.5 655.5,767.3 655.8,767.3 656.2,768.5 656.5,767.3 656.8,768.5 657.2,768.5 657.5,768.5 657.8,768.5 658.2,767.3 658.5,767.3 658.8,767.1 659.2,766.8 659.5,765.4 659.8,764.0 660.2,763.8 660.5,767.2 660.8,762.7 661.2,762.7 661.5,767.2 661.8,762.7 662.2,766.1 662.5,764.9 662.8,762.7 663.2,767.2 663.5,761.6 663.8,767.2 664.2,763.8 664.5,762.7 664.8,764.9 665.2,763.8 665.5,764.9 665.8,763.8 666.2,764.9 666.5,759.3 666.8,763.8 667.2,764.9 667.5,764.9 667.8,764.9 668.2,764.9 668.5,766.1 668.8,764.9 669.2,766.1 669.5,764.9 669.8,761.6 670.2,763.8 670.5,764.9 670.8,763.8 671.2,760.5 671.5,766.1 671.8,762.7 672.2,764.9 672.5,766.1 672.8,761.6 673.2,764.9 673.5,761.6 673.8,764.9 674.2,761.6 674.5,759.3 674.8,763.8 675.2,764.9 675.5,764.9 675.8,767.2 676.2,766.1 676.5,763.8 676.8,766.1 677.2,763.8 677.5,760.5 677.8,764.9 678.2,764.9 678.5,763.8 678.8,763.8 679.2,766.1 679.5,766.1 679.8,762.7 680.2,766.1 680.5,764.9 680.8,764.9 681.2,764.9 681.5,763.8 681.8,764.9 682.2,761.6 682.5,764.9 682.8,763.8 683.2,767.2 683.5,766.1 683.8,763.8 684.2,763.8 684.5,761.6 684.8,762.7 685.2,764.9 685.5,766.1 685.8,760.5 686.2,763.8 686.5,764.9 686.8,766.1 687.2,767.2 687.5,764.9 687.8,762.7 688.2,763.8 688.5,764.9 688.8,764.7 689.2,761.2 689.5,765.5 689.8,759.7 690.2,763.9 690.5,761.5 690.8,762.4 691.2,759.8 691.5,756.2 691.8,752.9 692.2,755.9 692.5,753.5 692.8,749.6 693.2,749.7 693.5,752.7 693.8,751.7 694.2,742.4 694.5,742.0 694.8,738.2 695.2,736.8 695.5,732.0 695.8,728.3 696.2,720.1 696.5,718.0 696.8,714.7 697.2,702.6 697.5,698.8 697.8,696.6 698.2,688.4 698.5,665.1 698.8,665.1 699.2,665.1 699.5,665.1 699.8,665.1 700.2,665.1 700.5,665.1 700.8,665.1 701.2,665.1 701.5,665.1 701.8,665.1 702.2,665.1 702.5,665.1 702.8,665.1 703.2,665.1 703.5,665.1 703.8,665.1 704.2,665.1 704.5,665.1 704.8,665.1 705.2,665.1 705.5,665.1 705.8,665.1 706.2,665.1 706.5,665.1 706.8,665.1 707.2,665.1 707.5,665.1 707.8,665.1 708.2,665.1 708.5,665.1 708.8,665.1 709.2,665.1 709.5,665.1 709.8,665.1 710.2,665.1 710.5,665.1 710.8,665.1 711.2,665.1 711.5,665.1 711.8,665.1 712.2,665.1 712.5,665.1 712.8,665.1 713.2,665.1 713.5,693.4 713.8,711.7 714.2,721.6 714.5,734.9 714.8,738.3 715.2,746.2 715.5,747.2 715.8,752.3 716.2,757.5 716.5,759.2 716.8,759.9 717.2,762.7 717.5,764.1 717.8,765.2 718.2,765.2 718.5,760.7 718.8,763.0 719.2,758.5 719.5,760.8 719.8,761.9 720.2,760.8 720.5,764.2 720.8,762.0 721.2,762.0 721.5,760.9 721.8,762.0 722.2,762.1 722.5,761.0 722.8,762.1 723.2,761.0 723.5,766.6 723.8,759.9 724.2,761.0 724.5,762.2 724.8,765.6 725.2,765.6 725.5,765.6 725.8,760.0 726.2,758.9 726.5,765.7 726.8,761.2 727.2,764.6 727.5,763.5 727.8,760.1 728.2,766.9 728.5,763.5 728.8,765.8 729.2,762.4 729.5,763.5 729.8,764.7 730.2,764.7 730.5,764.7 730.8,766.9 731.2,765.8 731.5,762.4 731.8,764.7 732.2,764.7 732.5,760.2 732.8,762.4 733.2,763.5 733.5,764.7 733.8,761.3 734.2,762.4 734.5,763.6 734.8,766.9 735.2,766.9 735.5,764.7 735.8,765.8 736.2,762.4 736.5,761.3 736.8,765.8 737.2,763.6 737.5,761.3 737.8,764.7 738.2,765.8 738.5,764.7 738.8,765.8 739.2,765.8 739.5,763.6 739.8,766.9 740.2,764.7 740.5,762.5 740.8,765.8 741.2,764.7 741.5,764.7 741.8,764.7 742.2,765.8 742.5,764.7 742.8,760.2 743.2,763.6 743.5,764.7 743.8,761.4 744.2,763.6 744.5,765.8 744.8,764.7 745.2,763.6 745.5,764.7 745.8,764.7 746.2,764.7 746.5,760.2 746.8,765.9 747.2,764.7 747.5,764.7 747.8,765.9 748.2,764.7 748.5,763.6 748.8,760.3 749.2,764.7 749.5,763.6 749.8,764.7 750.2,761.4 750.5,764.7 750.8,762.5 751.2,759.1 751.5,760.3 751.8,762.5 752.2,763.6 752.5,761.4 752.8,764.8 753.2,762.5 753.5,764.8 753.8,763.6 754.2,762.5 754.5,761.4 754.8,764.8 755.2,763.6 755.5,762.5 755.8,763.7 756.2,765.9 756.5,765.9 756.8,762.5 757.2,760.3 757.5,761.4 757.8,764.8 758.2,763.7 758.5,764.8 758.8,760.3 759.2,761.4 759.5,764.8 759.8,765.9 760.2,767.0 760.5,764.8 760.8,763.7 761.2,763.7 761.5,765.9 761.8,764.8 762.2,764.8 762.5,765.9 762.8,763.7 763.2,763.7 763.5,762.6 763.8,763.7 764.2,761.4 764.5,763.7 764.8,760.3 765.2,765.9 765.5,762.6 765.8,767.1 766.2,761.5 766.5,767.1 766.8,765.9 767.2,763.7 767.5,765.9 767.8,765.9 768.2,764.8 768.5,763.7 768.8,766.0 769.2,764.8 769.5,763.7 769.8,762.6 770.2,766.0 770.5,766.0 770.8,764.8 771.2,764.8 771.5,766.0 771.8,763.7 772.2,766.0 772.5,762.6 772.8,764.9 773.2,763.7 773.5,759.2 773.8,761.5 774.2,763.7 774.5,763.7 774.8,764.9 775.2,766.0 775.5,766.0 775.8,766.0 776.2,761.5 776.5,764.9 776.8,764.9 777.2,764.9 777.5,767.1 777.8,764.9 778.2,764.9 778.5,764.9 778.8,764.9 779.2,766.0 779.5,764.9 779.8,762.6 780.2,766.0 780.5,763.8 780.8,764.9 781.2,761.5 781.5,764.9 781.8,767.1 782.2,766.0 782.5,763.8 782.8,764.9 783.2,764.9 783.5,764.9 783.8,766.0 784.2,761.5 784.5,763.8 784.8,764.9 785.2,764.9 785.5,764.9 785.8,763.8 786.2,764.9 786.5,763.8 786.8,760.4 787.2,762.7 787.5,764.9 787.8,761.6 788.2,763.8 788.5,763.8 788.8,763.8 789.2,763.8 789.5,764.9 789.8,766.1 790.2,763.8 790.5,766.1 790.8,766.1 791.2,767.2 791.5,763.8 791.8,762.7 792.2,761.6 792.5,764.9 792.8,763.8 793.2,766.1 793.5,764.9 793.8,767.2 794.2,766.1 794.5,762.7 794.8,763.8 795.2,766.1 795.5,766.1 795.8,765.0 796.2,766.1 796.5,765.0 796.8,766.1 797.2,765.0 797.5,761.6 797.8,765.0 798.2,765.0 798.5,763.8 798.8,765.0 799.2,761.6 799.5,763.9 799.8,765.0 800.2,765.0 800.5,762.7 800.8,766.1 801.2,765.0 801.5,763.9 801.8,765.0 802.2,765.0 802.5,761.6 802.8,767.2 803.2,766.1 803.5,765.0 803.8,763.9 804.2,766.1 804.5,766.1 804.8,761.6 805.2,765.0 805.5,765.0 805.8,762.8 806.2,766.1 806.5,760.5 806.8,765.0 807.2,765.0 807.5,766.1 807.8,763.9 808.2,763.9 808.5,767.3 808.8,762.8 809.2,765.0 809.5,766.1 809.8,762.8 810.2,761.7 810.5,766.1 810.8,767.3 811.2,765.0 811.5,762.8 811.8,762.8 812.2,761.7 812.5,765.0 812.8,766.2 813.2,763.9 813.5,762.8 813.8,766.2 814.2,767.3 814.5,762.8 814.8,763.9 815.2,765.0 815.5,761.7 815.8,759.4 816.2,765.1 816.5,763.9 816.8,761.7 817.2,763.9 817.5,763.9 817.8,767.3 818.2,766.2 818.5,766.2 818.8,767.3 819.2,765.1 819.5,765.1 819.8,763.9 820.2,762.8 820.5,766.2 820.8,765.1 821.2,766.2 821.5,767.3 821.8,762.8 822.2,764.0 822.5,760.6 822.8,764.0 823.2,761.7 823.5,766.2 823.8,761.7 824.2,762.8 824.5,764.0 824.8,767.3 825.2,764.0 825.5,762.9 825.8,766.2 826.2,762.9 826.5,765.1 826.8,765.1 827.2,766.2 827.5,761.7 827.8,766.2 828.2,762.9 828.5,765.1 828.8,766.2 829.2,767.4 829.5,767.4 829.8,767.4 830.2,761.8 830.5,762.9 830.8,759.5 831.2,765.1 831.5,766.2 831.8,766.2 832.2,766.3 832.5,767.4 832.8,765.1 833.2,762.9 833.5,762.9 833.8,766.3 834.2,765.1 834.5,766.3 834.8,760.7 835.2,765.1 835.5,766.3 835.8,767.4 836.2,765.1 836.5,764.0 836.8,767.4 837.2,766.3 837.5,765.2 837.8,764.0 838.2,767.4 838.5,767.4 838.8,761.8 839.2,761.8 839.5,766.3 839.8,764.0 840.2,762.9 840.5,762.9 840.8,765.2 841.2,765.2 841.5,765.2 841.8,766.3 842.2,766.3 842.5,767.4 842.8,764.1 843.2,766.3 843.5,765.2 843.8,766.3 844.2,764.1 844.5,765.2 844.8,766.3 845.2,765.2 845.5,764.1 845.8,764.1 846.2,763.0 846.5,765.2 846.8,766.3 847.2,766.3 847.5,765.2 847.8,759.6 848.2,767.4 848.5,764.1 848.8,765.2 849.2,766.3 849.5,763.0 849.8,763.0 850.2,763.0 850.5,766.3 850.8,766.3 851.2,767.5 851.5,764.1 851.8,763.0 852.2,764.1 852.5,766.3 852.8,767.5 853.2,765.2 853.5,763.0 853.8,764.1 854.2,767.5 854.5,764.1 854.8,767.5 855.2,765.2 855.5,764.1 855.8,765.2 856.2,764.1 856.5,765.2 856.8,764.1 857.2,764.1 857.5,765.2" stroke="#0000ff" stroke-width="1" fill="none" stroke-linejoin="round"/><rect x="588.75" y="682.20" width="269.0" height="87.0" stroke="#8a8a8a" stroke-width="1.7" fill="none"/><text x="585.1" y="774.1" text-anchor="end" class="tx">0</text><text x="585.1" y="756.8" text-anchor="end" class="tx">10</text><text x="585.1" y="739.4" text-anchor="end" class="tx">20</text><text x="585.1" y="722.1" text-anchor="end" class="tx">30</text><text x="585.1" y="704.7" text-anchor="end" class="tx">40</text><text x="585.1" y="687.4" text-anchor="end" class="tx">50</text><text x="613.5" y="783.0" text-anchor="middle" class="tx">20000</text><text x="657.2" y="783.0" text-anchor="middle" class="tx">21000</text><text x="700.8" y="783.0" text-anchor="middle" class="tx">22000</text><text x="744.5" y="783.0" text-anchor="middle" class="tx">23000</text><text x="788.2" y="783.0" text-anchor="middle" class="tx">24000</text><text x="831.9" y="783.0" text-anchor="middle" class="tx">25000</text><rect x="765.7" y="690.6" width="13.5" height="10.6" fill="#fff" stroke="#cccccc" stroke-width="1"/><rect x="767.0" y="692.0" width="11" height="8" fill="#0000ff"/><text x="783.1" y="700.0" class="tx" fill="#7d7d7d" style="fill:#7d7d7d;letter-spacing:0.64px">aida14 1.8.L</text><path d="M857.2 673.1L867.0 682.9L857.2 692.7L847.4 682.9z" fill="#ff0000"/><path d="M1089.2 682.4V769.1M1132.9 682.4V769.1M1176.5 682.4V769.1M1220.2 682.4V769.1M1263.9 682.4V769.1M1307.6 682.4V769.1M1064.5 751.8H1333.5M1064.5 734.4H1333.5M1064.5 717.1H1333.5M1064.5 699.7H1333.5" stroke="#ebebeb" stroke-width="1" fill="none"/><polyline clip-path="url(#cp8)" points="1064.5,768.5 1064.8,768.5 1065.2,768.5 1065.5,767.4 1065.8,767.4 1066.2,768.5 1066.5,768.5 1066.8,768.5 1067.2,768.5 1067.5,765.1 1067.8,767.4 1068.2,768.5 1068.5,768.5 1068.8,767.4 1069.2,767.4 1069.5,767.4 1069.8,768.5 1070.2,768.5 1070.5,768.5 1070.8,768.5 1071.2,768.5 1071.5,768.5 1071.8,767.4 1072.2,768.5 1072.5,767.4 1072.8,768.5 1073.2,768.5 1073.5,768.5 1073.8,768.5 1074.2,768.5 1074.5,768.5 1074.8,768.5 1075.2,768.5 1075.5,768.5 1075.8,768.5 1076.2,768.5 1076.5,768.5 1076.8,767.4 1077.2,768.5 1077.5,768.5 1077.8,768.5 1078.2,768.5 1078.5,768.5 1078.8,768.5 1079.2,768.5 1079.5,768.5 1079.8,768.5 1080.2,768.5 1080.5,767.4 1080.8,766.2 1081.2,767.4 1081.5,767.4 1081.8,768.5 1082.2,768.5 1082.5,767.4 1082.8,768.5 1083.2,765.1 1083.5,767.4 1083.8,768.5 1084.2,767.4 1084.5,768.5 1084.8,767.4 1085.2,768.5 1085.5,767.4 1085.8,768.5 1086.2,768.5 1086.5,766.2 1086.8,767.4 1087.2,768.5 1087.5,768.5 1087.8,768.5 1088.2,768.5 1088.5,768.5 1088.8,767.4 1089.2,768.5 1089.5,767.4 1089.8,768.5 1090.2,767.4 1090.5,767.4 1090.8,768.5 1091.2,768.5 1091.5,767.4 1091.8,768.5 1092.2,768.5 1092.5,767.4 1092.8,768.5 1093.2,768.5 1093.5,767.3 1093.8,768.5 1094.2,768.5 1094.5,768.5 1094.8,768.5 1095.2,768.5 1095.5,768.5 1095.8,768.5 1096.2,767.3 1096.5,768.5 1096.8,767.3 1097.2,768.5 1097.5,767.3 1097.8,768.5 1098.2,768.5 1098.5,766.2 1098.8,768.5 1099.2,768.5 1099.5,767.3 1099.8,768.5 1100.2,768.5 1100.5,768.5 1100.8,768.5 1101.2,768.5 1101.5,768.5 1101.8,766.2 1102.2,767.3 1102.5,768.5 1102.8,767.3 1103.2,765.1 1103.5,768.5 1103.8,766.2 1104.2,768.5 1104.5,767.3 1104.8,768.5 1105.2,768.5 1105.5,767.3 1105.8,768.5 1106.2,768.5 1106.5,768.4 1106.8,768.4 1107.2,768.4 1107.5,765.1 1107.8,768.4 1108.2,768.4 1108.5,767.3 1108.8,767.3 1109.2,767.3 1109.5,768.4 1109.8,768.4 1110.2,768.4 1110.5,768.4 1110.8,768.4 1111.2,768.4 1111.5,768.4 1111.8,768.4 1112.2,768.4 1112.5,768.4 1112.8,768.4 1113.2,768.4 1113.5,768.4 1113.8,768.4 1114.2,767.3 1114.5,767.3 1114.8,767.3 1115.2,767.3 1115.5,768.4 1115.8,767.3 1116.2,768.4 1116.5,768.4 1116.8,768.4 1117.2,768.4 1117.5,768.4 1117.8,768.4 1118.2,767.3 1118.5,767.3 1118.8,768.4 1119.2,766.2 1119.5,767.3 1119.8,768.4 1120.2,768.4 1120.5,768.4 1120.8,768.4 1121.2,768.4 1121.5,767.3 1121.8,767.3 1122.2,768.4 1122.5,768.4 1122.8,767.3 1123.2,767.3 1123.5,768.4 1123.8,767.3 1124.2,768.4 1124.5,768.4 1124.8,768.4 1125.2,768.4 1125.5,767.3 1125.8,768.4 1126.2,767.3 1126.5,765.1 1126.8,768.4 1127.2,766.2 1127.5,767.3 1127.8,767.3 1128.2,768.4 1128.5,768.4 1128.8,767.3 1129.2,767.3 1129.5,768.4 1129.8,768.4 1130.2,766.2 1130.5,767.3 1130.8,766.2 1131.2,767.3 1131.5,768.4 1131.8,768.4 1132.2,767.3 1132.5,766.2 1132.8,768.4 1133.2,768.4 1133.5,768.4 1133.8,767.3 1134.2,767.3 1134.5,768.4 1134.8,767.3 1135.2,768.4 1135.5,766.2 1135.8,768.4 1136.2,768.4 1136.5,768.4 1136.8,768.4 1137.2,767.3 1137.5,768.4 1137.8,768.4 1138.2,768.4 1138.5,768.4 1138.8,767.3 1139.2,768.4 1139.5,768.4 1139.8,768.4 1140.2,768.4 1140.5,767.3 1140.8,768.4 1141.2,767.3 1141.5,768.4 1141.8,768.4 1142.2,767.3 1142.5,768.4 1142.8,767.3 1143.2,766.1 1143.5,768.4 1143.8,767.3 1144.2,768.4 1144.5,768.4 1144.8,767.3 1145.2,767.3 1145.5,768.4 1145.8,767.3 1146.2,768.4 1146.5,767.3 1146.8,768.4 1147.2,766.1 1147.5,767.3 1147.8,768.4 1148.2,767.3 1148.5,768.4 1148.8,768.4 1149.2,767.3 1149.5,768.4 1149.8,768.4 1150.2,767.3 1150.5,768.4 1150.8,767.3 1151.2,766.1 1151.5,768.4 1151.8,767.3 1152.2,768.4 1152.5,767.3 1152.8,767.3 1153.2,767.3 1153.5,768.4 1153.8,768.4 1154.2,768.4 1154.5,767.2 1154.8,767.2 1155.2,768.4 1155.5,768.4 1155.8,768.4 1156.2,766.1 1156.5,767.2 1156.8,768.4 1157.2,768.4 1157.5,768.4 1157.8,768.4 1158.2,768.4 1158.5,768.4 1158.8,768.4 1159.2,768.4 1159.5,767.2 1159.8,767.2 1160.2,768.4 1160.5,768.4 1160.8,768.4 1161.2,768.4 1161.5,768.4 1161.8,768.4 1162.2,767.2 1162.5,768.4 1162.8,766.1 1163.2,768.4 1163.5,766.1 1163.8,766.1 1164.2,768.4 1164.5,767.2 1164.8,768.4 1165.2,767.2 1165.5,766.1 1165.8,768.4 1166.2,766.1 1166.5,767.2 1166.8,768.4 1167.2,768.3 1167.5,767.2 1167.8,768.3 1168.2,768.3 1168.5,767.2 1168.8,768.3 1169.2,768.3 1169.5,767.2 1169.8,768.3 1170.2,768.3 1170.5,768.3 1170.8,768.3 1171.2,767.2 1171.5,767.2 1171.8,768.3 1172.2,767.2 1172.5,768.3 1172.8,767.2 1173.2,766.1 1173.5,768.3 1173.8,768.3 1174.2,768.3 1174.5,767.2 1174.8,768.2 1175.2,768.1 1175.5,764.7 1175.8,765.7 1176.2,763.4 1176.5,764.4 1176.8,767.7 1177.2,762.0 1177.5,763.0 1177.8,766.3 1178.2,765.0 1178.5,764.9 1178.8,762.5 1179.2,762.4 1179.5,764.6 1179.8,763.3 1180.2,762.1 1180.5,765.5 1180.8,759.9 1181.2,765.5 1181.5,761.0 1181.8,759.9 1182.2,762.1 1182.5,762.1 1182.8,763.2 1183.2,763.2 1183.5,758.7 1183.8,758.7 1184.2,759.9 1184.5,763.2 1184.8,762.1 1185.2,763.2 1185.5,766.6 1185.8,763.2 1186.2,755.4 1186.5,759.9 1186.8,764.4 1187.2,763.2 1187.5,761.0 1187.8,759.9 1188.2,762.2 1188.5,764.4 1188.8,764.4 1189.2,763.3 1189.5,762.2 1189.8,763.3 1190.2,764.5 1190.5,762.2 1190.8,764.5 1191.2,761.1 1191.5,764.5 1191.8,765.7 1192.2,758.9 1192.5,764.6 1192.8,763.5 1193.2,764.6 1193.5,765.7 1193.8,763.5 1194.2,763.5 1194.5,763.5 1194.8,760.2 1195.2,763.8 1195.5,765.0 1195.8,764.1 1196.2,766.5 1196.5,765.6 1196.8,767.8 1197.2,765.6 1197.5,766.7 1197.8,766.7 1198.2,765.6 1198.5,764.4 1198.8,765.6 1199.2,766.7 1199.5,765.6 1199.8,766.7 1200.2,765.6 1200.5,766.7 1200.8,765.6 1201.2,765.6 1201.5,763.3 1201.8,765.6 1202.2,765.6 1202.5,766.7 1202.8,765.6 1203.2,765.6 1203.5,764.4 1203.8,763.3 1204.2,766.7 1204.5,767.8 1204.8,765.5 1205.2,767.7 1205.5,765.4 1205.8,761.9 1206.2,767.5 1206.5,765.2 1206.8,766.2 1207.2,766.2 1207.5,765.0 1207.8,764.9 1208.2,764.9 1208.5,765.9 1208.8,764.8 1209.2,766.9 1209.5,763.5 1209.8,759.9 1210.2,760.7 1210.5,763.7 1210.8,761.2 1211.2,759.7 1211.5,761.4 1211.8,757.9 1212.2,756.6 1212.5,749.9 1212.8,752.2 1213.2,756.8 1213.5,751.4 1213.8,753.5 1214.2,751.3 1214.5,744.4 1214.8,740.3 1215.2,740.5 1215.5,730.9 1215.8,726.7 1216.2,710.9 1216.5,695.8 1216.8,687.5 1217.2,665.1 1217.5,665.1 1217.8,665.1 1218.2,665.1 1218.5,665.1 1218.8,665.1 1219.2,665.1 1219.5,665.1 1219.8,665.1 1220.2,665.1 1220.5,665.1 1220.8,665.1 1221.2,665.1 1221.5,665.1 1221.8,665.1 1222.2,665.1 1222.5,665.1 1222.8,665.1 1223.2,665.1 1223.5,665.1 1223.8,665.1 1224.2,665.1 1224.5,665.1 1224.8,665.1 1225.2,665.1 1225.5,665.1 1225.8,665.1 1226.2,665.1 1226.5,681.7 1226.8,705.7 1227.2,732.2 1227.5,750.7 1227.8,757.8 1228.2,764.4 1228.5,767.5 1228.8,766.4 1229.2,766.4 1229.5,766.4 1229.8,766.4 1230.2,765.3 1230.5,765.4 1230.8,766.5 1231.2,766.5 1231.5,767.6 1231.8,765.4 1232.2,765.4 1232.5,766.6 1232.8,766.6 1233.2,766.6 1233.5,765.5 1233.8,765.5 1234.2,765.5 1234.5,766.7 1234.8,766.7 1235.2,767.8 1235.5,763.3 1235.8,765.6 1236.2,765.6 1236.5,766.7 1236.8,766.7 1237.2,767.8 1237.5,763.3 1237.8,767.8 1238.2,765.6 1238.5,765.6 1238.8,767.8 1239.2,767.8 1239.5,765.6 1239.8,763.3 1240.2,766.7 1240.5,765.6 1240.8,765.6 1241.2,764.4 1241.5,763.3 1241.8,765.6 1242.2,765.6 1242.5,766.7 1242.8,765.6 1243.2,767.8 1243.5,767.8 1243.8,764.4 1244.2,766.7 1244.5,765.6 1244.8,764.4 1245.2,765.6 1245.5,767.8 1245.8,764.4 1246.2,766.7 1246.5,767.8 1246.8,765.6 1247.2,766.7 1247.5,764.4 1247.8,764.4 1248.2,767.8 1248.5,765.6 1248.8,765.6 1249.2,765.6 1249.5,767.8 1249.8,765.6 1250.2,766.7 1250.5,766.7 1250.8,765.6 1251.2,763.3 1251.5,765.6 1251.8,764.4 1252.2,767.8 1252.5,765.6 1252.8,765.4 1253.2,764.1 1253.5,766.2 1253.8,762.6 1254.2,763.6 1254.5,758.9 1254.8,762.1 1255.2,758.6 1255.5,761.8 1255.8,754.9 1256.2,755.9 1256.5,756.8 1256.8,757.9 1257.2,762.7 1257.5,761.8 1257.8,764.3 1258.2,763.4 1258.5,765.9 1258.8,763.9 1259.2,765.3 1259.5,767.8 1259.8,766.7 1260.2,766.7 1260.5,763.3 1260.8,765.5 1261.2,767.8 1261.5,766.6 1261.8,765.5 1262.2,767.8 1262.5,766.6 1262.8,767.8 1263.2,766.6 1263.5,766.6 1263.8,766.6 1264.2,767.7 1264.5,767.7 1264.8,766.6 1265.2,766.6 1265.5,767.7 1265.8,767.7 1266.2,764.3 1266.5,766.6 1266.8,764.3 1267.2,763.2 1267.5,765.5 1267.8,765.4 1268.2,763.2 1268.5,765.4 1268.8,766.6 1269.2,765.4 1269.5,765.4 1269.8,763.2 1270.2,766.5 1270.5,765.4 1270.8,765.4 1271.2,765.4 1271.5,762.0 1271.8,762.0 1272.2,766.5 1272.5,766.5 1272.8,766.5 1273.2,764.3 1273.5,767.6 1273.8,766.5 1274.2,767.6 1274.5,765.4 1274.8,763.1 1275.2,766.5 1275.5,764.2 1275.8,765.4 1276.2,766.5 1276.5,762.0 1276.8,765.3 1277.2,765.3 1277.5,765.3 1277.8,767.6 1278.2,763.1 1278.5,766.4 1278.8,763.1 1279.2,765.3 1279.5,761.9 1279.8,767.5 1280.2,765.3 1280.5,765.3 1280.8,758.6 1281.2,765.3 1281.5,764.2 1281.8,764.2 1282.2,765.3 1282.5,765.3 1282.8,765.3 1283.2,765.3 1283.5,766.4 1283.8,764.1 1284.2,765.3 1284.5,764.1 1284.8,765.2 1285.2,765.1 1285.5,766.2 1285.8,765.0 1286.2,763.8 1286.5,766.0 1286.8,767.0 1287.2,762.4 1287.5,759.0 1287.8,764.5 1288.2,757.7 1288.5,762.2 1288.8,763.2 1289.2,765.4 1289.5,763.1 1289.8,763.0 1290.2,762.9 1290.5,761.7 1290.8,762.8 1291.2,760.5 1291.5,758.2 1291.8,762.7 1292.2,754.9 1292.5,758.4 1292.8,759.6 1293.2,759.7 1293.5,765.4 1293.8,764.4 1294.2,764.5 1294.5,764.6 1294.8,763.6 1295.2,763.7 1295.5,763.8 1295.8,766.2 1296.2,764.0 1296.5,766.4 1296.8,759.6 1297.2,761.7 1297.5,763.9 1297.8,766.1 1298.2,766.0 1298.5,763.7 1298.8,762.5 1299.2,765.8 1299.5,763.5 1299.8,763.5 1300.2,761.2 1300.5,763.3 1300.8,763.3 1301.2,762.1 1301.5,762.0 1301.8,764.2 1302.2,763.0 1302.5,755.1 1302.8,764.0 1303.2,758.3 1303.5,756.0 1303.8,758.2 1304.2,759.3 1304.5,761.6 1304.8,764.0 1305.2,758.5 1305.5,757.5 1305.8,763.2 1306.2,758.8 1306.5,762.3 1306.8,765.8 1307.2,762.5 1307.5,764.9 1307.8,766.1 1308.2,767.3 1308.5,767.5 1308.8,765.3 1309.2,766.6 1309.5,763.3 1309.8,765.6 1310.2,764.4 1310.5,766.7 1310.8,767.8 1311.2,767.8 1311.5,765.6 1311.8,767.8 1312.2,765.6 1312.5,766.7 1312.8,766.7 1313.2,767.8 1313.5,766.7 1313.8,764.5 1314.2,767.8 1314.5,765.6 1314.8,766.7 1315.2,767.8 1315.5,765.6 1315.8,765.6 1316.2,765.6 1316.5,767.8 1316.8,766.7 1317.2,764.5 1317.5,766.7 1317.8,766.7 1318.2,767.9 1318.5,765.6 1318.8,765.6 1319.2,766.7 1319.5,766.7 1319.8,766.7 1320.2,766.8 1320.5,764.5 1320.8,765.6 1321.2,765.6 1321.5,764.5 1321.8,766.8 1322.2,767.9 1322.5,765.6 1322.8,766.8 1323.2,766.8 1323.5,766.8 1323.8,765.7 1324.2,765.7 1324.5,767.9 1324.8,767.9 1325.2,766.8 1325.5,766.8 1325.8,766.8 1326.2,765.7 1326.5,765.7 1326.8,766.8 1327.2,765.7 1327.5,766.8 1327.8,767.9 1328.2,765.7 1328.5,765.7 1328.8,766.8 1329.2,766.8 1329.5,766.8 1329.8,763.5 1330.2,767.9 1330.5,763.5 1330.8,766.8 1331.2,768.0 1331.5,766.8 1331.8,765.7 1332.2,766.8 1332.5,766.8 1332.8,766.8 1333.2,765.7 1333.5,766.9" stroke="#0000ff" stroke-width="1" fill="none" stroke-linejoin="round"/><rect x="1064.75" y="682.20" width="269.0" height="87.0" stroke="#8a8a8a" stroke-width="1.7" fill="none"/><text x="1061.1" y="774.1" text-anchor="end" class="tx">0</text><text x="1061.1" y="756.8" text-anchor="end" class="tx">10</text><text x="1061.1" y="739.4" text-anchor="end" class="tx">20</text><text x="1061.1" y="722.1" text-anchor="end" class="tx">30</text><text x="1061.1" y="704.7" text-anchor="end" class="tx">40</text><text x="1061.1" y="687.4" text-anchor="end" class="tx">50</text><text x="1089.5" y="783.0" text-anchor="middle" class="tx">20000</text><text x="1133.2" y="783.0" text-anchor="middle" class="tx">21000</text><text x="1176.8" y="783.0" text-anchor="middle" class="tx">22000</text><text x="1220.5" y="783.0" text-anchor="middle" class="tx">23000</text><text x="1264.2" y="783.0" text-anchor="middle" class="tx">24000</text><text x="1307.9" y="783.0" text-anchor="middle" class="tx">25000</text><rect x="1241.7" y="690.6" width="13.5" height="10.6" fill="#fff" stroke="#cccccc" stroke-width="1"/><rect x="1243.0" y="692.0" width="11" height="8" fill="#0000ff"/><text x="1259.1" y="700.0" class="tx" fill="#7d7d7d" style="fill:#7d7d7d;letter-spacing:0.64px">aida13 1.8.L</text><path d="M1333.2 673.1L1343.0 682.9L1333.2 692.7L1323.4 682.9z" fill="#ff0000"/><path d="M137.2 804.4V891.1M180.9 804.4V891.1M224.5 804.4V891.1M268.2 804.4V891.1M311.9 804.4V891.1M355.6 804.4V891.1M112.5 873.8H381.5M112.5 856.4H381.5M112.5 839.1H381.5M112.5 821.7H381.5" stroke="#ebebeb" stroke-width="1" fill="none"/><polyline clip-path="url(#cp9)" points="112.5,890.7 112.8,890.7 113.2,890.7 113.5,890.7 113.8,890.7 114.2,890.7 114.5,890.7 114.8,890.7 115.2,890.7 115.5,890.7 115.8,890.7 116.2,890.7 116.5,890.7 116.8,890.7 117.2,890.7 117.5,890.7 117.8,890.7 118.2,890.7 118.5,890.7 118.8,890.7 119.2,890.7 119.5,890.7 119.8,890.7 120.2,890.7 120.5,890.7 120.8,890.7 121.2,890.7 121.5,890.7 121.8,890.7 122.2,890.7 122.5,890.7 122.8,890.7 123.2,890.7 123.5,890.7 123.8,890.7 124.2,890.7 124.5,890.7 124.8,890.7 125.2,890.7 125.5,890.7 125.8,890.7 126.2,890.7 126.5,890.7 126.8,890.7 127.2,890.7 127.5,890.7 127.8,890.7 128.2,890.7 128.5,890.7 128.8,890.7 129.2,890.7 129.5,890.7 129.8,890.7 130.2,890.7 130.5,890.7 130.8,890.7 131.2,890.7 131.5,890.7 131.8,890.7 132.2,890.7 132.5,890.7 132.8,890.7 133.2,890.7 133.5,890.7 133.8,890.7 134.2,890.7 134.5,890.7 134.8,890.7 135.2,890.7 135.5,890.7 135.8,890.7 136.2,890.7 136.5,890.7 136.8,890.7 137.2,890.7 137.5,890.7 137.8,890.7 138.2,890.7 138.5,890.7 138.8,890.7 139.2,890.7 139.5,890.7 139.8,890.7 140.2,890.7 140.5,890.7 140.8,890.7 141.2,890.7 141.5,890.7 141.8,890.7 142.2,890.7 142.5,890.7 142.8,890.7 143.2,890.7 143.5,890.7 143.8,890.7 144.2,890.7 144.5,890.7 144.8,890.7 145.2,890.7 145.5,890.7 145.8,890.7 146.2,890.7 146.5,890.7 146.8,890.7 147.2,890.7 147.5,890.7 147.8,890.7 148.2,890.7 148.5,890.7 148.8,890.7 149.2,890.7 149.5,890.7 149.8,890.7 150.2,890.7 150.5,890.7 150.8,890.7 151.2,890.7 151.5,890.7 151.8,890.7 152.2,890.7 152.5,890.7 152.8,890.7 153.2,890.7 153.5,890.7 153.8,890.7 154.2,890.7 154.5,890.7 154.8,890.7 155.2,890.7 155.5,890.7 155.8,890.7 156.2,890.7 156.5,890.7 156.8,890.7 157.2,890.7 157.5,890.7 157.8,890.7 158.2,890.7 158.5,890.7 158.8,890.7 159.2,890.7 159.5,890.7 159.8,890.7 160.2,890.7 160.5,890.7 160.8,890.7 161.2,890.7 161.5,890.7 161.8,890.7 162.2,890.7 162.5,890.7 162.8,890.5 163.2,890.4 163.5,890.2 163.8,890.1 164.2,887.7 164.5,885.3 164.8,885.2 165.2,889.5 165.5,887.2 165.8,885.9 166.2,884.6 166.5,884.5 166.8,886.6 167.2,884.3 167.5,886.4 167.8,885.1 168.2,881.6 168.5,887.1 168.8,879.1 169.2,881.3 169.5,885.9 169.8,884.9 170.2,885.1 170.5,884.1 170.8,887.6 171.2,887.8 171.5,886.8 171.8,885.8 172.2,888.2 172.5,888.4 172.8,886.1 173.2,888.4 173.5,888.4 173.8,883.9 174.2,886.1 174.5,888.4 174.8,885.0 175.2,886.1 175.5,887.3 175.8,887.3 176.2,887.3 176.5,889.5 176.8,888.4 177.2,883.9 177.5,887.3 177.8,889.5 178.2,888.4 178.5,883.9 178.8,885.0 179.2,888.4 179.5,888.4 179.8,885.0 180.2,888.4 180.5,885.0 180.8,885.0 181.2,887.3 181.5,886.2 181.8,888.4 182.2,885.1 182.5,887.3 182.8,887.3 183.2,883.9 183.5,885.1 183.8,888.4 184.2,888.4 184.5,887.3 184.8,889.6 185.2,887.3 185.5,888.4 185.8,887.3 186.2,887.3 186.5,886.2 186.8,888.4 187.2,885.1 187.5,888.4 187.8,884.0 188.2,886.2 188.5,885.1 188.8,885.1 189.2,884.0 189.5,885.1 189.8,886.2 190.2,888.5 190.5,887.3 190.8,889.6 191.2,885.1 191.5,886.2 191.8,887.3 192.2,886.2 192.5,888.5 192.8,886.2 193.2,887.4 193.5,887.4 193.8,886.2 194.2,888.5 194.5,884.0 194.8,887.4 195.2,888.5 195.5,888.5 195.8,888.5 196.2,888.5 196.5,888.5 196.8,889.4 197.2,885.8 197.5,885.5 197.8,886.3 198.2,882.6 198.5,880.0 198.8,879.8 199.2,882.6 199.5,878.1 199.8,877.8 200.2,880.1 200.5,876.0 200.8,876.1 201.2,879.3 201.5,876.0 201.8,870.6 202.2,869.1 202.5,871.0 202.8,868.7 203.2,869.7 203.5,860.3 203.8,858.4 204.2,853.6 204.5,851.0 204.8,849.7 205.2,843.3 205.5,841.6 205.8,831.6 206.2,824.0 206.5,813.3 206.8,787.1 207.2,787.1 207.5,787.1 207.8,787.1 208.2,787.1 208.5,787.1 208.8,787.1 209.2,787.1 209.5,787.1 209.8,787.1 210.2,787.1 210.5,787.1 210.8,787.1 211.2,787.1 211.5,787.1 211.8,787.1 212.2,787.1 212.5,787.1 212.8,787.1 213.2,787.1 213.5,787.1 213.8,787.1 214.2,787.1 214.5,787.1 214.8,787.1 215.2,787.1 215.5,787.1 215.8,787.1 216.2,787.1 216.5,787.1 216.8,787.1 217.2,787.1 217.5,787.1 217.8,824.0 218.2,847.3 218.5,852.0 218.8,861.9 219.2,869.7 219.5,872.2 219.8,876.4 220.2,877.3 220.5,878.1 220.8,884.1 221.2,883.7 221.5,884.4 221.8,885.6 222.2,885.8 222.5,888.1 222.8,889.3 223.2,883.8 223.5,885.1 223.8,886.3 224.2,886.4 224.5,887.7 224.8,887.7 225.2,887.7 225.5,886.5 225.8,887.7 226.2,888.8 226.5,886.5 226.8,887.7 227.2,888.8 227.5,889.9 227.8,885.4 228.2,888.8 228.5,889.9 228.8,888.8 229.2,889.9 229.5,888.8 229.8,889.9 230.2,887.7 230.5,886.6 230.8,889.9 231.2,887.7 231.5,887.7 231.8,888.8 232.2,887.7 232.5,885.4 232.8,888.8 233.2,888.8 233.5,888.8 233.8,888.8 234.2,888.8 234.5,889.9 234.8,885.4 235.2,889.9 235.5,887.7 235.8,888.8 236.2,885.4 236.5,889.9 236.8,887.7 237.2,888.8 237.5,886.6 237.8,889.9 238.2,889.9 238.5,889.9 238.8,887.7 239.2,888.8 239.5,889.9 239.8,888.8 240.2,889.9 240.5,889.9 240.8,888.8 241.2,887.7 241.5,889.9 241.8,888.8 242.2,884.3 242.5,887.7 242.8,887.7 243.2,888.8 243.5,888.8 243.8,888.8 244.2,886.6 244.5,886.6 244.8,887.7 245.2,888.8 245.5,888.8 245.8,887.7 246.2,889.9 246.5,888.8 246.8,889.9 247.2,889.9 247.5,889.9 247.8,888.8 248.2,888.8 248.5,888.8 248.8,888.8 249.2,888.8 249.5,887.7 249.8,888.8 250.2,888.8 250.5,887.7 250.8,888.8 251.2,885.4 251.5,887.7 251.8,888.8 252.2,887.7 252.5,888.8 252.8,886.6 253.2,887.7 253.5,884.3 253.8,888.8 254.2,889.9 254.5,889.9 254.8,887.7 255.2,889.9 255.5,889.9 255.8,887.7 256.2,889.9 256.5,885.4 256.8,888.8 257.2,888.8 257.5,887.7 257.8,889.9 258.2,887.7 258.5,886.6 258.8,886.6 259.2,886.6 259.5,889.9 259.8,886.6 260.2,887.7 260.5,888.8 260.8,887.7 261.2,886.6 261.5,887.7 261.8,888.8 262.2,888.8 262.5,888.8 262.8,889.9 263.2,887.7 263.5,887.7 263.8,889.9 264.2,888.8 264.5,888.8 264.8,886.6 265.2,886.6 265.5,885.4 265.8,887.7 266.2,889.9 266.5,886.6 266.8,888.8 267.2,888.8 267.5,887.7 267.8,887.7 268.2,889.9 268.5,886.6 268.8,886.6 269.2,889.9 269.5,889.9 269.8,887.7 270.2,888.8 270.5,884.3 270.8,888.8 271.2,889.9 271.5,889.9 271.8,888.8 272.2,888.8 272.5,888.8 272.8,887.7 273.2,888.8 273.5,886.6 273.8,888.8 274.2,888.8 274.5,889.9 274.8,888.8 275.2,888.8 275.5,887.7 275.8,885.4 276.2,889.9 276.5,886.6 276.8,888.8 277.2,889.9 277.5,887.7 277.8,888.8 278.2,887.7 278.5,887.7 278.8,887.7 279.2,887.7 279.5,887.7 279.8,888.8 280.2,887.7 280.5,887.7 280.8,888.8 281.2,887.7 281.5,887.7 281.8,888.8 282.2,887.7 282.5,886.6 282.8,888.8 283.2,889.9 283.5,887.7 283.8,889.9 284.2,887.7 284.5,887.7 284.8,889.9 285.2,888.8 285.5,888.8 285.8,888.8 286.2,889.9 286.5,888.8 286.8,887.7 287.2,889.9 287.5,889.9 287.8,888.8 288.2,889.9 288.5,889.9 288.8,888.8 289.2,889.9 289.5,888.8 289.8,888.8 290.2,888.8 290.5,888.8 290.8,888.8 291.2,887.7 291.5,887.7 291.8,888.8 292.2,889.9 292.5,887.7 292.8,889.9 293.2,887.7 293.5,888.8 293.8,887.7 294.2,889.9 294.5,888.8 294.8,887.7 295.2,886.6 295.5,887.7 295.8,889.9 296.2,888.8 296.5,889.9 296.8,889.9 297.2,887.7 297.5,888.8 297.8,889.9 298.2,888.8 298.5,888.8 298.8,887.7 299.2,888.8 299.5,889.9 299.8,888.8 300.2,889.9 300.5,888.8 300.8,889.9 301.2,888.8 301.5,888.8 301.8,887.7 302.2,888.8 302.5,888.8 302.8,887.7 303.2,888.8 303.5,887.7 303.8,888.8 304.2,887.7 304.5,888.8 304.8,888.8 305.2,888.8 305.5,886.6 305.8,889.9 306.2,889.9 306.5,889.9 306.8,889.9 307.2,887.7 307.5,886.6 307.8,888.8 308.2,888.8 308.5,886.6 308.8,889.9 309.2,887.7 309.5,887.7 309.8,888.8 310.2,885.5 310.5,889.9 310.8,888.8 311.2,889.9 311.5,888.8 311.8,889.9 312.2,889.9 312.5,889.9 312.8,888.8 313.2,889.9 313.5,886.6 313.8,888.8 314.2,889.9 314.5,888.8 314.8,888.8 315.2,886.6 315.5,889.9 315.8,885.5 316.2,887.7 316.5,886.6 316.8,890.0 317.2,884.3 317.5,890.0 317.8,888.8 318.2,887.7 318.5,888.8 318.8,888.8 319.2,887.7 319.5,886.6 319.8,888.8 320.2,887.7 320.5,890.0 320.8,888.8 321.2,890.0 321.5,890.0 321.8,887.7 322.2,888.8 322.5,883.2 322.8,890.0 323.2,887.7 323.5,887.7 323.8,888.8 324.2,888.8 324.5,887.7 324.8,887.7 325.2,884.3 325.5,887.7 325.8,890.0 326.2,886.6 326.5,890.0 326.8,887.7 327.2,890.0 327.5,888.8 327.8,887.7 328.2,888.8 328.5,885.5 328.8,890.0 329.2,887.7 329.5,890.0 329.8,888.8 330.2,888.8 330.5,888.8 330.8,886.6 331.2,886.6 331.5,887.7 331.8,890.0 332.2,886.6 332.5,890.0 332.8,888.8 333.2,888.8 333.5,888.8 333.8,890.0 334.2,888.8 334.5,887.7 334.8,887.7 335.2,884.3 335.5,888.8 335.8,888.8 336.2,890.0 336.5,890.0 336.8,888.8 337.2,886.6 337.5,885.5 337.8,886.6 338.2,887.7 338.5,887.7 338.8,890.0 339.2,890.0 339.5,888.8 339.8,888.8 340.2,885.5 340.5,890.0 340.8,888.8 341.2,888.8 341.5,890.0 341.8,890.0 342.2,890.0 342.5,887.7 342.8,888.8 343.2,890.0 343.5,890.0 343.8,890.0 344.2,887.7 344.5,888.8 344.8,890.0 345.2,885.5 345.5,890.0 345.8,888.8 346.2,888.8 346.5,887.7 346.8,888.8 347.2,887.7 347.5,887.7 347.8,888.8 348.2,890.0 348.5,888.8 348.8,888.8 349.2,888.8 349.5,890.0 349.8,887.7 350.2,888.8 350.5,888.8 350.8,888.8 351.2,890.0 351.5,888.8 351.8,888.8 352.2,888.8 352.5,886.6 352.8,888.8 353.2,890.0 353.5,885.5 353.8,890.0 354.2,890.0 354.5,890.0 354.8,888.8 355.2,890.0 355.5,887.7 355.8,890.0 356.2,887.7 356.5,885.5 356.8,887.7 357.2,888.8 357.5,888.8 357.8,888.8 358.2,887.7 358.5,887.7 358.8,890.0 359.2,888.8 359.5,887.7 359.8,888.8 360.2,888.8 360.5,887.7 360.8,888.8 361.2,890.0 361.5,887.7 361.8,890.0 362.2,888.8 362.5,886.6 362.8,890.0 363.2,888.8 363.5,890.0 363.8,888.8 364.2,888.8 364.5,890.0 364.8,888.8 365.2,888.8 365.5,888.8 365.8,890.0 366.2,888.8 366.5,890.0 366.8,890.0 367.2,888.8 367.5,890.0 367.8,886.6 368.2,890.0 368.5,887.7 368.8,888.8 369.2,887.7 369.5,890.0 369.8,888.8 370.2,888.8 370.5,890.0 370.8,888.8 371.2,890.0 371.5,888.8 371.8,890.0 372.2,886.6 372.5,888.8 372.8,890.0 373.2,888.8 373.5,887.7 373.8,888.9 374.2,890.0 374.5,888.9 374.8,890.0 375.2,890.0 375.5,885.5 375.8,888.9 376.2,890.0 376.5,890.0 376.8,886.6 377.2,890.0 377.5,890.0 377.8,886.6 378.2,888.9 378.5,885.5 378.8,890.0 379.2,890.0 379.5,890.0 379.8,890.0 380.2,886.6 380.5,888.9 380.8,888.9 381.2,888.9 381.5,888.9" stroke="#0000ff" stroke-width="1" fill="none" stroke-linejoin="round"/><rect x="112.75" y="804.20" width="269.0" height="87.0" stroke="#8a8a8a" stroke-width="1.7" fill="none"/><text x="109.1" y="896.1" text-anchor="end" class="tx">0</text><text x="109.1" y="878.8" text-anchor="end" class="tx">10</text><text x="109.1" y="861.4" text-anchor="end" class="tx">20</text><text x="109.1" y="844.1" text-anchor="end" class="tx">30</text><text x="109.1" y="826.7" text-anchor="end" class="tx">40</text><text x="109.1" y="809.4" text-anchor="end" class="tx">50</text><text x="137.5" y="905.0" text-anchor="middle" class="tx">20000</text><text x="181.2" y="905.0" text-anchor="middle" class="tx">21000</text><text x="224.8" y="905.0" text-anchor="middle" class="tx">22000</text><text x="268.5" y="905.0" text-anchor="middle" class="tx">23000</text><text x="312.2" y="905.0" text-anchor="middle" class="tx">24000</text><text x="355.9" y="905.0" text-anchor="middle" class="tx">25000</text><rect x="289.7" y="812.6" width="13.5" height="10.6" fill="#fff" stroke="#cccccc" stroke-width="1"/><rect x="291.0" y="814.0" width="11" height="8" fill="#0000ff"/><text x="307.1" y="822.0" class="tx" fill="#7d7d7d" style="fill:#7d7d7d;letter-spacing:0.64px">aida11 1.8.L</text><path d="M381.2 795.1L391.0 804.9L381.2 814.7L371.4 804.9z" fill="#ff0000"/><path d="M613.2 804.4V891.1M656.9 804.4V891.1M700.5 804.4V891.1M744.2 804.4V891.1M787.9 804.4V891.1M831.6 804.4V891.1M588.5 873.8H857.5M588.5 856.4H857.5M588.5 839.1H857.5M588.5 821.7H857.5" stroke="#ebebeb" stroke-width="1" fill="none"/><polyline clip-path="url(#cp10)" points="588.5,890.7 588.8,890.7 589.2,890.7 589.5,890.7 589.8,890.7 590.2,890.7 590.5,890.7 590.8,890.7 591.2,890.7 591.5,890.7 591.8,890.7 592.2,890.7 592.5,890.7 592.8,890.7 593.2,890.7 593.5,890.7 593.8,889.5 594.2,889.4 594.5,889.3 594.8,888.2 595.2,889.3 595.5,888.2 595.8,890.4 596.2,890.4 596.5,890.4 596.8,889.3 597.2,889.3 597.5,889.3 597.8,890.4 598.2,889.3 598.5,887.0 598.8,890.4 599.2,890.4 599.5,889.3 599.8,889.3 600.2,890.4 600.5,890.4 600.8,889.3 601.2,889.3 601.5,890.4 601.8,888.2 602.2,890.4 602.5,890.4 602.8,890.4 603.2,889.3 603.5,890.4 603.8,890.4 604.2,890.4 604.5,889.3 604.8,890.4 605.2,890.4 605.5,890.4 605.8,890.4 606.2,889.3 606.5,889.3 606.8,889.3 607.2,890.4 607.5,889.3 607.8,890.4 608.2,890.4 608.5,890.4 608.8,889.3 609.2,890.4 609.5,890.4 609.8,889.3 610.2,889.3 610.5,890.4 610.8,890.4 611.2,890.4 611.5,889.3 611.8,889.3 612.2,889.3 612.5,890.4 612.8,889.3 613.2,890.4 613.5,889.3 613.8,890.4 614.2,890.4 614.5,890.4 614.8,889.3 615.2,889.3 615.5,890.4 615.8,890.4 616.2,890.4 616.5,890.4 616.8,890.4 617.2,890.4 617.5,890.4 617.8,889.3 618.2,888.2 618.5,890.4 618.8,889.3 619.2,890.4 619.5,890.4 619.8,889.3 620.2,890.4 620.5,890.4 620.8,890.4 621.2,890.4 621.5,890.4 621.8,890.4 622.2,890.4 622.5,889.3 622.8,890.4 623.2,889.3 623.5,890.4 623.8,890.4 624.2,889.3 624.5,890.4 624.8,889.3 625.2,889.3 625.5,890.4 625.8,889.3 626.2,890.4 626.5,890.4 626.8,890.4 627.2,890.4 627.5,890.4 627.8,890.4 628.2,889.3 628.5,889.3 628.8,890.4 629.2,889.3 629.5,889.3 629.8,890.4 630.2,890.4 630.5,890.4 630.8,890.4 631.2,889.3 631.5,890.4 631.8,890.4 632.2,889.3 632.5,890.4 632.8,890.4 633.2,889.3 633.5,888.2 633.8,890.4 634.2,890.4 634.5,888.2 634.8,890.4 635.2,890.4 635.5,889.3 635.8,889.3 636.2,890.4 636.5,889.3 636.8,890.4 637.2,889.3 637.5,889.3 637.8,889.3 638.2,890.4 638.5,889.3 638.8,889.3 639.2,890.4 639.5,890.4 639.8,890.4 640.2,890.4 640.5,889.3 640.8,890.4 641.2,889.3 641.5,890.4 641.8,890.4 642.2,890.4 642.5,890.4 642.8,889.3 643.2,890.4 643.5,890.4 643.8,889.1 644.2,889.0 644.5,888.9 644.8,889.9 645.2,888.6 645.5,888.5 645.8,886.1 646.2,887.1 646.5,883.6 646.8,887.9 647.2,886.7 647.5,885.4 647.8,884.2 648.2,884.0 648.5,880.5 648.8,884.9 649.2,885.9 649.5,883.5 649.8,884.8 650.2,887.1 650.5,880.5 650.8,886.3 651.2,888.7 651.5,885.4 651.8,885.6 652.2,885.7 652.5,888.1 652.8,887.0 653.2,887.0 653.5,885.9 653.8,887.1 654.2,888.2 654.5,888.3 654.8,886.1 655.2,886.1 655.5,887.2 655.8,886.2 656.2,888.4 656.5,889.6 656.8,887.4 657.2,888.5 657.5,887.4 657.8,888.6 658.2,888.6 658.5,885.3 658.8,888.7 659.2,887.6 659.5,887.6 659.8,889.8 660.2,888.7 660.5,888.7 660.8,888.7 661.2,888.7 661.5,887.6 661.8,886.4 662.2,886.4 662.5,888.7 662.8,887.6 663.2,889.8 663.5,889.8 663.8,886.4 664.2,888.7 664.5,887.6 664.8,889.8 665.2,888.7 665.5,888.7 665.8,887.6 666.2,886.4 666.5,888.7 666.8,888.7 667.2,887.6 667.5,886.4 667.8,887.6 668.2,887.6 668.5,889.8 668.8,887.6 669.2,888.7 669.5,889.8 669.8,887.6 670.2,888.7 670.5,889.8 670.8,887.6 671.2,886.4 671.5,889.8 671.8,887.6 672.2,888.7 672.5,888.7 672.8,887.6 673.2,886.4 673.5,887.6 673.8,888.7 674.2,887.6 674.5,889.8 674.8,887.6 675.2,889.8 675.5,888.7 675.8,888.7 676.2,889.8 676.5,889.8 676.8,889.8 677.2,887.6 677.5,886.4 677.8,887.6 678.2,889.8 678.5,886.4 678.8,888.7 679.2,889.8 679.5,885.3 679.8,887.2 680.2,889.1 680.5,884.3 680.8,880.6 681.2,881.0 681.5,879.8 681.8,873.1 682.2,876.3 682.5,870.7 682.8,873.0 683.2,876.5 683.5,878.8 683.8,881.0 684.2,882.1 684.5,884.3 684.8,884.3 685.2,883.2 685.5,881.0 685.8,870.7 686.2,859.0 686.5,847.5 686.8,835.5 687.2,823.2 687.5,804.0 687.8,787.1 688.2,787.1 688.5,787.1 688.8,787.1 689.2,787.1 689.5,787.1 689.8,787.1 690.2,787.1 690.5,787.1 690.8,787.1 691.2,787.1 691.5,787.1 691.8,787.1 692.2,787.1 692.5,787.1 692.8,787.1 693.2,787.1 693.5,787.1 693.8,787.1 694.2,787.1 694.5,787.1 694.8,787.1 695.2,787.1 695.5,787.1 695.8,787.1 696.2,787.1 696.5,813.8 696.8,844.7 697.2,867.4 697.5,879.6 697.8,882.9 698.2,887.3 698.5,887.4 698.8,888.7 699.2,888.8 699.5,889.0 699.8,887.9 700.2,889.0 700.5,890.1 700.8,889.0 701.2,887.8 701.5,890.1 701.8,887.8 702.2,889.0 702.5,890.1 702.8,890.1 703.2,885.6 703.5,887.8 703.8,889.0 704.2,890.1 704.5,885.6 704.8,889.0 705.2,890.1 705.5,890.1 705.8,890.1 706.2,890.1 706.5,890.1 706.8,887.8 707.2,890.1 707.5,890.1 707.8,890.1 708.2,887.8 708.5,887.8 708.8,889.0 709.2,886.7 709.5,890.1 709.8,888.9 710.2,888.9 710.5,890.1 710.8,887.8 711.2,887.8 711.5,888.9 711.8,890.1 712.2,888.9 712.5,890.1 712.8,890.1 713.2,887.8 713.5,888.9 713.8,888.9 714.2,888.9 714.5,888.9 714.8,890.1 715.2,890.1 715.5,887.8 715.8,888.9 716.2,888.9 716.5,887.8 716.8,887.8 717.2,890.1 717.5,890.0 717.8,887.8 718.2,888.9 718.5,888.9 718.8,888.9 719.2,890.0 719.5,888.9 719.8,885.6 720.2,888.9 720.5,890.0 720.8,888.9 721.2,888.9 721.5,888.9 721.8,887.8 722.2,887.8 722.5,886.7 722.8,888.9 723.2,890.0 723.5,888.9 723.8,887.8 724.2,890.0 724.5,887.8 724.8,890.0 725.2,887.8 725.5,888.9 725.8,890.0 726.2,888.9 726.5,888.9 726.8,888.9 727.2,888.9 727.5,890.0 727.8,887.8 728.2,888.9 728.5,888.9 728.8,888.9 729.2,888.9 729.5,887.8 729.8,887.8 730.2,888.9 730.5,887.8 730.8,888.9 731.2,890.0 731.5,890.0 731.8,890.0 732.2,888.9 732.5,888.9 732.8,887.8 733.2,888.9 733.5,885.5 733.8,887.8 734.2,887.8 734.5,887.8 734.8,890.0 735.2,890.0 735.5,888.9 735.8,884.4 736.2,888.9 736.5,885.5 736.8,890.0 737.2,890.0 737.5,888.9 737.8,887.8 738.2,888.9 738.5,888.9 738.8,886.6 739.2,888.9 739.5,890.0 739.8,885.5 740.2,887.7 740.5,886.6 740.8,886.6 741.2,890.0 741.5,887.7 741.8,885.5 742.2,887.7 742.5,890.0 742.8,890.0 743.2,890.0 743.5,888.9 743.8,887.7 744.2,888.9 744.5,890.0 744.8,890.0 745.2,888.9 745.5,888.9 745.8,890.0 746.2,888.9 746.5,887.7 746.8,887.5 747.2,887.3 747.5,888.2 747.8,886.9 748.2,885.6 748.5,886.5 748.8,887.4 749.2,883.9 749.5,883.9 749.8,886.4 750.2,885.5 750.5,886.9 750.8,884.8 751.2,887.3 751.5,886.4 751.8,889.8 752.2,885.3 752.5,889.8 752.8,888.7 753.2,886.4 753.5,887.6 753.8,888.7 754.2,889.8 754.5,889.8 754.8,886.4 755.2,887.6 755.5,887.6 755.8,889.8 756.2,889.8 756.5,887.6 756.8,888.7 757.2,889.8 757.5,889.8 757.8,889.8 758.2,887.6 758.5,887.6 758.8,887.6 759.2,888.7 759.5,888.7 759.8,886.4 760.2,889.8 760.5,888.7 760.8,888.7 761.2,889.8 761.5,886.4 761.8,889.8 762.2,888.7 762.5,888.7 762.8,888.7 763.2,887.6 763.5,887.6 763.8,887.6 764.2,888.7 764.5,887.6 764.8,886.4 765.2,886.4 765.5,886.4 765.8,888.7 766.2,887.6 766.5,888.7 766.8,888.7 767.2,887.6 767.5,886.4 767.8,885.3 768.2,887.6 768.5,887.6 768.8,889.8 769.2,889.8 769.5,886.4 769.8,888.7 770.2,888.7 770.5,887.6 770.8,886.4 771.2,887.6 771.5,888.7 771.8,888.7 772.2,888.7 772.5,889.8 772.8,887.6 773.2,888.7 773.5,888.7 773.8,886.4 774.2,889.8 774.5,886.4 774.8,887.6 775.2,887.6 775.5,888.7 775.8,886.3 776.2,888.3 776.5,884.8 776.8,886.9 777.2,884.5 777.5,887.7 777.8,885.3 778.2,884.0 778.5,883.8 778.8,886.2 779.2,886.4 779.5,880.9 779.8,883.3 780.2,886.9 780.5,887.0 780.8,887.2 781.2,886.3 781.5,888.7 781.8,888.7 782.2,888.7 782.5,888.7 782.8,886.4 783.2,885.3 783.5,887.5 783.8,885.3 784.2,885.3 784.5,889.8 784.8,887.5 785.2,884.1 785.5,885.3 785.8,888.6 786.2,887.5 786.5,885.3 786.8,889.7 787.2,887.5 787.5,888.6 787.8,883.0 788.2,887.5 788.5,887.5 788.8,889.7 789.2,887.5 789.5,888.6 789.8,889.7 790.2,887.5 790.5,887.5 790.8,887.5 791.2,887.5 791.5,887.4 791.8,884.1 792.2,887.4 792.5,888.6 792.8,889.7 793.2,888.6 793.5,889.7 793.8,888.5 794.2,887.4 794.5,889.7 794.8,887.4 795.2,888.5 795.5,888.5 795.8,888.5 796.2,887.4 796.5,886.3 796.8,887.4 797.2,888.5 797.5,889.6 797.8,886.3 798.2,887.4 798.5,887.4 798.8,888.5 799.2,888.5 799.5,888.5 799.8,887.4 800.2,885.1 800.5,885.1 800.8,887.4 801.2,888.5 801.5,887.3 801.8,886.2 802.2,886.2 802.5,887.3 802.8,888.5 803.2,888.5 803.5,884.0 803.8,887.3 804.2,886.2 804.5,888.4 804.8,889.6 805.2,887.3 805.5,885.1 805.8,889.5 806.2,888.4 806.5,887.3 806.8,887.3 807.2,885.0 807.5,886.2 807.8,887.3 808.2,885.0 808.5,886.2 808.8,887.3 809.2,889.5 809.5,888.4 809.8,887.3 810.2,889.5 810.5,888.4 810.8,886.1 811.2,888.4 811.5,886.1 811.8,887.1 812.2,885.9 812.5,885.8 812.8,883.5 813.2,884.5 813.5,886.6 813.8,883.2 814.2,885.3 814.5,886.3 814.8,882.9 815.2,885.0 815.5,881.6 815.8,885.1 816.2,886.3 816.5,885.3 816.8,886.6 817.2,885.6 817.5,885.7 817.8,887.0 818.2,887.1 818.5,889.5 818.8,889.5 819.2,888.4 819.5,888.4 819.8,885.0 820.2,885.0 820.5,886.1 820.8,886.1 821.2,883.9 821.5,886.1 821.8,889.5 822.2,887.3 822.5,889.5 822.8,886.2 823.2,887.3 823.5,886.2 823.8,888.4 824.2,888.4 824.5,887.3 824.8,887.3 825.2,885.1 825.5,888.4 825.8,888.4 826.2,887.3 826.5,889.6 826.8,887.3 827.2,885.1 827.5,886.2 827.8,887.3 828.2,888.4 828.5,888.4 828.8,888.4 829.2,887.3 829.5,885.1 829.8,887.3 830.2,889.6 830.5,887.3 830.8,887.3 831.2,884.0 831.5,889.6 831.8,885.1 832.2,889.6 832.5,885.1 832.8,886.2 833.2,888.5 833.5,887.4 833.8,888.5 834.2,888.5 834.5,888.5 834.8,886.3 835.2,888.5 835.5,889.6 835.8,887.4 836.2,888.5 836.5,887.4 836.8,886.3 837.2,887.4 837.5,888.5 837.8,889.6 838.2,889.6 838.5,887.4 838.8,886.3 839.2,888.5 839.5,887.4 839.8,888.5 840.2,885.2 840.5,887.4 840.8,882.9 841.2,887.4 841.5,888.5 841.8,888.6 842.2,889.7 842.5,886.3 842.8,889.7 843.2,888.6 843.5,887.4 843.8,886.3 844.2,887.4 844.5,885.2 844.8,888.6 845.2,886.3 845.5,889.7 845.8,888.6 846.2,888.6 846.5,888.6 846.8,887.5 847.2,888.6 847.5,887.5 847.8,886.4 848.2,887.5 848.5,888.6 848.8,888.6 849.2,886.4 849.5,889.7 849.8,887.5 850.2,887.5 850.5,888.6 850.8,887.5 851.2,888.6 851.5,886.4 851.8,886.4 852.2,889.8 852.5,886.4 852.8,887.5 853.2,887.5 853.5,888.6 853.8,888.6 854.2,886.4 854.5,889.8 854.8,889.8 855.2,888.7 855.5,889.8 855.8,887.5 856.2,885.3 856.5,888.7 856.8,886.4 857.2,886.4 857.5,887.6" stroke="#0000ff" stroke-width="1" fill="none" stroke-linejoin="round"/><rect x="588.75" y="804.20" width="269.0" height="87.0" stroke="#8a8a8a" stroke-width="1.7" fill="none"/><text x="585.1" y="896.1" text-anchor="end" class="tx">0</text><text x="585.1" y="878.8" text-anchor="end" class="tx">10</text><text x="585.1" y="861.4" text-anchor="end" class="tx">20</text><text x="585.1" y="844.1" text-anchor="end" class="tx">30</text><text x="585.1" y="826.7" text-anchor="end" class="tx">40</text><text x="585.1" y="809.4" text-anchor="end" class="tx">50</text><text x="613.5" y="905.0" text-anchor="middle" class="tx">20000</text><text x="657.2" y="905.0" text-anchor="middle" class="tx">21000</text><text x="700.8" y="905.0" text-anchor="middle" class="tx">22000</text><text x="744.5" y="905.0" text-anchor="middle" class="tx">23000</text><text x="788.2" y="905.0" text-anchor="middle" class="tx">24000</text><text x="831.9" y="905.0" text-anchor="middle" class="tx">25000</text><rect x="765.7" y="812.6" width="13.5" height="10.6" fill="#fff" stroke="#cccccc" stroke-width="1"/><rect x="767.0" y="814.0" width="11" height="8" fill="#0000ff"/><text x="783.1" y="822.0" class="tx" fill="#7d7d7d" style="fill:#7d7d7d;letter-spacing:0.64px">aida07 1.8.L</text><path d="M857.2 795.1L867.0 804.9L857.2 814.7L847.4 804.9z" fill="#ff0000"/><path d="M1089.2 804.4V891.1M1132.9 804.4V891.1M1176.5 804.4V891.1M1220.2 804.4V891.1M1263.9 804.4V891.1M1307.6 804.4V891.1M1064.5 873.8H1333.5M1064.5 856.4H1333.5M1064.5 839.1H1333.5M1064.5 821.7H1333.5" stroke="#ebebeb" stroke-width="1" fill="none"/><polyline clip-path="url(#cp11)" points="1064.5,888.3 1064.8,889.4 1065.2,890.5 1065.5,890.5 1065.8,889.4 1066.2,890.5 1066.5,890.5 1066.8,890.5 1067.2,890.5 1067.5,889.4 1067.8,890.5 1068.2,890.5 1068.5,890.5 1068.8,890.5 1069.2,890.5 1069.5,889.4 1069.8,890.5 1070.2,889.4 1070.5,890.5 1070.8,890.5 1071.2,890.5 1071.5,890.5 1071.8,890.5 1072.2,889.4 1072.5,890.5 1072.8,889.4 1073.2,890.5 1073.5,890.5 1073.8,889.4 1074.2,890.5 1074.5,890.5 1074.8,890.5 1075.2,890.5 1075.5,890.5 1075.8,889.4 1076.2,890.5 1076.5,890.5 1076.8,890.5 1077.2,888.2 1077.5,889.4 1077.8,890.5 1078.2,890.5 1078.5,890.5 1078.8,890.5 1079.2,890.5 1079.5,890.5 1079.8,890.5 1080.2,890.5 1080.5,889.4 1080.8,890.5 1081.2,889.4 1081.5,890.5 1081.8,890.5 1082.2,890.5 1082.5,890.5 1082.8,890.5 1083.2,890.5 1083.5,890.5 1083.8,890.5 1084.2,890.5 1084.5,890.5 1084.8,889.4 1085.2,889.4 1085.5,890.5 1085.8,889.4 1086.2,890.5 1086.5,890.5 1086.8,889.3 1087.2,889.3 1087.5,890.5 1087.8,890.5 1088.2,890.5 1088.5,890.5 1088.8,890.5 1089.2,890.5 1089.5,890.5 1089.8,890.5 1090.2,890.5 1090.5,890.5 1090.8,889.3 1091.2,890.5 1091.5,890.5 1091.8,890.5 1092.2,890.5 1092.5,890.5 1092.8,890.5 1093.2,889.3 1093.5,890.5 1093.8,890.5 1094.2,890.5 1094.5,889.3 1094.8,890.5 1095.2,890.5 1095.5,890.5 1095.8,890.5 1096.2,890.5 1096.5,889.3 1096.8,890.4 1097.2,889.3 1097.5,889.3 1097.8,889.3 1098.2,890.4 1098.5,890.4 1098.8,889.3 1099.2,890.4 1099.5,889.3 1099.8,888.2 1100.2,890.4 1100.5,889.3 1100.8,889.3 1101.2,890.4 1101.5,890.4 1101.8,889.3 1102.2,890.4 1102.5,889.3 1102.8,890.4 1103.2,890.4 1103.5,890.4 1103.8,890.4 1104.2,889.3 1104.5,888.2 1104.8,890.4 1105.2,889.3 1105.5,888.2 1105.8,889.3 1106.2,890.4 1106.5,890.4 1106.8,890.4 1107.2,890.4 1107.5,889.3 1107.8,890.4 1108.2,890.4 1108.5,890.4 1108.8,889.3 1109.2,889.3 1109.5,890.4 1109.8,890.4 1110.2,889.3 1110.5,889.3 1110.8,890.4 1111.2,890.4 1111.5,890.4 1111.8,889.3 1112.2,889.3 1112.5,890.4 1112.8,890.4 1113.2,890.4 1113.5,890.4 1113.8,890.4 1114.2,890.4 1114.5,890.4 1114.8,888.2 1115.2,889.3 1115.5,890.4 1115.8,890.4 1116.2,889.3 1116.5,890.4 1116.8,890.4 1117.2,890.4 1117.5,890.4 1117.8,888.2 1118.2,889.3 1118.5,889.3 1118.8,890.4 1119.2,890.4 1119.5,890.4 1119.8,890.4 1120.2,890.4 1120.5,890.4 1120.8,888.9 1121.2,887.5 1121.5,888.3 1121.8,885.7 1122.2,887.8 1122.5,884.4 1122.8,883.3 1123.2,885.5 1123.5,879.9 1123.8,885.5 1124.2,883.3 1124.5,885.5 1124.8,885.5 1125.2,886.6 1125.5,885.5 1125.8,884.4 1126.2,883.3 1126.5,884.4 1126.8,886.6 1127.2,884.4 1127.5,881.0 1127.8,888.9 1128.2,886.6 1128.5,887.8 1128.8,886.6 1129.2,886.6 1129.5,885.5 1129.8,884.4 1130.2,884.4 1130.5,881.0 1130.8,886.6 1131.2,885.5 1131.5,887.8 1131.8,886.6 1132.2,883.3 1132.5,886.6 1132.8,885.5 1133.2,887.8 1133.5,884.4 1133.8,887.8 1134.2,886.6 1134.5,887.8 1134.8,887.8 1135.2,883.3 1135.5,885.5 1135.8,886.6 1136.2,887.8 1136.5,885.5 1136.8,888.9 1137.2,887.8 1137.5,887.8 1137.8,885.5 1138.2,885.5 1138.5,887.8 1138.8,883.3 1139.2,887.8 1139.5,887.8 1139.8,887.8 1140.2,886.6 1140.5,886.6 1140.8,885.5 1141.2,887.8 1141.5,879.9 1141.8,885.5 1142.2,883.3 1142.5,884.4 1142.8,884.4 1143.2,888.9 1143.5,887.8 1143.8,887.8 1144.2,886.6 1144.5,882.2 1144.8,887.6 1145.2,885.1 1145.5,880.4 1145.8,883.6 1146.2,880.0 1146.5,881.0 1146.8,877.5 1147.2,877.3 1147.5,878.9 1147.8,881.2 1148.2,878.0 1148.5,868.9 1148.8,879.4 1149.2,871.5 1149.5,872.7 1149.8,874.6 1150.2,871.9 1150.5,863.9 1150.8,868.0 1151.2,865.4 1151.5,861.0 1151.8,853.9 1152.2,852.8 1152.5,843.6 1152.8,841.3 1153.2,839.7 1153.5,833.1 1153.8,835.5 1154.2,823.3 1154.5,818.2 1154.8,811.2 1155.2,804.9 1155.5,787.1 1155.8,787.1 1156.2,787.1 1156.5,787.1 1156.8,787.1 1157.2,787.1 1157.5,787.1 1157.8,787.1 1158.2,787.1 1158.5,787.1 1158.8,787.1 1159.2,787.1 1159.5,787.1 1159.8,787.1 1160.2,787.1 1160.5,787.1 1160.8,787.1 1161.2,787.1 1161.5,787.1 1161.8,787.1 1162.2,787.1 1162.5,787.1 1162.8,787.1 1163.2,787.1 1163.5,787.1 1163.8,787.1 1164.2,787.1 1164.5,787.1 1164.8,787.1 1165.2,787.1 1165.5,787.1 1165.8,787.1 1166.2,787.1 1166.5,787.1 1166.8,787.1 1167.2,787.1 1167.5,787.1 1167.8,787.1 1168.2,787.1 1168.5,787.1 1168.8,787.1 1169.2,787.1 1169.5,787.1 1169.8,787.1 1170.2,787.1 1170.5,787.1 1170.8,787.1 1171.2,787.1 1171.5,787.1 1171.8,787.1 1172.2,787.1 1172.5,787.1 1172.8,787.1 1173.2,787.1 1173.5,787.1 1173.8,787.1 1174.2,787.1 1174.5,787.1 1174.8,787.1 1175.2,787.1 1175.5,787.1 1175.8,787.1 1176.2,787.1 1176.5,805.1 1176.8,821.2 1177.2,829.8 1177.5,840.7 1177.8,854.5 1178.2,859.5 1178.5,862.8 1178.8,861.6 1179.2,868.0 1179.5,867.4 1179.8,873.4 1180.2,870.4 1180.5,870.2 1180.8,875.9 1181.2,876.2 1181.5,879.2 1181.8,874.8 1182.2,878.8 1182.5,880.0 1182.8,883.2 1183.2,879.4 1183.5,883.4 1183.8,883.5 1184.2,882.5 1184.5,882.5 1184.8,882.6 1185.2,884.7 1185.5,875.4 1185.8,883.7 1186.2,882.7 1186.5,884.8 1186.8,882.8 1187.2,880.7 1187.5,885.0 1187.8,876.5 1188.2,881.9 1188.5,881.9 1188.8,880.8 1189.2,881.9 1189.5,878.7 1189.8,882.0 1190.2,880.9 1190.5,883.2 1190.8,882.1 1191.2,882.1 1191.5,881.0 1191.8,882.2 1192.2,885.6 1192.5,880.0 1192.8,880.0 1193.2,881.1 1193.5,886.8 1193.8,884.6 1194.2,881.2 1194.5,881.3 1194.8,884.6 1195.2,882.4 1195.5,884.6 1195.8,882.4 1196.2,883.5 1196.5,883.5 1196.8,885.8 1197.2,882.4 1197.5,881.3 1197.8,886.9 1198.2,885.8 1198.5,882.4 1198.8,881.3 1199.2,882.4 1199.5,882.4 1199.8,883.6 1200.2,882.5 1200.5,878.0 1200.8,880.2 1201.2,883.6 1201.5,884.7 1201.8,883.6 1202.2,884.7 1202.5,887.0 1202.8,882.5 1203.2,881.4 1203.5,885.9 1203.8,887.0 1204.2,884.8 1204.5,883.6 1204.8,885.9 1205.2,881.4 1205.5,885.9 1205.8,884.8 1206.2,880.3 1206.5,888.2 1206.8,882.6 1207.2,885.9 1207.5,880.3 1207.8,881.5 1208.2,885.9 1208.5,883.7 1208.8,882.6 1209.2,886.0 1209.5,884.8 1209.8,886.0 1210.2,887.1 1210.5,880.4 1210.8,884.9 1211.2,881.5 1211.5,882.6 1211.8,887.1 1212.2,880.4 1212.5,884.9 1212.8,880.4 1213.2,881.5 1213.5,880.4 1213.8,883.8 1214.2,881.5 1214.5,881.6 1214.8,886.0 1215.2,882.7 1215.5,881.6 1215.8,884.9 1216.2,883.8 1216.5,883.8 1216.8,881.6 1217.2,877.1 1217.5,887.2 1217.8,883.8 1218.2,882.7 1218.5,884.9 1218.8,880.4 1219.2,883.8 1219.5,887.2 1219.8,882.7 1220.2,882.7 1220.5,886.1 1220.8,882.7 1221.2,884.9 1221.5,881.6 1221.8,884.9 1222.2,884.9 1222.5,881.6 1222.8,883.8 1223.2,879.3 1223.5,883.8 1223.8,886.1 1224.2,883.8 1224.5,880.5 1224.8,884.9 1225.2,884.9 1225.5,882.7 1225.8,887.2 1226.2,884.9 1226.5,883.8 1226.8,886.1 1227.2,883.8 1227.5,886.1 1227.8,886.1 1228.2,885.0 1228.5,885.0 1228.8,885.0 1229.2,886.1 1229.5,882.7 1229.8,883.8 1230.2,883.8 1230.5,882.7 1230.8,886.1 1231.2,885.0 1231.5,881.6 1231.8,880.5 1232.2,886.1 1232.5,886.1 1232.8,883.8 1233.2,887.2 1233.5,883.8 1233.8,883.8 1234.2,886.1 1234.5,882.7 1234.8,885.0 1235.2,883.8 1235.5,880.5 1235.8,883.9 1236.2,883.9 1236.5,886.1 1236.8,883.9 1237.2,885.0 1237.5,883.9 1237.8,885.0 1238.2,879.4 1238.5,888.3 1238.8,880.5 1239.2,881.6 1239.5,882.7 1239.8,882.7 1240.2,880.5 1240.5,885.0 1240.8,883.9 1241.2,885.0 1241.5,880.5 1241.8,885.0 1242.2,883.9 1242.5,885.0 1242.8,885.0 1243.2,883.9 1243.5,881.6 1243.8,886.1 1244.2,882.7 1244.5,880.5 1244.8,885.0 1245.2,881.6 1245.5,883.9 1245.8,885.0 1246.2,886.1 1246.5,880.5 1246.8,880.5 1247.2,887.2 1247.5,887.2 1247.8,886.1 1248.2,885.0 1248.5,885.0 1248.8,886.1 1249.2,881.6 1249.5,880.5 1249.8,882.8 1250.2,885.0 1250.5,881.6 1250.8,882.8 1251.2,880.5 1251.5,886.1 1251.8,886.1 1252.2,883.9 1252.5,885.0 1252.8,883.9 1253.2,886.1 1253.5,883.9 1253.8,883.9 1254.2,888.4 1254.5,883.9 1254.8,887.3 1255.2,877.2 1255.5,882.8 1255.8,882.8 1256.2,882.8 1256.5,885.0 1256.8,880.5 1257.2,887.3 1257.5,881.7 1257.8,883.9 1258.2,881.7 1258.5,885.0 1258.8,887.3 1259.2,886.2 1259.5,887.3 1259.8,885.0 1260.2,882.8 1260.5,880.5 1260.8,880.5 1261.2,883.9 1261.5,880.5 1261.8,883.9 1262.2,883.9 1262.5,881.7 1262.8,883.9 1263.2,882.8 1263.5,888.4 1263.8,887.3 1264.2,883.9 1264.5,885.0 1264.8,885.0 1265.2,887.3 1265.5,880.6 1265.8,883.9 1266.2,885.0 1266.5,887.3 1266.8,885.1 1267.2,886.2 1267.5,883.9 1267.8,881.7 1268.2,888.4 1268.5,883.9 1268.8,888.4 1269.2,883.9 1269.5,886.2 1269.8,885.1 1270.2,883.9 1270.5,883.9 1270.8,883.9 1271.2,882.8 1271.5,883.9 1271.8,886.2 1272.2,885.1 1272.5,883.9 1272.8,883.9 1273.2,886.2 1273.5,882.8 1273.8,885.1 1274.2,881.7 1274.5,881.7 1274.8,885.1 1275.2,886.2 1275.5,886.2 1275.8,882.8 1276.2,886.2 1276.5,882.8 1276.8,884.0 1277.2,885.1 1277.5,886.2 1277.8,881.7 1278.2,885.1 1278.5,885.1 1278.8,885.1 1279.2,882.8 1279.5,884.0 1279.8,884.0 1280.2,885.1 1280.5,880.6 1280.8,885.1 1281.2,881.7 1281.5,885.1 1281.8,878.4 1282.2,882.8 1282.5,885.1 1282.8,886.2 1283.2,882.8 1283.5,881.7 1283.8,888.5 1284.2,888.5 1284.5,884.0 1284.8,885.1 1285.2,880.6 1285.5,888.5 1285.8,880.6 1286.2,886.2 1286.5,885.1 1286.8,885.1 1287.2,884.0 1287.5,885.1 1287.8,882.9 1288.2,887.3 1288.5,882.9 1288.8,886.2 1289.2,886.2 1289.5,887.4 1289.8,878.4 1290.2,886.2 1290.5,882.9 1290.8,886.2 1291.2,885.1 1291.5,882.9 1291.8,886.2 1292.2,886.2 1292.5,881.8 1292.8,886.2 1293.2,885.1 1293.5,880.6 1293.8,885.1 1294.2,887.4 1294.5,884.0 1294.8,885.1 1295.2,886.2 1295.5,884.0 1295.8,887.4 1296.2,885.1 1296.5,887.4 1296.8,886.2 1297.2,887.4 1297.5,881.8 1297.8,886.3 1298.2,886.3 1298.5,881.8 1298.8,885.1 1299.2,887.4 1299.5,888.5 1299.8,887.4 1300.2,882.9 1300.5,885.1 1300.8,880.6 1301.2,882.9 1301.5,880.7 1301.8,886.3 1302.2,884.0 1302.5,882.9 1302.8,882.9 1303.2,882.9 1303.5,885.1 1303.8,882.9 1304.2,882.9 1304.5,887.4 1304.8,887.4 1305.2,887.4 1305.5,881.8 1305.8,886.3 1306.2,885.2 1306.5,885.2 1306.8,882.9 1307.2,884.0 1307.5,885.2 1307.8,884.0 1308.2,885.2 1308.5,882.9 1308.8,881.8 1309.2,886.3 1309.5,887.4 1309.8,885.2 1310.2,884.0 1310.5,885.2 1310.8,886.3 1311.2,880.7 1311.5,882.9 1311.8,888.5 1312.2,885.2 1312.5,885.2 1312.8,887.4 1313.2,879.6 1313.5,884.0 1313.8,884.0 1314.2,882.9 1314.5,886.3 1314.8,885.2 1315.2,885.2 1315.5,887.4 1315.8,887.4 1316.2,882.9 1316.5,887.4 1316.8,882.9 1317.2,888.5 1317.5,878.4 1317.8,884.1 1318.2,886.3 1318.5,886.3 1318.8,884.1 1319.2,887.4 1319.5,881.8 1319.8,885.2 1320.2,887.4 1320.5,886.3 1320.8,886.3 1321.2,879.6 1321.5,888.6 1321.8,885.2 1322.2,884.1 1322.5,884.1 1322.8,882.9 1323.2,885.2 1323.5,883.0 1323.8,883.0 1324.2,885.2 1324.5,881.8 1324.8,879.6 1325.2,887.4 1325.5,885.2 1325.8,887.4 1326.2,886.3 1326.5,883.0 1326.8,888.6 1327.2,887.4 1327.5,886.3 1327.8,887.4 1328.2,885.2 1328.5,883.0 1328.8,886.3 1329.2,883.0 1329.5,886.3 1329.8,883.0 1330.2,883.0 1330.5,884.1 1330.8,885.2 1331.2,885.2 1331.5,884.1 1331.8,886.3 1332.2,886.3 1332.5,881.9 1332.8,887.5 1333.2,886.3 1333.5,885.2" stroke="#0000ff" stroke-width="1" fill="none" stroke-linejoin="round"/><rect x="1064.75" y="804.20" width="269.0" height="87.0" stroke="#8a8a8a" stroke-width="1.7" fill="none"/><text x="1061.1" y="896.1" text-anchor="end" class="tx">0</text><text x="1061.1" y="878.8" text-anchor="end" class="tx">10</text><text x="1061.1" y="861.4" text-anchor="end" class="tx">20</text><text x="1061.1" y="844.1" text-anchor="end" class="tx">30</text><text x="1061.1" y="826.7" text-anchor="end" class="tx">40</text><text x="1061.1" y="809.4" text-anchor="end" class="tx">50</text><text x="1089.5" y="905.0" text-anchor="middle" class="tx">20000</text><text x="1133.2" y="905.0" text-anchor="middle" class="tx">21000</text><text x="1176.8" y="905.0" text-anchor="middle" class="tx">22000</text><text x="1220.5" y="905.0" text-anchor="middle" class="tx">23000</text><text x="1264.2" y="905.0" text-anchor="middle" class="tx">24000</text><text x="1307.9" y="905.0" text-anchor="middle" class="tx">25000</text><rect x="1241.7" y="812.6" width="13.5" height="10.6" fill="#fff" stroke="#cccccc" stroke-width="1"/><rect x="1243.0" y="814.0" width="11" height="8" fill="#0000ff"/><text x="1259.1" y="822.0" class="tx" fill="#7d7d7d" style="fill:#7d7d7d;letter-spacing:0.64px">aida16 1.8.L</text><path d="M1333.2 795.1L1343.0 804.9L1333.2 814.7L1323.4 804.9z" fill="#ff0000"/></svg>
</body></html>
